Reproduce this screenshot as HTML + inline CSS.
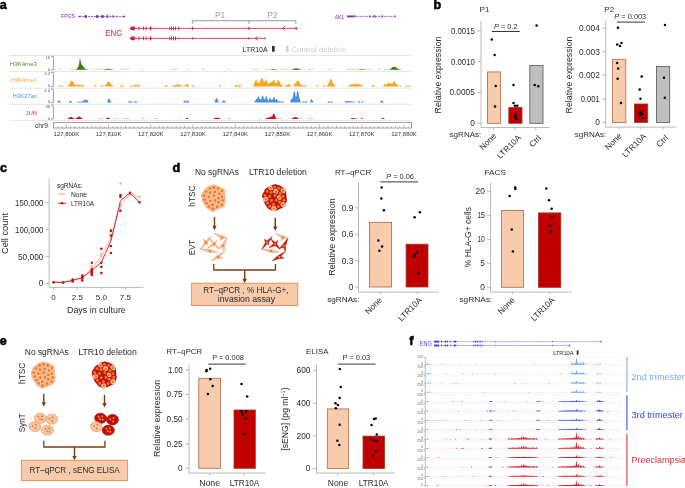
<!DOCTYPE html>
<html><head><meta charset="utf-8"><title>Figure</title>
<style>
html,body{margin:0;padding:0;background:#fff;width:685px;height:488px;overflow:hidden;}
svg{display:block;font-family:"Liberation Sans", sans-serif;will-change:transform;}
</style></head><body>
<svg width="685" height="488" viewBox="0 0 685 488" font-family='"Liberation Sans", sans-serif'>
<text x="-0.2" y="9.1" font-size="12.6" fill="#000" stroke="#000" stroke-width="0.55" font-weight="bold">a</text>
<text x="433.6" y="9.1" font-size="12.6" fill="#000" stroke="#000" stroke-width="0.55" font-weight="bold">b</text>
<text x="-0.1" y="172.2" font-size="12.6" fill="#000" stroke="#000" stroke-width="0.55" font-weight="bold">c</text>
<text x="172.5" y="172.2" font-size="12.6" fill="#000" stroke="#000" stroke-width="0.55" font-weight="bold">d</text>
<text x="-0.2" y="344.8" font-size="12.6" fill="#000" stroke="#000" stroke-width="0.55" font-weight="bold">e</text>
<text x="409.2" y="344.5" font-size="12.6" fill="#000" stroke="#000" stroke-width="0.55" font-weight="bold">f</text>
<text x="61" y="18.32" font-size="6.2" fill="#6f2cc4" textLength="14" lengthAdjust="spacingAndGlyphs">FPGS</text>
<line x1="78.5" y1="16.5" x2="125.3" y2="16.5" stroke="#6f2cc4" stroke-width="0.7" stroke-dasharray="2.2,0.9"/>
<rect x="84.8" y="15.2" width="1.8" height="2.6" fill="#6f2cc4" stroke="none" stroke-width="0.8"/>
<rect x="95.9" y="15.2" width="2.7" height="2.6" fill="#6f2cc4" stroke="none" stroke-width="0.8"/>
<rect x="101.1" y="15.2" width="2.6" height="2.6" fill="#6f2cc4" stroke="none" stroke-width="0.8"/>
<rect x="106.4" y="15.2" width="1.6" height="2.6" fill="#6f2cc4" stroke="none" stroke-width="0.8"/>
<rect x="112.5" y="15.2" width="1.2" height="2.6" fill="#6f2cc4" stroke="none" stroke-width="0.8"/>
<circle cx="85.7" cy="16.5" r="1.2" fill="#6f2cc4" stroke="none" stroke-width="0.5"/>
<polygon points="78.3,16.5 80.3,15.3 80.3,17.7" fill="#6f2cc4" stroke="none" stroke-width="0.5"/>
<polygon points="125.5,16.5 123,15.2 123,17.8" fill="#6f2cc4" stroke="none" stroke-width="0.5"/>
<line x1="109.6" y1="15.4" x2="109.6" y2="17.6" stroke="#6f2cc4" stroke-width="0.6"/>
<line x1="116.5" y1="15.4" x2="116.5" y2="17.6" stroke="#6f2cc4" stroke-width="0.6"/>
<text x="334.7" y="18.52" font-size="6.2" fill="#6f2cc4" textLength="9.4" lengthAdjust="spacingAndGlyphs">AK1</text>
<line x1="347" y1="16.4" x2="395.2" y2="16.4" stroke="#6f2cc4" stroke-width="0.7" stroke-dasharray="2.2,0.9"/>
<rect x="347" y="15.5" width="6.5" height="1.8" fill="#6f2cc4" stroke="none" stroke-width="0.8"/>
<rect x="369.5" y="15.3" width="1" height="2.2" fill="#6f2cc4" stroke="none" stroke-width="0.8"/>
<rect x="373.5" y="15.3" width="1" height="2.2" fill="#6f2cc4" stroke="none" stroke-width="0.8"/>
<rect x="374.7" y="15.3" width="1" height="2.2" fill="#6f2cc4" stroke="none" stroke-width="0.8"/>
<rect x="382" y="15.3" width="1" height="2.2" fill="#6f2cc4" stroke="none" stroke-width="0.8"/>
<rect x="394.5" y="15.3" width="1" height="2.2" fill="#6f2cc4" stroke="none" stroke-width="0.8"/>
<circle cx="354.5" cy="16.4" r="1.1" fill="none" stroke="#6f2cc4" stroke-width="0.5"/>
<text x="105.2" y="35.87" font-size="8.3" fill="#d9213a" textLength="17.1" lengthAdjust="spacingAndGlyphs">ENG</text>
<line x1="129.8" y1="28.4" x2="297" y2="28.4" stroke="#d9213a" stroke-width="0.8"/>
<polygon points="129.8,28.4 131.3,26.5 134.8,26.5 134.8,30.3 131.3,30.3" fill="#d9213a" stroke="none" stroke-width="0.5"/>
<rect x="138.55" y="26.5" width="0.9" height="3.8" fill="#d9213a" stroke="none" stroke-width="0.8"/>
<rect x="142.95" y="26.5" width="0.9" height="3.8" fill="#d9213a" stroke="none" stroke-width="0.8"/>
<rect x="145.65" y="26.5" width="0.9" height="3.8" fill="#d9213a" stroke="none" stroke-width="0.8"/>
<rect x="149.8" y="26.5" width="1.6" height="3.8" fill="#d9213a" stroke="none" stroke-width="0.8"/>
<rect x="169.35" y="26.5" width="0.9" height="3.8" fill="#d9213a" stroke="none" stroke-width="0.8"/>
<rect x="171.15" y="26.5" width="0.9" height="3.8" fill="#d9213a" stroke="none" stroke-width="0.8"/>
<rect x="173.05" y="26.5" width="0.9" height="3.8" fill="#d9213a" stroke="none" stroke-width="0.8"/>
<rect x="175.05" y="26.5" width="0.9" height="3.8" fill="#d9213a" stroke="none" stroke-width="0.8"/>
<rect x="178.3" y="26.5" width="1" height="3.8" fill="#d9213a" stroke="none" stroke-width="0.8"/>
<rect x="191.9" y="26.7" width="1" height="3.4" fill="#d9213a" stroke="none" stroke-width="0.8"/>
<rect x="248.4" y="26.7" width="1" height="3.4" fill="#d9213a" stroke="none" stroke-width="0.8"/>
<path d="M285.2,26.2 L282.2,28.4 L285.2,30.6" fill="none" stroke="#d9213a" stroke-width="0.8"/>
<polygon points="297.6,28.4 295.6,26.4 295.6,30.4" fill="#d9213a" stroke="none" stroke-width="0.5"/>
<line x1="129.8" y1="38.4" x2="265.2" y2="38.4" stroke="#d9213a" stroke-width="0.8"/>
<polygon points="129.8,38.4 131.3,36.5 134.8,36.5 134.8,40.3 131.3,40.3" fill="#d9213a" stroke="none" stroke-width="0.5"/>
<rect x="138.55" y="36.5" width="0.9" height="3.8" fill="#d9213a" stroke="none" stroke-width="0.8"/>
<rect x="142.95" y="36.5" width="0.9" height="3.8" fill="#d9213a" stroke="none" stroke-width="0.8"/>
<rect x="145.65" y="36.5" width="0.9" height="3.8" fill="#d9213a" stroke="none" stroke-width="0.8"/>
<rect x="149.8" y="36.5" width="1.6" height="3.8" fill="#d9213a" stroke="none" stroke-width="0.8"/>
<rect x="169.35" y="36.5" width="0.9" height="3.8" fill="#d9213a" stroke="none" stroke-width="0.8"/>
<rect x="171.15" y="36.5" width="0.9" height="3.8" fill="#d9213a" stroke="none" stroke-width="0.8"/>
<rect x="173.05" y="36.5" width="0.9" height="3.8" fill="#d9213a" stroke="none" stroke-width="0.8"/>
<rect x="175.05" y="36.5" width="0.9" height="3.8" fill="#d9213a" stroke="none" stroke-width="0.8"/>
<polygon points="178,38.4 178.8,37.2 179.6,38.4 178.8,39.6" fill="#d9213a" stroke="none" stroke-width="0.5"/>
<rect x="191.9" y="37.3" width="1" height="2.2" fill="#d9213a" stroke="none" stroke-width="0.8"/>
<rect x="248.4" y="37.3" width="1" height="2.2" fill="#d9213a" stroke="none" stroke-width="0.8"/>
<path d="M258.2,36.4 L255.0,38.4 L258.2,40.4" fill="none" stroke="#d9213a" stroke-width="0.8"/>
<line x1="265" y1="37.1" x2="265" y2="39.7" stroke="#d9213a" stroke-width="0.7"/>
<path d="M192.4,23.8 L192.4,20.7 L295.9,20.7 L295.9,23.8 M248.9,20.7 L248.9,23.8" fill="none" stroke="#8c8c8c" stroke-width="0.9"/>
<text x="220" y="17.51" font-size="8.4" fill="#9a9a9a" text-anchor="middle">P1</text>
<text x="272.3" y="17.51" font-size="8.4" fill="#9a9a9a" text-anchor="middle">P2</text>
<text x="242.6" y="51.66" font-size="8" fill="#222" textLength="25" lengthAdjust="spacingAndGlyphs">LTR10A</text>
<rect x="272" y="45.9" width="2.7" height="5.8" fill="#333" stroke="none" stroke-width="0.8"/>
<rect x="286.1" y="45.9" width="2.4" height="5.8" fill="#cfcfcf" stroke="none" stroke-width="0.8"/>
<text x="291.4" y="51.66" font-size="8" fill="#cdcdcd" textLength="55" lengthAdjust="spacingAndGlyphs">Control deletion</text>
<line x1="9.6" y1="55.5" x2="411.6" y2="55.5" stroke="#dedede" stroke-width="0.8"/>
<line x1="9.6" y1="71.6" x2="411.6" y2="71.6" stroke="#dedede" stroke-width="0.8"/>
<line x1="9.6" y1="88.2" x2="411.6" y2="88.2" stroke="#dedede" stroke-width="0.8"/>
<line x1="9.6" y1="104.3" x2="411.6" y2="104.3" stroke="#dedede" stroke-width="0.8"/>
<line x1="9.6" y1="120.4" x2="411.6" y2="120.4" stroke="#dedede" stroke-width="0.8"/>
<text x="37" y="65.98" font-size="6.1" fill="#4b8a22" text-anchor="end" textLength="27.2" lengthAdjust="spacingAndGlyphs">H3K4me3</text>
<text x="37" y="82.18" font-size="6.1" fill="#f4a535" text-anchor="end" textLength="26.3" lengthAdjust="spacingAndGlyphs">H3K4me1</text>
<text x="37" y="98.18" font-size="6.1" fill="#4a8fe0" text-anchor="end" textLength="24.4" lengthAdjust="spacingAndGlyphs">H3K27ac</text>
<text x="37" y="114.78" font-size="6.1" fill="#d83040" text-anchor="end" textLength="11.2" lengthAdjust="spacingAndGlyphs">JUN</text>
<path d="M51.0,56.4 L53.4,56.4 L53.4,69.8 L51.0,69.8" fill="none" stroke="#7a7a7a" stroke-width="0.7"/>
<text x="50.1" y="58.8" font-size="4.2" fill="#555" text-anchor="end">16</text>
<text x="50.1" y="70.7" font-size="4.2" fill="#555" text-anchor="end">0</text>
<rect x="53.6" y="68.8" width="2.2" height="1" fill="#cfe2bf" stroke="none" stroke-width="0.8"/>
<rect x="59.5" y="68.8" width="2.2" height="1" fill="#cfe2bf" stroke="none" stroke-width="0.8"/>
<rect x="69" y="68.8" width="6.5" height="1" fill="#cfe2bf" stroke="none" stroke-width="0.8"/>
<rect x="86.5" y="68.8" width="2.5" height="1" fill="#cfe2bf" stroke="none" stroke-width="0.8"/>
<rect x="90.9" y="68.8" width="1.4" height="1" fill="#cfe2bf" stroke="none" stroke-width="0.8"/>
<rect x="93.8" y="68.8" width="11.7" height="1" fill="#cfe2bf" stroke="none" stroke-width="0.8"/>
<rect x="111.3" y="68.8" width="2.9" height="1" fill="#cfe2bf" stroke="none" stroke-width="0.8"/>
<rect x="120" y="68.8" width="9.6" height="1" fill="#cfe2bf" stroke="none" stroke-width="0.8"/>
<rect x="140.5" y="68.8" width="2.2" height="1" fill="#cfe2bf" stroke="none" stroke-width="0.8"/>
<rect x="170.5" y="68.8" width="7.3" height="1" fill="#cfe2bf" stroke="none" stroke-width="0.8"/>
<rect x="185.9" y="68.8" width="2.9" height="1" fill="#cfe2bf" stroke="none" stroke-width="0.8"/>
<rect x="201" y="68.8" width="3.9" height="1" fill="#cfe2bf" stroke="none" stroke-width="0.8"/>
<rect x="227.5" y="68.8" width="2.9" height="1" fill="#cfe2bf" stroke="none" stroke-width="0.8"/>
<rect x="251.7" y="68.8" width="7.3" height="1" fill="#cfe2bf" stroke="none" stroke-width="0.8"/>
<rect x="265.5" y="68.8" width="12.5" height="1" fill="#cfe2bf" stroke="none" stroke-width="0.8"/>
<rect x="279.4" y="68.8" width="8.8" height="1" fill="#cfe2bf" stroke="none" stroke-width="0.8"/>
<rect x="289.6" y="68.8" width="16.1" height="1" fill="#cfe2bf" stroke="none" stroke-width="0.8"/>
<rect x="307.9" y="68.8" width="5.8" height="1" fill="#cfe2bf" stroke="none" stroke-width="0.8"/>
<rect x="327.6" y="68.8" width="4.4" height="1" fill="#cfe2bf" stroke="none" stroke-width="0.8"/>
<rect x="346" y="68.8" width="27" height="1" fill="#cfe2bf" stroke="none" stroke-width="0.8"/>
<rect x="377" y="68.8" width="4" height="1" fill="#cfe2bf" stroke="none" stroke-width="0.8"/>
<rect x="384" y="68.8" width="18.4" height="1" fill="#cfe2bf" stroke="none" stroke-width="0.8"/>
<polygon points="75.75,69.8 75.75,69.55 76,69.44 76.25,69.31 76.5,69.14 76.75,68.92 77,68.66 77.25,68.35 77.5,67.99 77.75,67.58 78,67.12 78.25,66.64 78.5,66.14 78.75,65.56 79,64.35 79.25,62.8 79.5,60.82 79.75,58.27 80,57.17 80.25,58.89 80.5,60.38 80.75,61.67 81,62.78 81.25,63.74 81.5,64.36 81.75,64.6 82,64.87 82.25,65.16 82.5,65.48 82.75,65.81 83,66.14 83.25,66.47 83.5,66.8 83.75,67.12 84,67.43 84.25,67.72 84.5,67.99 84.75,68.23 85,68.46 85.25,68.66 85.5,68.81 85.75,68.92 86,69.02 86.25,69.12 86.5,69.21 86.75,69.29 87,69.36 87.25,69.43 87.5,69.49 87.75,69.54 87.75,69.8" fill="#3e7d10" stroke="none" stroke-width="0.5"/>
<polygon points="104.5,69.8 104.5,69.5 104.75,69.44 105,69.38 105.25,69.32 105.5,69.25 105.75,69.18 106,69.11 106.25,69.05 106.5,68.99 106.75,68.94 107,68.9 107.25,68.86 107.5,68.84 107.75,68.82 108,68.81 108.25,68.8 108.5,68.8 108.75,68.8 109,68.81 109.25,68.83 109.5,68.86 109.75,68.89 110,68.93 110.25,68.98 110.5,69.04 110.75,69.1 111,69.17 111.25,69.23 111.5,69.3 111.75,69.37 112,69.43 112.25,69.49 112.5,69.54 112.5,69.8" fill="#3e7d10" stroke="none" stroke-width="0.5"/>
<polygon points="270.75,69.8 270.75,69.54 271,69.48 271.25,69.42 271.5,69.36 271.75,69.3 272,69.25 272.25,69.2 272.5,69.17 272.75,69.14 273,69.12 273.25,69.1 273.5,69.1 273.75,69.1 274,69.11 274.25,69.12 274.5,69.14 274.75,69.17 275,69.21 275.25,69.26 275.5,69.32 275.75,69.37 276,69.43 276.25,69.49 276.5,69.55 276.5,69.8" fill="#3e7d10" stroke="none" stroke-width="0.5"/>
<polygon points="292,69.8 292,69.53 292.25,69.46 292.5,69.37 292.75,69.28 293,69.18 293.25,69.08 293.5,68.97 293.75,68.86 294,68.76 294.25,68.66 294.5,68.57 294.75,68.49 295,68.42 295.25,68.37 295.5,68.33 295.75,68.31 296,68.3 296.25,68.3 296.5,68.3 296.75,68.31 297,68.33 297.25,68.37 297.5,68.41 297.75,68.46 298,68.52 298.25,68.6 298.5,68.68 298.75,68.77 299,68.86 299.25,68.96 299.5,69.05 299.75,69.14 300,69.23 300.25,69.32 300.5,69.4 300.75,69.47 301,69.53 301,69.8" fill="#3e7d10" stroke="none" stroke-width="0.5"/>
<polygon points="358.75,69.8 358.75,69.53 359,69.49 359.25,69.44 359.5,69.4 359.75,69.37 360,69.33 360.25,69.3 360.5,69.27 360.75,69.25 361,69.23 361.25,69.21 361.5,69.21 361.75,69.2 362,69.2 362.25,69.2 362.5,69.21 362.75,69.21 363,69.23 363.25,69.25 363.5,69.27 363.75,69.3 364,69.33 364.25,69.37 364.5,69.4 364.75,69.44 365,69.49 365.25,69.53 365.25,69.8" fill="#3e7d10" stroke="none" stroke-width="0.5"/>
<polygon points="389.5,69.8 389.5,69.53 389.75,69.43 390,69.31 390.25,69.17 390.5,69 390.75,68.8 391,68.59 391.25,68.37 391.5,68.13 391.75,67.9 392,67.67 392.25,67.46 392.5,67.28 392.75,67.12 393,66.99 393.25,66.9 393.5,66.84 393.75,66.81 394,66.8 394.25,66.8 394.5,66.82 394.75,66.86 395,66.92 395.25,67 395.5,67.1 395.75,67.22 396,67.37 396.25,67.53 396.5,67.7 396.75,67.88 397,68.07 397.25,68.26 397.5,68.45 397.75,68.63 398,68.8 398.25,68.96 398.5,69.11 398.75,69.23 399,69.34 399.25,69.44 399.5,69.52 399.5,69.8" fill="#3e7d10" stroke="none" stroke-width="0.5"/>
<path d="M51.0,72.5 L53.4,72.5 L53.4,86.4 L51.0,86.4" fill="none" stroke="#7a7a7a" stroke-width="0.7"/>
<text x="50.1" y="74.9" font-size="4.2" fill="#555" text-anchor="end">2.4</text>
<text x="50.1" y="87.3" font-size="4.2" fill="#555" text-anchor="end">0</text>
<polygon points="58.75,86.4 58.75,86.03 59,85.82 59.25,85.6 59.5,85.43 59.75,85.33 60,85.3 60.25,85.33 60.5,85.43 60.75,85.6 61,85.82 61.25,86.03 61.5,85.88 61.75,85.68 62,85.52 62.25,85.42 62.5,85.4 62.75,85.42 63,85.52 63.25,85.68 63.5,85.88 63.75,86.07 63.75,86.4" fill="#f5a623" stroke="none" stroke-width="0.5"/>
<polygon points="67.5,86.4 67.5,86.02 67.75,85.82 68,85.57 68.25,85.28 68.5,84.96 68.75,84.65 69,84.37 69.25,84.15 69.5,84 69.75,83.54 70,82.9 70.25,82.28 70.5,81.72 70.75,81.28 71,80.96 71.25,80.77 71.5,80.7 71.75,80.7 72,80.75 72.25,80.86 72.5,81.04 72.75,81.3 73,81.63 73.25,82.02 73.5,82.46 73.75,82.93 74,83.41 74.25,83.89 74.5,84.34 74.75,84.75 75,85.11 75.25,85.43 75.5,85.61 75.75,85.36 76,85.13 76.25,84.93 76.5,84.79 76.75,84.72 77,84.7 77.25,84.72 77.5,84.79 77.75,84.93 78,85.13 78.25,85.36 78.5,85.2 78.75,85.02 79,84.88 79.25,84.82 79.5,84.8 79.75,84.82 80,84.88 80.25,85.02 80.5,85.2 80.75,85.36 81,85.13 81.25,84.93 81.5,84.79 81.75,84.72 82,84.7 82.25,84.72 82.5,84.79 82.75,84.93 83,85.13 83.25,85.36 83.5,85.61 83.75,85.84 84,86.03 84,86.4" fill="#f5a623" stroke="none" stroke-width="0.5"/>
<polygon points="93.5,86.4 93.5,86.13 93.75,85.97 94,85.77 94.25,85.57 94.5,85.39 94.75,85.27 95,85.21 95.25,85.2 95.5,85.23 95.75,85.31 96,85.46 96.25,85.65 96.5,85.85 96.75,86.04 96.75,86.4" fill="#f5a623" stroke="none" stroke-width="0.5"/>
<polygon points="100.5,86.4 100.5,86.13 100.75,85.97 101,85.77 101.25,85.57 101.5,85.39 101.75,85.27 102,85.21 102.25,85.2 102.5,85.23 102.75,85.31 103,85.46 103.25,85.65 103.5,85.85 103.75,86.04 103.75,86.4" fill="#f5a623" stroke="none" stroke-width="0.5"/>
<polygon points="104.5,86.4 104.5,86.02 104.75,85.82 105,85.57 105.25,85.28 105.5,84.96 105.75,84.65 106,84.37 106.25,84.15 106.5,84 106.75,83.92 107,83.46 107.25,82.89 107.5,82.4 107.75,82.04 108,81.81 108.25,81.71 108.5,81.7 108.75,81.72 109,81.79 109.25,81.9 109.5,82.07 109.75,82.29 110,82.56 110.25,82.87 110.5,83.21 110.75,83.57 111,83.94 111.25,84.3 111.5,84.64 111.75,84.92 112,84.98 112.25,85.1 112.5,85.28 112.75,85.48 113,85.7 113.25,85.9 113.5,86.07 113.5,86.4" fill="#f5a623" stroke="none" stroke-width="0.5"/>
<polygon points="120,86.4 120,86.13 120.25,85.95 120.5,85.71 120.75,85.46 121,85.22 121.25,85.04 121.5,84.93 121.75,84.9 122,84.91 122.25,84.99 122.5,85.14 122.75,85.36 123,85.61 123.25,85.86 123.5,86.06 123.5,86.4" fill="#f5a623" stroke="none" stroke-width="0.5"/>
<polygon points="130,86.4 130,86.13 130.25,85.97 130.5,85.77 130.75,85.57 131,85.39 131.25,85.27 131.5,85.21 131.75,85.2 132,85.23 132.25,85.31 132.5,85.46 132.75,85.65 133,85.85 133.25,86.04 133.5,86.05 133.75,85.87 134,85.65 134.25,85.42 134.5,85.2 134.75,85.02 135,84.88 135.25,84.82 135.5,84.8 135.75,84.82 136,84.88 136.25,85.02 136.5,85.2 136.75,85.42 137,85.25 137.25,85 137.5,84.81 137.75,84.67 138,84.61 138.25,84.6 138.5,84.63 138.75,84.72 139,84.88 139.25,85.1 139.5,85.35 139.75,85.61 140,85.85 140.25,86.04 140.25,86.4" fill="#f5a623" stroke="none" stroke-width="0.5"/>
<polygon points="164.5,86.4 164.5,86.04 164.75,85.85 165,85.63 165.25,85.42 165.5,85.25 165.75,85.14 166,85.1 166.25,85.11 166.5,85.16 166.75,85.28 167,85.46 167.25,85.67 167.5,85.89 167.75,86.08 167.75,86.4" fill="#f5a623" stroke="none" stroke-width="0.5"/>
<polygon points="172,86.4 172,86.07 172.25,85.9 172.5,85.7 172.75,85.48 173,85.28 173.25,85.1 173.5,84.98 173.75,84.92 174,84.9 174.25,84.92 174.5,84.98 174.75,85.1 175,85.28 175.25,85.1 175.5,84.88 175.75,84.72 176,84.63 176.25,84.6 176.5,84.61 176.75,84.67 177,84.81 177.25,85 177.5,84.87 177.75,84.59 178,84.38 178.25,84.25 178.5,84.2 178.75,84.2 179,84.25 179.25,84.36 179.5,84.53 179.75,84.76 180,85.02 180.25,85.12 180.5,85.1 180.75,85.12 181,85.2 181.25,85.35 181.5,85.54 181.75,85.76 182,85.97 182.25,86.14 182.25,86.4" fill="#f5a623" stroke="none" stroke-width="0.5"/>
<polygon points="183.25,86.4 183.25,86.07 183.5,85.88 183.75,85.68 184,85.52 184.25,85.42 184.5,85.4 184.75,85.42 185,85.52 185.25,85.68 185.5,85.63 185.75,85.3 186,84.94 186.25,84.59 186.5,84.29 186.75,84.07 187,83.94 187.25,83.9 187.5,83.92 187.75,84 188,84.19 188.25,84.46 188.5,84.8 188.75,85.16 189,85.51 189.25,85.8 189.5,86.03 189.5,86.4" fill="#f5a623" stroke="none" stroke-width="0.5"/>
<polygon points="191.5,86.4 191.5,86.04 191.75,85.85 192,85.63 192.25,85.42 192.5,85.25 192.75,85.14 193,85.1 193.25,85.11 193.5,85.16 193.75,85.28 194,85.46 194.25,85.67 194.5,85.89 194.75,86.08 194.75,86.4" fill="#f5a623" stroke="none" stroke-width="0.5"/>
<polygon points="218.5,86.4 218.5,86.12 218.75,85.98 219,85.81 219.25,85.65 219.5,85.52 219.75,85.43 220,85.4 220.25,85.4 220.5,85.45 220.75,85.54 221,85.68 221.25,85.84 221.5,86.01 221.5,86.4" fill="#f5a623" stroke="none" stroke-width="0.5"/>
<polygon points="234,86.4 234,86.09 234.25,85.94 234.5,85.75 234.75,85.54 235,85.35 235.25,85.19 235.5,85.07 235.75,85.01 236,85 236.25,85.01 236.5,85.07 236.75,85.19 237,85.35 237.25,85.54 237.5,85.75 237.75,85.94 238,85.75 238.25,85.54 238.5,85.35 238.75,85.19 239,85.07 239.25,85.01 239.5,85 239.75,85.01 240,85.07 240.25,85.19 240.5,85.35 240.75,85.54 241,85.75 241.25,85.94 241.5,86.09 241.5,86.4" fill="#f5a623" stroke="none" stroke-width="0.5"/>
<polygon points="253,86.4 253,86.05 253.25,85.8 253.5,85.43 253.75,84.92 254,84.28 254.25,83.53 254.5,82.72 254.75,81.92 255,81.21 255.25,80.64 255.5,80.25 255.75,80.05 256,80 256.25,80.05 256.5,80.25 256.75,80.64 257,81.21 257.25,81.92 257.5,82.72 257.75,83.24 258,82.86 258.25,82.59 258.5,82.45 258.75,82.4 259,82.42 259.25,82.52 259.5,82.74 259.75,83.07 260,82.42 260.25,81.48 260.5,80.57 260.75,79.74 261,79.06 261.25,78.55 261.5,78.24 261.75,78.11 262,78.11 262.25,78.2 262.5,78.47 262.75,78.94 263,79.59 263.25,80.4 263.5,81.3 263.75,81.93 264,81.9 264.25,81.93 264.5,82.07 264.75,82.06 265,81.37 265.25,80.82 265.5,80.44 265.75,80.25 266,80.2 266.25,80.25 266.5,80.44 266.75,80.82 267,81.37 267.25,82.06 267.5,82.83 267.75,83.62 268,83.84 268.25,83.63 268.5,83.49 268.75,83.42 269,83.4 269.25,83.42 269.5,83.49 269.75,83.63 270,83.36 270.25,82.84 270.5,82.42 270.75,82.12 271,81.95 271.25,81.9 271.5,81.92 271.75,82.04 272,82.28 272.25,82.17 272.5,81.4 272.75,80.76 273,80.29 273.25,80.01 273.5,79.91 273.75,79.91 274,80.05 274.25,80.37 274.5,80.87 274.75,81.55 275,82.33 275.25,83.16 275.5,83.04 275.75,82.93 276,82.9 276.25,82.93 276.5,83.04 276.75,82.74 277,81.99 277.25,81.33 277.5,80.82 277.75,80.48 278,80.33 278.25,80.3 278.5,80.34 278.75,80.48 279,80.72 279.25,81.08 279.5,81.55 279.75,82.1 280,82.71 280.25,83.33 280.5,83.93 280.75,84.42 281,84.4 281.25,84.42 281.5,84.51 281.75,84.67 282,84.9 282.25,85.18 282.5,85.47 282.75,85.74 283,85.96 283.25,86.13 283.25,86.4" fill="#f5a623" stroke="none" stroke-width="0.5"/>
<polygon points="284.5,86.4 284.5,86.07 284.75,85.9 285,85.7 285.25,85.48 285.5,85.28 285.75,85.1 286,84.98 286.25,84.92 286.5,84.9 286.75,84.92 287,84.98 287.25,85.1 287.5,85.28 287.75,84.93 288,84.6 288.25,84.32 288.5,84.13 288.75,84.02 289,84 289.25,84.02 289.5,84.13 289.75,84.32 290,84.6 290.25,84.93 290.5,85.28 290.75,85.6 291,85.87 291.25,86.08 291.25,86.4" fill="#f5a623" stroke="none" stroke-width="0.5"/>
<polygon points="293.25,86.4 293.25,86.07 293.5,85.87 293.75,85.59 294,85.24 294.25,84.83 294.5,84.39 294.75,83.95 295,83.56 295.25,83.25 295.5,83.04 295.75,82.93 296,82.9 296.25,82.45 296.5,81.86 296.75,81.35 297,80.98 297.25,80.73 297.5,80.62 297.75,80.6 298,80.63 298.25,80.73 298.5,80.92 298.75,81.2 299,81.57 299.25,82.01 299.5,82.51 299.75,83.04 300,83.57 300.25,84.09 300.5,84.4 300.75,84.42 301,84.51 301.25,84.67 301.5,84.9 301.75,85.18 302,85.47 302.25,85.43 302.5,85.29 302.75,85.22 303,85.2 303.25,85.22 303.5,85.29 303.75,85.43 304,85.61 304.25,85.81 304.5,85.61 304.75,85.43 305,85.29 305.25,85.22 305.5,85.2 305.75,85.22 306,85.29 306.25,85.43 306.5,85.61 306.75,85.81 307,86 307,86.4" fill="#f5a623" stroke="none" stroke-width="0.5"/>
<polygon points="316,86.4 316,86.12 316.25,85.91 316.5,85.67 316.75,85.45 317,85.28 317.25,85.21 317.5,85.2 317.75,85.26 318,85.41 318.25,85.62 318.5,85.87 318.75,86.08 318.75,86.4" fill="#f5a623" stroke="none" stroke-width="0.5"/>
<polygon points="322.75,86.4 322.75,86.04 323,85.88 323.25,85.71 323.5,85.56 323.75,85.46 324,85.41 324.25,85.4 324.5,85.42 324.75,85.49 325,85.62 325.25,85.77 325.5,85.94 325.75,86.1 325.75,86.4" fill="#f5a623" stroke="none" stroke-width="0.5"/>
<polygon points="326.75,86.4 326.75,86.03 327,85.79 327.25,85.47 327.5,85.07 327.75,84.6 328,84.1 328.25,83.6 328.5,83.15 328.75,82.8 329,82.56 329.25,82.43 329.5,82.15 329.75,81.12 330,80.23 330.25,79.58 330.5,79.22 330.75,79.1 331,79.12 331.25,79.23 331.5,79.47 331.75,79.85 332,80.36 332.25,80.98 332.5,81.68 332.75,82.42 333,83.16 333.25,83.85 333.5,84.4 333.75,84.42 334,84.51 334.25,84.67 334.5,84.9 334.75,85.18 335,85.47 335.25,85.74 335.5,85.96 335.75,86.13 335.75,86.4" fill="#f5a623" stroke="none" stroke-width="0.5"/>
<polygon points="348.25,86.4 348.25,86.06 348.5,85.92 348.75,85.74 349,85.53 349.25,85.31 349.5,85.08 349.75,84.87 350,84.69 350.25,84.55 350.5,84.46 350.75,84.41 351,84.4 351.25,84.41 351.5,84.46 351.75,84.55 352,84.69 352.25,84.41 352.5,84.18 352.75,84 353,83.88 353.25,83.81 353.5,83.8 353.75,83.81 354,83.88 354.25,84 354.5,84.18 354.75,84.41 355,84.49 355.25,84.18 355.5,83.92 355.75,83.72 356,83.59 356.25,83.52 356.5,83.5 356.75,83.52 357,83.59 357.25,83.72 357.5,83.92 357.75,84.18 358,84.49 358.25,84.72 358.5,84.52 358.75,84.37 359,84.26 359.25,84.21 359.5,84.2 359.75,84.21 360,84.26 360.25,84.37 360.5,84.52 360.75,84.72 361,84.95 361.25,85.2 361.5,85.2 361.75,85.21 362,85.26 362.25,85.36 362.5,85.5 362.75,85.67 363,85.84 363.25,86 363.5,86.14 363.5,86.4" fill="#f5a623" stroke="none" stroke-width="0.5"/>
<polygon points="371.5,86.4 371.5,86.06 371.75,85.86 372,85.61 372.25,85.36 372.5,85.14 372.75,84.99 373,84.91 373.25,84.9 373.5,84.93 373.75,85.04 374,85.22 374.25,85.46 374.5,85.71 374.75,85.95 375,86.13 375,86.4" fill="#f5a623" stroke="none" stroke-width="0.5"/>
<polygon points="383,86.4 383,86.02 383.25,85.82 383.5,85.57 383.75,85.28 384,84.96 384.25,84.65 384.5,84.37 384.75,84.15 385,84 385.25,83.92 385.5,83.9 385.75,83.92 386,84 386.25,84.15 386.5,84.37 386.75,84.65 387,84.16 387.25,83.67 387.5,83.24 387.75,82.89 388,82.65 388.25,82.53 388.5,82.5 388.75,82.53 389,82.65 389.25,82.89 389.5,83.24 389.75,83.67 390,83.97 390.25,83.7 390.5,83.52 390.75,83.42 391,83.4 391.25,83.42 391.5,83.52 391.75,83.7 392,83.97 392.25,84.06 392.5,83.41 392.75,82.76 393,82.18 393.25,81.72 393.5,81.4 393.75,81.24 394,81.2 394.25,81.22 394.5,81.32 394.75,81.51 395,81.8 395.25,82.18 395.5,82.64 395.75,83.15 396,83.67 396.25,84.19 396.5,84.4 396.75,84.41 397,84.48 397.25,84.6 397.5,84.78 397.75,85 398,85.25 398.25,85.5 398.5,85.74 398.75,85.94 399,86.1 399,86.4" fill="#f5a623" stroke="none" stroke-width="0.5"/>
<polygon points="399.75,86.4 399.75,86.13 400,85.98 400.25,85.82 400.5,85.69 400.75,85.62 401,85.6 401.25,85.62 401.5,85.69 401.75,85.82 402,85.98 402.25,86.13 402.25,86.4" fill="#f5a623" stroke="none" stroke-width="0.5"/>
<polygon points="405,86.4 405,86.1 405.25,85.96 405.5,85.81 405.75,85.67 406,85.57 406.25,85.51 406.5,85.5 406.75,85.51 407,85.57 407.25,85.67 407.5,85.81 407.75,85.96 408,86.1 408.25,85.96 408.5,85.81 408.75,85.67 409,85.57 409.25,85.51 409.5,85.5 409.75,85.51 410,85.57 410.25,85.67 410.5,85.81 410.75,85.96 411,86.1 411,86.4" fill="#f5a623" stroke="none" stroke-width="0.5"/>
<path d="M51.0,89.1 L53.4,89.1 L53.4,102.5 L51.0,102.5" fill="none" stroke="#7a7a7a" stroke-width="0.7"/>
<text x="50.1" y="91.5" font-size="4.2" fill="#555" text-anchor="end">4.0</text>
<text x="50.1" y="103.4" font-size="4.2" fill="#555" text-anchor="end">0</text>
<polygon points="57,102.5 57,102.2 57.25,101.98 57.5,101.68 57.75,101.33 58,100.98 58.25,100.69 58.5,100.49 58.75,100.41 59,100.4 59.25,100.45 59.5,100.57 59.75,100.77 60,101.04 60.25,101.34 60.5,101.64 60.75,101.9 61,102.12 61,102.5" fill="#4a8fe0" stroke="none" stroke-width="0.5"/>
<polygon points="68.75,102.5 68.75,102.2 69,101.93 69.25,101.58 69.5,101.2 69.75,100.87 70,100.67 70.25,100.6 70.5,100.62 70.75,100.71 71,100.91 71.25,101.19 71.5,101.5 71.75,101.81 72,102.07 72,102.5" fill="#4a8fe0" stroke="none" stroke-width="0.5"/>
<polygon points="77.25,102.5 77.25,102.17 77.5,101.98 77.75,101.78 78,101.62 78.25,101.52 78.5,101.5 78.75,101.52 79,101.62 79.25,101.78 79.5,101.98 79.75,102.17 80,101.98 80.25,101.78 80.5,101.62 80.75,101.52 81,101.5 81.25,101.52 81.5,101.62 81.75,101.78 82,101.98 82.25,101.84 82.5,101.45 82.75,101.05 83,100.73 83.25,100.55 83.5,100.5 83.75,100.55 84,100.73 84.25,100.93 84.5,100.39 84.75,99.9 85,99.54 85.25,99.35 85.5,99.3 85.75,99.35 86,99.54 86.25,99.9 86.5,100.29 86.75,100.06 87,100 87.25,100.06 87.5,100.29 87.75,100.69 88,101.19 88.25,101.67 88.5,102.05 88.5,102.5" fill="#4a8fe0" stroke="none" stroke-width="0.5"/>
<polygon points="107,102.5 107,102.06 107.25,101.69 107.5,101.17 107.75,100.54 108,99.86 108.25,99.25 108.5,98.8 108.75,98.56 109,98.5 109.25,98.54 109.5,98.71 109.75,99.04 110,99.5 110.25,100.05 110.5,100.63 110.75,101.17 111,101.62 111.25,101.97 111.5,102.2 111.5,102.5" fill="#4a8fe0" stroke="none" stroke-width="0.5"/>
<polygon points="127.75,102.5 127.75,102.1 128,101.87 128.25,101.63 128.5,101.44 128.75,101.33 129,101.3 129.25,101.33 129.5,101.44 129.75,101.63 130,101.71 130.25,101.41 130.5,101.17 130.75,101.03 131,101 131.25,101.03 131.5,101.17 131.75,101.41 132,101.71 132.25,102 132.5,102.23 132.5,102.5" fill="#4a8fe0" stroke="none" stroke-width="0.5"/>
<polygon points="133.75,102.5 133.75,102.07 134,101.82 134.25,101.56 134.5,101.35 134.75,101.23 135,101.2 135.25,101.23 135.5,101.35 135.75,101.56 136,101.62 136.25,101.52 136.5,101.5 136.75,101.52 137,101.62 137.25,101.78 137.5,101.98 137.75,102.17 137.75,102.5" fill="#4a8fe0" stroke="none" stroke-width="0.5"/>
<polygon points="183.25,102.5 183.25,102.09 183.5,101.84 183.75,101.52 184,101.18 184.25,100.88 184.5,100.65 184.75,100.53 185,100.5 185.25,100.53 185.5,100.65 185.75,100.88 186,101.18 186.25,101.52 186.5,101.18 186.75,100.88 187,100.65 187.25,100.53 187.5,100.5 187.75,100.53 188,100.65 188.25,100.88 188.5,101.18 188.75,101.52 189,101.84 189.25,102.09 189.25,102.5" fill="#4a8fe0" stroke="none" stroke-width="0.5"/>
<polygon points="214.5,102.5 214.5,102.01 214.75,101.61 215,101.04 215.25,100.34 215.5,99.6 215.75,98.93 216,98.43 216.25,98.17 216.5,98.1 216.75,98.15 217,98.33 217.25,98.69 217.5,99.2 217.75,99.81 218,100.45 218.25,101.04 218.5,101.54 218.75,101.91 219,102.17 219,102.5" fill="#4a8fe0" stroke="none" stroke-width="0.5"/>
<polygon points="221.75,102.5 221.75,102.07 222,101.8 222.25,101.47 222.5,101.12 222.75,100.8 223,100.56 223.25,100.43 223.5,100.4 223.75,100.42 224,100.48 224.25,100.61 224.5,100.8 224.75,101.03 225,101.29 225.25,101.56 225.5,101.8 225.75,102.01 226,102.18 226,102.5" fill="#4a8fe0" stroke="none" stroke-width="0.5"/>
<polygon points="254.5,102.5 254.5,102.11 254.75,101.79 255,101.34 255.25,100.78 255.5,100.19 255.75,99.66 256,99.27 256.25,99.05 256.5,99 256.75,99.05 257,99.25 257.25,98.21 257.5,97.31 257.75,96.67 258,96.35 258.25,96.3 258.5,96.44 258.75,96.89 259,97.64 259.25,98.62 259.5,99.27 259.75,99.05 260,99 260.25,99.05 260.5,99.27 260.75,99.66 261,100.19 261.25,99.49 261.5,98.3 261.75,97.15 262,96.22 262.25,95.63 262.5,95.41 262.75,95.43 263,95.72 263.25,96.38 263.5,97.36 263.75,98.54 264,99 264.25,99.05 264.5,99.27 264.75,99.66 265,99.57 265.25,98.49 265.5,97.49 265.75,96.7 266,96.25 266.25,96.1 266.5,96.16 266.75,96.48 267,97.14 267.25,98.07 267.5,99.14 267.75,100.18 268,100.5 268.25,100.53 268.5,100.65 268.75,100.29 269,99.53 269.25,98.85 269.5,98.34 269.75,98.07 270,98 270.25,98.07 270.5,98.34 270.75,98.85 271,99.53 271.25,100.07 271.5,99.73 271.75,99.54 272,99.5 272.25,99.54 272.5,99.73 272.75,99.43 273,98.52 273.25,97.76 273.5,97.25 273.75,97.02 274,97.01 274.25,97.18 274.5,97.63 274.75,98.35 275,99.24 275.25,100.16 275.5,100.19 275.75,99.66 276,99.27 276.25,99.05 276.5,99 276.75,99.05 277,99.27 277.25,99.66 277.5,100.19 277.75,100.78 278,101.34 278.25,101.41 278.5,101.17 278.75,101.03 279,101 279.25,101.03 279.5,101.17 279.75,101.41 280,101.71 280.25,102 280.5,101.87 280.75,101.63 281,101.44 281.25,101.33 281.5,101.3 281.75,101.33 282,101.44 282.25,101.63 282.5,101.62 282.75,101.52 283,101.5 283.25,101.52 283.5,101.62 283.75,101.78 284,101.98 284.25,102.17 284.25,102.5" fill="#4a8fe0" stroke="none" stroke-width="0.5"/>
<polygon points="290,102.5 290,102.06 290.25,101.69 290.5,101.17 290.75,100.54 291,99.86 291.25,99.25 291.5,98.8 291.75,98.56 292,98.5 292.25,98.56 292.5,98.8 292.75,97.54 293,95.92 293.25,94.32 293.5,92.95 293.75,91.95 294,91.38 294.25,91.2 294.5,91.27 294.75,91.67 295,92.5 295.25,93.74 295.5,95.27 295.75,96.64 296,96.5 296.25,96.64 296.5,95.14 296.75,93.58 297,92.32 297.25,91.48 297.5,91.07 297.75,91 298,91.18 298.25,91.76 298.5,92.78 298.75,94.18 299,95.8 299.25,97.46 299.5,98.08 299.75,98.88 300,99.88 300.25,100.84 300.5,101.59 300.75,102.08 300.75,102.5" fill="#4a8fe0" stroke="none" stroke-width="0.5"/>
<polygon points="302.25,102.5 302.25,102.07 302.5,101.82 302.75,101.56 303,101.35 303.25,101.23 303.5,101.2 303.75,101.23 304,101.35 304.25,101.56 304.5,101.82 304.75,102.07 305,101.82 305.25,101.56 305.5,101.35 305.75,101.23 306,101.2 306.25,101.23 306.5,101.35 306.75,101.56 307,101.82 307.25,102.07 307.25,102.5" fill="#4a8fe0" stroke="none" stroke-width="0.5"/>
<polygon points="309.75,102.5 309.75,102.22 310,101.9 310.25,101.4 310.5,100.77 310.75,100.11 311,99.58 311.25,99.28 311.5,99.2 311.75,99.25 312,99.45 312.25,99.82 312.5,100.32 312.75,100.88 313,101.4 313.25,101.83 313.5,102.13 313.5,102.5" fill="#4a8fe0" stroke="none" stroke-width="0.5"/>
<polygon points="327.5,102.5 327.5,102.23 327.75,102 328,101.71 328.25,101.41 328.5,101.17 328.75,101.03 329,101 329.25,101.03 329.5,101.17 329.75,101.41 330,101.71 330.25,102 330.5,102.23 330.75,102.1 331,101.87 331.25,101.63 331.5,101.44 331.75,101.33 332,101.3 332.25,101.33 332.5,101.44 332.75,101.63 333,101.87 333.25,102.1 333.25,102.5" fill="#4a8fe0" stroke="none" stroke-width="0.5"/>
<polygon points="344.5,102.5 344.5,102.23 344.75,102 345,101.71 345.25,101.41 345.5,101.17 345.75,101.03 346,101 346.25,101.03 346.5,101.17 346.75,101.41 347,101.56 347.25,101.2 347.5,100.91 347.75,100.74 348,100.7 348.25,100.74 348.5,100.91 348.75,101.2 349,101.56 349.25,101.41 349.5,101.17 349.75,101.03 350,101 350.25,101.03 350.5,101.17 350.75,101.41 351,101.71 351.25,101.63 351.5,101.44 351.75,101.33 352,101.3 352.25,101.33 352.5,101.44 352.75,101.63 353,101.87 353.25,101.92 353.5,101.79 353.75,101.72 354,101.7 354.25,101.72 354.5,101.79 354.75,101.92 355,102.08 355.25,102.23 355.25,102.5" fill="#4a8fe0" stroke="none" stroke-width="0.5"/>
<polygon points="357.5,102.5 357.5,102.23 357.75,102 358,101.71 358.25,101.41 358.5,101.17 358.75,101.03 359,101 359.25,101.03 359.5,101.17 359.75,101.41 360,101.71 360.25,102 360.5,102.23 360.5,102.5" fill="#4a8fe0" stroke="none" stroke-width="0.5"/>
<polygon points="361.25,102.5 361.25,102.1 361.5,101.87 361.75,101.63 362,101.44 362.25,101.33 362.5,101.3 362.75,101.33 363,101.44 363.25,101.63 363.5,101.87 363.75,102.1 363.75,102.5" fill="#4a8fe0" stroke="none" stroke-width="0.5"/>
<polygon points="380,102.5 380,102.14 380.25,101.89 380.5,101.59 380.75,101.25 381,100.93 381.25,100.69 381.5,100.55 381.75,100.5 382,100.52 382.25,100.62 382.5,100.82 382.75,101.12 383,101.45 383.25,101.78 383.5,102.05 383.75,102.25 383.75,102.5" fill="#4a8fe0" stroke="none" stroke-width="0.5"/>
<path d="M51.0,105.2 L53.4,105.2 L53.4,119 L51.0,119" fill="none" stroke="#7a7a7a" stroke-width="0.7"/>
<text x="50.1" y="107.6" font-size="4.2" fill="#555" text-anchor="end">36</text>
<text x="50.1" y="119.9" font-size="4.2" fill="#555" text-anchor="end">0</text>
<rect x="99" y="118" width="4" height="1" fill="#f7c2ca" stroke="none" stroke-width="0.8"/>
<rect x="113.5" y="118" width="3.5" height="1" fill="#f7c2ca" stroke="none" stroke-width="0.8"/>
<rect x="122" y="118" width="7" height="1" fill="#f7c2ca" stroke="none" stroke-width="0.8"/>
<rect x="141" y="118" width="3.5" height="1" fill="#f7c2ca" stroke="none" stroke-width="0.8"/>
<rect x="153.8" y="118" width="4.2" height="1" fill="#f7c2ca" stroke="none" stroke-width="0.8"/>
<rect x="180" y="118" width="1.5" height="1" fill="#f7c2ca" stroke="none" stroke-width="0.8"/>
<rect x="226.8" y="118" width="4.2" height="1" fill="#f7c2ca" stroke="none" stroke-width="0.8"/>
<rect x="259" y="118" width="2" height="1" fill="#f7c2ca" stroke="none" stroke-width="0.8"/>
<rect x="277" y="118" width="5" height="1" fill="#f7c2ca" stroke="none" stroke-width="0.8"/>
<rect x="301" y="118" width="2" height="1" fill="#f7c2ca" stroke="none" stroke-width="0.8"/>
<rect x="307" y="118" width="6" height="1" fill="#f7c2ca" stroke="none" stroke-width="0.8"/>
<rect x="355" y="118" width="3" height="1" fill="#f7c2ca" stroke="none" stroke-width="0.8"/>
<polygon points="67.75,119 67.75,118.57 68,118.39 68.25,118.21 68.5,118.03 68.75,117.87 69,117.77 69.25,117.71 69.5,117.7 69.75,117.6 70,117.38 70.25,117.2 70.5,117.08 70.75,117.01 71,117 71.25,117.01 71.5,117.05 71.75,117.12 72,117.23 72.25,117.38 72.5,117.55 72.75,117.75 73,117.95 73.25,118.01 73.5,118.08 73.75,118.19 74,118.34 74.25,118.51 74.5,118.67 74.5,119" fill="#d0102a" stroke="none" stroke-width="0.5"/>
<polygon points="75.5,119 75.5,118.67 75.75,118.5 76,118.3 76.25,118.08 76.5,117.88 76.75,117.7 77,117.58 77.25,117.52 77.5,117.5 77.75,117.25 78,116.97 78.25,116.75 78.5,116.6 78.75,116.52 79,116.5 79.25,116.51 79.5,116.56 79.75,116.65 80,116.79 80.25,116.97 80.5,117.19 80.75,117.44 81,117.69 81.25,117.82 81.5,117.89 81.75,118.03 82,118.21 82.25,118.41 82.5,118.6 82.5,119" fill="#d0102a" stroke="none" stroke-width="0.5"/>
<polygon points="106,119 106,118.67 106.25,118.5 106.5,118.3 106.75,118.08 107,117.88 107.25,117.7 107.5,117.58 107.75,117.52 108,117.5 108.25,117.52 108.5,117.58 108.75,117.7 109,117.88 109.25,118.08 109.5,118.3 109.75,118.5 110,118.67 110,119" fill="#d0102a" stroke="none" stroke-width="0.5"/>
<polygon points="185.5,119 185.5,118.6 185.75,118.41 186,118.21 186.25,118.03 186.5,117.89 186.75,117.82 187,117.8 187.25,117.82 187.5,117.89 187.75,118.03 188,118.21 188.25,118.41 188.5,118.6 188.5,119" fill="#d0102a" stroke="none" stroke-width="0.5"/>
<polygon points="213.5,119 213.5,118.69 213.75,118.57 214,118.43 214.25,118.29 214.5,118.14 214.75,118.01 215,117.89 215.25,117.8 215.5,117.74 215.75,117.71 216,117.7 216.25,117.71 216.5,117.74 216.75,117.8 217,117.89 217.25,117.8 217.5,117.74 217.75,117.71 218,117.7 218.25,117.71 218.5,117.74 218.75,117.8 219,117.89 219.25,118.01 219.5,118.14 219.75,118.29 220,118.43 220.25,118.57 220.5,118.69 220.5,119" fill="#d0102a" stroke="none" stroke-width="0.5"/>
<polygon points="265.25,119 265.25,118.68 265.5,118.57 265.75,118.45 266,118.32 266.25,118.19 266.5,118.06 266.75,117.95 267,117.85 267.25,117.78 267.5,117.73 267.75,117.71 268,117.7 268.25,117.71 268.5,117.73 268.75,117.78 269,117.85 269.25,117.63 269.5,117.35 269.75,117.09 270,116.86 270.25,116.69 270.5,116.57 270.75,116.51 271,116.5 271.25,116.51 271.5,116.57 271.75,116.69 272,116.86 272.25,116.71 272.5,115.8 272.75,114.93 273,114.22 273.25,113.78 273.5,113.61 273.75,113.61 274,113.72 274.25,113.99 274.5,114.41 274.75,114.97 275,115.62 275.25,116.31 275.5,116.96 275.75,117.55 276,118.02 276.25,118.38 276.5,118.63 276.5,119" fill="#d0102a" stroke="none" stroke-width="0.5"/>
<polygon points="291.75,119 291.75,118.65 292,118.5 292.25,118.33 292.5,118.14 292.75,117.95 293,117.78 293.25,117.65 293.5,117.56 293.75,117.51 294,117.5 294.25,117.51 294.5,117.38 294.75,117.2 295,117.08 295.25,117.01 295.5,117 295.75,117.01 296,117.05 296.25,117.12 296.5,117.23 296.75,117.38 297,117.55 297.25,117.75 297.5,117.89 297.75,118.03 298,118.21 298.25,118.41 298.5,118.6 298.5,119" fill="#d0102a" stroke="none" stroke-width="0.5"/>
<polygon points="350.5,119 350.5,118.67 350.75,118.55 351,118.42 351.25,118.3 351.5,118.19 351.75,118.1 352,118.04 352.25,118.01 352.5,118 352.75,118.01 353,118.04 353.25,118.1 353.5,118.17 353.75,118.11 354,118.1 354.25,118.11 354.5,118.17 354.75,118.27 355,118.41 355.25,118.56 355.25,119" fill="#d0102a" stroke="none" stroke-width="0.5"/>
<polygon points="360.75,119 360.75,118.61 361,118.47 361.25,118.35 361.5,118.26 361.75,118.21 362,118.2 362.25,118.21 362.5,118.26 362.75,118.35 363,118.47 363.25,118.61 363.25,119" fill="#d0102a" stroke="none" stroke-width="0.5"/>
<polygon points="381.25,119 381.25,118.67 381.5,118.53 381.75,118.39 382,118.25 382.25,118.13 382.5,118.05 382.75,118.01 383,118 383.25,118.01 383.5,118.05 383.75,118.13 384,118.25 384.25,118.39 384.5,118.53 384.75,118.67 384.75,119" fill="#d0102a" stroke="none" stroke-width="0.5"/>
<text x="35" y="127.96" font-size="6.6" fill="#333" textLength="13" lengthAdjust="spacingAndGlyphs">chr9</text>
<rect x="53.5" y="122.6" width="358.1" height="5.4" fill="none" stroke="#8a8a8a" stroke-width="0.8"/>
<line x1="57.96" y1="128" x2="57.96" y2="125.8" stroke="#8a8a8a" stroke-width="0.6"/>
<line x1="62.18" y1="128" x2="62.18" y2="126.4" stroke="#8a8a8a" stroke-width="0.6"/>
<line x1="66.4" y1="128" x2="66.4" y2="124.4" stroke="#8a8a8a" stroke-width="0.6"/>
<line x1="70.62" y1="128" x2="70.62" y2="126.4" stroke="#8a8a8a" stroke-width="0.6"/>
<line x1="74.84" y1="128" x2="74.84" y2="125.8" stroke="#8a8a8a" stroke-width="0.6"/>
<line x1="79.06" y1="128" x2="79.06" y2="126.4" stroke="#8a8a8a" stroke-width="0.6"/>
<line x1="83.28" y1="128" x2="83.28" y2="125.8" stroke="#8a8a8a" stroke-width="0.6"/>
<line x1="87.5" y1="128" x2="87.5" y2="126.4" stroke="#8a8a8a" stroke-width="0.6"/>
<line x1="91.72" y1="128" x2="91.72" y2="125.8" stroke="#8a8a8a" stroke-width="0.6"/>
<line x1="95.94" y1="128" x2="95.94" y2="126.4" stroke="#8a8a8a" stroke-width="0.6"/>
<line x1="100.16" y1="128" x2="100.16" y2="125.8" stroke="#8a8a8a" stroke-width="0.6"/>
<line x1="104.38" y1="128" x2="104.38" y2="126.4" stroke="#8a8a8a" stroke-width="0.6"/>
<line x1="108.6" y1="128" x2="108.6" y2="124.4" stroke="#8a8a8a" stroke-width="0.6"/>
<line x1="112.82" y1="128" x2="112.82" y2="126.4" stroke="#8a8a8a" stroke-width="0.6"/>
<line x1="117.04" y1="128" x2="117.04" y2="125.8" stroke="#8a8a8a" stroke-width="0.6"/>
<line x1="121.26" y1="128" x2="121.26" y2="126.4" stroke="#8a8a8a" stroke-width="0.6"/>
<line x1="125.48" y1="128" x2="125.48" y2="125.8" stroke="#8a8a8a" stroke-width="0.6"/>
<line x1="129.7" y1="128" x2="129.7" y2="126.4" stroke="#8a8a8a" stroke-width="0.6"/>
<line x1="133.92" y1="128" x2="133.92" y2="125.8" stroke="#8a8a8a" stroke-width="0.6"/>
<line x1="138.14" y1="128" x2="138.14" y2="126.4" stroke="#8a8a8a" stroke-width="0.6"/>
<line x1="142.36" y1="128" x2="142.36" y2="125.8" stroke="#8a8a8a" stroke-width="0.6"/>
<line x1="146.58" y1="128" x2="146.58" y2="126.4" stroke="#8a8a8a" stroke-width="0.6"/>
<line x1="150.8" y1="128" x2="150.8" y2="124.4" stroke="#8a8a8a" stroke-width="0.6"/>
<line x1="155.02" y1="128" x2="155.02" y2="126.4" stroke="#8a8a8a" stroke-width="0.6"/>
<line x1="159.24" y1="128" x2="159.24" y2="125.8" stroke="#8a8a8a" stroke-width="0.6"/>
<line x1="163.46" y1="128" x2="163.46" y2="126.4" stroke="#8a8a8a" stroke-width="0.6"/>
<line x1="167.68" y1="128" x2="167.68" y2="125.8" stroke="#8a8a8a" stroke-width="0.6"/>
<line x1="171.9" y1="128" x2="171.9" y2="126.4" stroke="#8a8a8a" stroke-width="0.6"/>
<line x1="176.12" y1="128" x2="176.12" y2="125.8" stroke="#8a8a8a" stroke-width="0.6"/>
<line x1="180.34" y1="128" x2="180.34" y2="126.4" stroke="#8a8a8a" stroke-width="0.6"/>
<line x1="184.56" y1="128" x2="184.56" y2="125.8" stroke="#8a8a8a" stroke-width="0.6"/>
<line x1="188.78" y1="128" x2="188.78" y2="126.4" stroke="#8a8a8a" stroke-width="0.6"/>
<line x1="193" y1="128" x2="193" y2="124.4" stroke="#8a8a8a" stroke-width="0.6"/>
<line x1="197.22" y1="128" x2="197.22" y2="126.4" stroke="#8a8a8a" stroke-width="0.6"/>
<line x1="201.44" y1="128" x2="201.44" y2="125.8" stroke="#8a8a8a" stroke-width="0.6"/>
<line x1="205.66" y1="128" x2="205.66" y2="126.4" stroke="#8a8a8a" stroke-width="0.6"/>
<line x1="209.88" y1="128" x2="209.88" y2="125.8" stroke="#8a8a8a" stroke-width="0.6"/>
<line x1="214.1" y1="128" x2="214.1" y2="126.4" stroke="#8a8a8a" stroke-width="0.6"/>
<line x1="218.32" y1="128" x2="218.32" y2="125.8" stroke="#8a8a8a" stroke-width="0.6"/>
<line x1="222.54" y1="128" x2="222.54" y2="126.4" stroke="#8a8a8a" stroke-width="0.6"/>
<line x1="226.76" y1="128" x2="226.76" y2="125.8" stroke="#8a8a8a" stroke-width="0.6"/>
<line x1="230.98" y1="128" x2="230.98" y2="126.4" stroke="#8a8a8a" stroke-width="0.6"/>
<line x1="235.2" y1="128" x2="235.2" y2="124.4" stroke="#8a8a8a" stroke-width="0.6"/>
<line x1="239.42" y1="128" x2="239.42" y2="126.4" stroke="#8a8a8a" stroke-width="0.6"/>
<line x1="243.64" y1="128" x2="243.64" y2="125.8" stroke="#8a8a8a" stroke-width="0.6"/>
<line x1="247.86" y1="128" x2="247.86" y2="126.4" stroke="#8a8a8a" stroke-width="0.6"/>
<line x1="252.08" y1="128" x2="252.08" y2="125.8" stroke="#8a8a8a" stroke-width="0.6"/>
<line x1="256.3" y1="128" x2="256.3" y2="126.4" stroke="#8a8a8a" stroke-width="0.6"/>
<line x1="260.52" y1="128" x2="260.52" y2="125.8" stroke="#8a8a8a" stroke-width="0.6"/>
<line x1="264.74" y1="128" x2="264.74" y2="126.4" stroke="#8a8a8a" stroke-width="0.6"/>
<line x1="268.96" y1="128" x2="268.96" y2="125.8" stroke="#8a8a8a" stroke-width="0.6"/>
<line x1="273.18" y1="128" x2="273.18" y2="126.4" stroke="#8a8a8a" stroke-width="0.6"/>
<line x1="277.4" y1="128" x2="277.4" y2="124.4" stroke="#8a8a8a" stroke-width="0.6"/>
<line x1="281.62" y1="128" x2="281.62" y2="126.4" stroke="#8a8a8a" stroke-width="0.6"/>
<line x1="285.84" y1="128" x2="285.84" y2="125.8" stroke="#8a8a8a" stroke-width="0.6"/>
<line x1="290.06" y1="128" x2="290.06" y2="126.4" stroke="#8a8a8a" stroke-width="0.6"/>
<line x1="294.28" y1="128" x2="294.28" y2="125.8" stroke="#8a8a8a" stroke-width="0.6"/>
<line x1="298.5" y1="128" x2="298.5" y2="126.4" stroke="#8a8a8a" stroke-width="0.6"/>
<line x1="302.72" y1="128" x2="302.72" y2="125.8" stroke="#8a8a8a" stroke-width="0.6"/>
<line x1="306.94" y1="128" x2="306.94" y2="126.4" stroke="#8a8a8a" stroke-width="0.6"/>
<line x1="311.16" y1="128" x2="311.16" y2="125.8" stroke="#8a8a8a" stroke-width="0.6"/>
<line x1="315.38" y1="128" x2="315.38" y2="126.4" stroke="#8a8a8a" stroke-width="0.6"/>
<line x1="319.6" y1="128" x2="319.6" y2="124.4" stroke="#8a8a8a" stroke-width="0.6"/>
<line x1="323.82" y1="128" x2="323.82" y2="126.4" stroke="#8a8a8a" stroke-width="0.6"/>
<line x1="328.04" y1="128" x2="328.04" y2="125.8" stroke="#8a8a8a" stroke-width="0.6"/>
<line x1="332.26" y1="128" x2="332.26" y2="126.4" stroke="#8a8a8a" stroke-width="0.6"/>
<line x1="336.48" y1="128" x2="336.48" y2="125.8" stroke="#8a8a8a" stroke-width="0.6"/>
<line x1="340.7" y1="128" x2="340.7" y2="126.4" stroke="#8a8a8a" stroke-width="0.6"/>
<line x1="344.92" y1="128" x2="344.92" y2="125.8" stroke="#8a8a8a" stroke-width="0.6"/>
<line x1="349.14" y1="128" x2="349.14" y2="126.4" stroke="#8a8a8a" stroke-width="0.6"/>
<line x1="353.36" y1="128" x2="353.36" y2="125.8" stroke="#8a8a8a" stroke-width="0.6"/>
<line x1="357.58" y1="128" x2="357.58" y2="126.4" stroke="#8a8a8a" stroke-width="0.6"/>
<line x1="361.8" y1="128" x2="361.8" y2="124.4" stroke="#8a8a8a" stroke-width="0.6"/>
<line x1="366.02" y1="128" x2="366.02" y2="126.4" stroke="#8a8a8a" stroke-width="0.6"/>
<line x1="370.24" y1="128" x2="370.24" y2="125.8" stroke="#8a8a8a" stroke-width="0.6"/>
<line x1="374.46" y1="128" x2="374.46" y2="126.4" stroke="#8a8a8a" stroke-width="0.6"/>
<line x1="378.68" y1="128" x2="378.68" y2="125.8" stroke="#8a8a8a" stroke-width="0.6"/>
<line x1="382.9" y1="128" x2="382.9" y2="126.4" stroke="#8a8a8a" stroke-width="0.6"/>
<line x1="387.12" y1="128" x2="387.12" y2="125.8" stroke="#8a8a8a" stroke-width="0.6"/>
<line x1="391.34" y1="128" x2="391.34" y2="126.4" stroke="#8a8a8a" stroke-width="0.6"/>
<line x1="395.56" y1="128" x2="395.56" y2="125.8" stroke="#8a8a8a" stroke-width="0.6"/>
<line x1="399.78" y1="128" x2="399.78" y2="126.4" stroke="#8a8a8a" stroke-width="0.6"/>
<line x1="404" y1="128" x2="404" y2="124.4" stroke="#8a8a8a" stroke-width="0.6"/>
<line x1="408.22" y1="128" x2="408.22" y2="126.4" stroke="#8a8a8a" stroke-width="0.6"/>
<text x="66.4" y="135.55" font-size="6" fill="#333" text-anchor="middle" textLength="25.6" lengthAdjust="spacingAndGlyphs">127,800K</text>
<text x="108.6" y="135.55" font-size="6" fill="#333" text-anchor="middle" textLength="25.6" lengthAdjust="spacingAndGlyphs">127,810K</text>
<text x="150.8" y="135.55" font-size="6" fill="#333" text-anchor="middle" textLength="25.6" lengthAdjust="spacingAndGlyphs">127,820K</text>
<text x="193" y="135.55" font-size="6" fill="#333" text-anchor="middle" textLength="25.6" lengthAdjust="spacingAndGlyphs">127,830K</text>
<text x="235.2" y="135.55" font-size="6" fill="#333" text-anchor="middle" textLength="25.6" lengthAdjust="spacingAndGlyphs">127,840K</text>
<text x="277.4" y="135.55" font-size="6" fill="#333" text-anchor="middle" textLength="25.6" lengthAdjust="spacingAndGlyphs">127,850K</text>
<text x="319.6" y="135.55" font-size="6" fill="#333" text-anchor="middle" textLength="25.6" lengthAdjust="spacingAndGlyphs">127,860K</text>
<text x="361.8" y="135.55" font-size="6" fill="#333" text-anchor="middle" textLength="25.6" lengthAdjust="spacingAndGlyphs">127,870K</text>
<text x="404" y="135.55" font-size="6" fill="#333" text-anchor="middle" textLength="25.6" lengthAdjust="spacingAndGlyphs">127,880K</text>
<text x="479.6" y="11.86" font-size="8" fill="#2a2a2a">P1</text>
<text x="441.35" y="75" font-size="8.8" fill="#2a2a2a" text-anchor="middle" transform="rotate(-90 441.35 75)">Relative expression</text>
<line x1="481" y1="21" x2="481" y2="127.5" stroke="#a8a8a8" stroke-width="0.8"/>
<line x1="477.4" y1="123.2" x2="481" y2="123.2" stroke="#a8a8a8" stroke-width="0.8"/>
<text x="474.8" y="126.17" font-size="8.3" fill="#2a2a2a" text-anchor="end">0</text>
<line x1="477.4" y1="92.5" x2="481" y2="92.5" stroke="#a8a8a8" stroke-width="0.8"/>
<text x="474.8" y="95.47" font-size="8.3" fill="#2a2a2a" text-anchor="end">0.0005</text>
<line x1="477.4" y1="61.8" x2="481" y2="61.8" stroke="#a8a8a8" stroke-width="0.8"/>
<text x="474.8" y="64.77" font-size="8.3" fill="#2a2a2a" text-anchor="end" textLength="23.75" lengthAdjust="spacingAndGlyphs">0.0010</text>
<line x1="477.4" y1="31.1" x2="481" y2="31.1" stroke="#a8a8a8" stroke-width="0.8"/>
<text x="474.8" y="34.07" font-size="8.3" fill="#2a2a2a" text-anchor="end" textLength="23.75" lengthAdjust="spacingAndGlyphs">0.0015</text>
<line x1="481" y1="127.5" x2="549.9" y2="127.5" stroke="#a8a8a8" stroke-width="0.8"/>
<line x1="493.6" y1="127.5" x2="493.6" y2="129.8" stroke="#a8a8a8" stroke-width="0.8"/>
<line x1="515.2" y1="127.5" x2="515.2" y2="129.8" stroke="#a8a8a8" stroke-width="0.8"/>
<line x1="535.8" y1="127.5" x2="535.8" y2="129.8" stroke="#a8a8a8" stroke-width="0.8"/>
<rect x="487.5" y="71.9" width="12.9" height="51.4" fill="#f8cbad" stroke="#ad6a42" stroke-width="0.8"/>
<rect x="508.8" y="107.6" width="13.2" height="15.7" fill="#c00000" stroke="#9b3a20" stroke-width="0.8"/>
<rect x="529.8" y="65.5" width="13.2" height="57.8" fill="#bfbfbf" stroke="#555" stroke-width="0.8"/>
<circle cx="491.8" cy="39.4" r="1.25" fill="#000" stroke="none" stroke-width="0.5"/>
<circle cx="494.6" cy="55" r="1.25" fill="#000" stroke="none" stroke-width="0.5"/>
<circle cx="495.7" cy="86" r="1.25" fill="#000" stroke="none" stroke-width="0.5"/>
<circle cx="495" cy="106.6" r="1.25" fill="#000" stroke="none" stroke-width="0.5"/>
<circle cx="513.5" cy="85" r="1.25" fill="#000" stroke="none" stroke-width="0.5"/>
<circle cx="513.5" cy="103" r="1.25" fill="#000" stroke="none" stroke-width="0.5"/>
<circle cx="514.9" cy="105.8" r="1.25" fill="#000" stroke="none" stroke-width="0.5"/>
<circle cx="517.3" cy="105.8" r="1.25" fill="#000" stroke="none" stroke-width="0.5"/>
<circle cx="515.8" cy="115.2" r="1.25" fill="#000" stroke="none" stroke-width="0.5"/>
<circle cx="515.4" cy="117" r="1.25" fill="#000" stroke="none" stroke-width="0.5"/>
<circle cx="516.6" cy="119.2" r="1.25" fill="#000" stroke="none" stroke-width="0.5"/>
<circle cx="536.6" cy="25.6" r="1.25" fill="#000" stroke="none" stroke-width="0.5"/>
<circle cx="534.7" cy="85" r="1.25" fill="#000" stroke="none" stroke-width="0.5"/>
<circle cx="538.3" cy="86.2" r="1.25" fill="#000" stroke="none" stroke-width="0.5"/>
<text x="505.8" y="28.55" font-size="7.4" fill="#2a2a2a" text-anchor="middle"><tspan font-style="italic">P</tspan> = 0.2</text>
<line x1="491.8" y1="31.5" x2="519.8" y2="31.5" stroke="#3a3a3a" stroke-width="1"/>
<text x="449.6" y="137.06" font-size="8" fill="#2a2a2a" textLength="31.7" lengthAdjust="spacingAndGlyphs">sgRNAs:</text>
<text x="496.9" y="136.5" font-size="8.3" fill="#2a2a2a" text-anchor="end" transform="rotate(-45 496.9 136.5)">None</text>
<text x="521.4" y="138.2" font-size="8.3" fill="#2a2a2a" text-anchor="end" transform="rotate(-45 521.4 138.2)">LTR10A</text>
<text x="541.6" y="138.6" font-size="8.3" fill="#2a2a2a" text-anchor="end" transform="rotate(-45 541.6 138.6)">Ctrl</text>
<text x="604.3" y="11.66" font-size="8" fill="#2a2a2a">P2</text>
<text x="571.55" y="75" font-size="8.8" fill="#2a2a2a" text-anchor="middle" transform="rotate(-90 571.55 75)">Relative expression</text>
<line x1="605.7" y1="20.4" x2="605.7" y2="127.1" stroke="#a8a8a8" stroke-width="0.8"/>
<line x1="602.1" y1="122.4" x2="605.7" y2="122.4" stroke="#a8a8a8" stroke-width="0.8"/>
<text x="599.8" y="125.37" font-size="8.3" fill="#2a2a2a" text-anchor="end">0</text>
<line x1="602.1" y1="98.9" x2="605.7" y2="98.9" stroke="#a8a8a8" stroke-width="0.8"/>
<text x="599.8" y="101.87" font-size="8.3" fill="#2a2a2a" text-anchor="end" textLength="19.14" lengthAdjust="spacingAndGlyphs">0.001</text>
<line x1="602.1" y1="75.3" x2="605.7" y2="75.3" stroke="#a8a8a8" stroke-width="0.8"/>
<text x="599.8" y="78.27" font-size="8.3" fill="#2a2a2a" text-anchor="end">0.002</text>
<line x1="602.1" y1="51.7" x2="605.7" y2="51.7" stroke="#a8a8a8" stroke-width="0.8"/>
<text x="599.8" y="54.67" font-size="8.3" fill="#2a2a2a" text-anchor="end">0.003</text>
<line x1="602.1" y1="28.2" x2="605.7" y2="28.2" stroke="#a8a8a8" stroke-width="0.8"/>
<text x="599.8" y="31.17" font-size="8.3" fill="#2a2a2a" text-anchor="end">0.004</text>
<line x1="605.7" y1="127.1" x2="675.9" y2="127.1" stroke="#a8a8a8" stroke-width="0.8"/>
<line x1="619.2" y1="127.1" x2="619.2" y2="129.4" stroke="#a8a8a8" stroke-width="0.8"/>
<line x1="641" y1="127.1" x2="641" y2="129.4" stroke="#a8a8a8" stroke-width="0.8"/>
<line x1="663.1" y1="127.1" x2="663.1" y2="129.4" stroke="#a8a8a8" stroke-width="0.8"/>
<rect x="612.5" y="59.3" width="13.3" height="63.1" fill="#f8cbad" stroke="#ad6a42" stroke-width="0.8"/>
<rect x="634.4" y="104" width="13.3" height="18.4" fill="#c00000" stroke="#9b3a20" stroke-width="0.8"/>
<rect x="656.5" y="66.5" width="13.2" height="55.9" fill="#bfbfbf" stroke="#555" stroke-width="0.8"/>
<circle cx="618" cy="27.8" r="1.25" fill="#000" stroke="none" stroke-width="0.5"/>
<circle cx="617.2" cy="44.6" r="1.25" fill="#000" stroke="none" stroke-width="0.5"/>
<circle cx="620" cy="46" r="1.25" fill="#000" stroke="none" stroke-width="0.5"/>
<circle cx="621.5" cy="43" r="1.25" fill="#000" stroke="none" stroke-width="0.5"/>
<circle cx="617.2" cy="63.1" r="1.25" fill="#000" stroke="none" stroke-width="0.5"/>
<circle cx="618.2" cy="68.4" r="1.25" fill="#000" stroke="none" stroke-width="0.5"/>
<circle cx="617.6" cy="78.8" r="1.25" fill="#000" stroke="none" stroke-width="0.5"/>
<circle cx="621" cy="103" r="1.25" fill="#000" stroke="none" stroke-width="0.5"/>
<circle cx="641.7" cy="76.4" r="1.25" fill="#000" stroke="none" stroke-width="0.5"/>
<circle cx="639.7" cy="89.4" r="1.25" fill="#000" stroke="none" stroke-width="0.5"/>
<circle cx="640.5" cy="98.7" r="1.25" fill="#000" stroke="none" stroke-width="0.5"/>
<circle cx="641" cy="112" r="1.25" fill="#000" stroke="none" stroke-width="0.5"/>
<circle cx="639.5" cy="113" r="1.25" fill="#000" stroke="none" stroke-width="0.5"/>
<circle cx="642" cy="114" r="1.25" fill="#000" stroke="none" stroke-width="0.5"/>
<circle cx="640" cy="115" r="1.25" fill="#000" stroke="none" stroke-width="0.5"/>
<circle cx="643" cy="118" r="1.25" fill="#000" stroke="none" stroke-width="0.5"/>
<circle cx="665" cy="25" r="1.25" fill="#000" stroke="none" stroke-width="0.5"/>
<circle cx="664" cy="77.7" r="1.25" fill="#000" stroke="none" stroke-width="0.5"/>
<circle cx="664.8" cy="97.8" r="1.25" fill="#000" stroke="none" stroke-width="0.5"/>
<text x="630.3" y="19.05" font-size="7.4" fill="#2a2a2a" text-anchor="middle"><tspan font-style="italic">P</tspan> = 0.003</text>
<line x1="617" y1="22.1" x2="644.8" y2="22.1" stroke="#3a3a3a" stroke-width="1"/>
<text x="574.7" y="136.86" font-size="8" fill="#2a2a2a" textLength="31.6" lengthAdjust="spacingAndGlyphs">sgRNAs:</text>
<text x="622.3" y="136.4" font-size="8.3" fill="#2a2a2a" text-anchor="end" transform="rotate(-45 622.3 136.4)">None</text>
<text x="646.6" y="136.8" font-size="8.3" fill="#2a2a2a" text-anchor="end" transform="rotate(-45 646.6 136.8)">LTR10A</text>
<text x="668.7" y="138.5" font-size="8.3" fill="#2a2a2a" text-anchor="end" transform="rotate(-45 668.7 138.5)">Ctrl</text>
<line x1="49.1" y1="178.5" x2="49.1" y2="287.4" stroke="#a8a8a8" stroke-width="0.8"/>
<line x1="45.5" y1="283.4" x2="49.1" y2="283.4" stroke="#a8a8a8" stroke-width="0.8"/>
<text x="43.4" y="286.37" font-size="8.3" fill="#2a2a2a" text-anchor="end">0</text>
<line x1="45.5" y1="256.6" x2="49.1" y2="256.6" stroke="#a8a8a8" stroke-width="0.8"/>
<text x="43.4" y="259.57" font-size="8.3" fill="#2a2a2a" text-anchor="end">50,000</text>
<line x1="45.5" y1="229.6" x2="49.1" y2="229.6" stroke="#a8a8a8" stroke-width="0.8"/>
<text x="43.4" y="232.57" font-size="8.3" fill="#2a2a2a" text-anchor="end" textLength="28.37" lengthAdjust="spacingAndGlyphs">100,000</text>
<line x1="45.5" y1="202.6" x2="49.1" y2="202.6" stroke="#a8a8a8" stroke-width="0.8"/>
<text x="43.4" y="205.57" font-size="8.3" fill="#2a2a2a" text-anchor="end" textLength="28.37" lengthAdjust="spacingAndGlyphs">150,000</text>
<line x1="49.1" y1="287.4" x2="143.6" y2="287.4" stroke="#a8a8a8" stroke-width="0.8"/>
<line x1="53.6" y1="287.4" x2="53.6" y2="289.7" stroke="#a8a8a8" stroke-width="0.8"/>
<line x1="77.4" y1="287.4" x2="77.4" y2="289.7" stroke="#a8a8a8" stroke-width="0.8"/>
<line x1="101.3" y1="287.4" x2="101.3" y2="289.7" stroke="#a8a8a8" stroke-width="0.8"/>
<line x1="125.3" y1="287.4" x2="125.3" y2="289.7" stroke="#a8a8a8" stroke-width="0.8"/>
<text x="53.6" y="299.86" font-size="8" fill="#2a2a2a" text-anchor="middle">0</text>
<text x="77.4" y="299.86" font-size="8" fill="#2a2a2a" text-anchor="middle">2.5</text>
<text x="101.3" y="299.86" font-size="8" fill="#2a2a2a" text-anchor="middle">5.0</text>
<text x="125.3" y="299.86" font-size="8" fill="#2a2a2a" text-anchor="middle">7.5</text>
<text x="96.4" y="313.19" font-size="8.9" fill="#2a2a2a" text-anchor="middle" textLength="58.8" lengthAdjust="spacingAndGlyphs">Days in culture</text>
<text x="8.02" y="233.5" font-size="9" fill="#2a2a2a" text-anchor="middle" textLength="41" lengthAdjust="spacingAndGlyphs" transform="rotate(-90 8.02 233.5)">Cell count</text>
<polyline points="53.6,282.2 63.15,282.5 72.7,280.2 82.25,277.5 91.8,268.5 101.35,256 110.9,237.8 120.45,205 130,194.5 139.55,196.8" fill="none" stroke="#f5b48a" stroke-width="0.9"/>
<circle cx="53.6" cy="282.2" r="1.25" fill="#f5b48a" stroke="none" stroke-width="0.5"/>
<circle cx="63.15" cy="282.5" r="1.25" fill="#f5b48a" stroke="none" stroke-width="0.5"/>
<circle cx="72.7" cy="280" r="1.25" fill="#f5b48a" stroke="none" stroke-width="0.5"/>
<circle cx="82.25" cy="277" r="1.25" fill="#f5b48a" stroke="none" stroke-width="0.5"/>
<circle cx="91.8" cy="266.6" r="1.25" fill="#f5b48a" stroke="none" stroke-width="0.5"/>
<circle cx="91.8" cy="268.5" r="1.25" fill="#f5b48a" stroke="none" stroke-width="0.5"/>
<circle cx="101.35" cy="256.1" r="1.25" fill="#f5b48a" stroke="none" stroke-width="0.5"/>
<circle cx="101.35" cy="254" r="1.25" fill="#f5b48a" stroke="none" stroke-width="0.5"/>
<circle cx="110.9" cy="229.8" r="1.25" fill="#f5b48a" stroke="none" stroke-width="0.5"/>
<circle cx="110.9" cy="238.5" r="1.25" fill="#f5b48a" stroke="none" stroke-width="0.5"/>
<circle cx="120.45" cy="183.4" r="1.25" fill="#f5b48a" stroke="none" stroke-width="0.5"/>
<circle cx="120.45" cy="204.6" r="1.25" fill="#f5b48a" stroke="none" stroke-width="0.5"/>
<circle cx="120.45" cy="206.3" r="1.25" fill="#f5b48a" stroke="none" stroke-width="0.5"/>
<circle cx="130" cy="194.5" r="1.25" fill="#f5b48a" stroke="none" stroke-width="0.5"/>
<circle cx="139.55" cy="196.8" r="1.25" fill="#f5b48a" stroke="none" stroke-width="0.5"/>
<polyline points="53.6,282.2 63.15,282.3 72.7,280.5 82.25,277.5 91.8,270.5 101.35,262.4 110.9,241 120.45,200.8 130,192.9 139.55,202.3" fill="none" stroke="#c8101a" stroke-width="0.9"/>
<circle cx="53.6" cy="282.2" r="1.3" fill="#c8101a" stroke="none" stroke-width="0.5"/>
<circle cx="63.15" cy="282.6" r="1.3" fill="#c8101a" stroke="none" stroke-width="0.5"/>
<circle cx="72.7" cy="279.6" r="1.3" fill="#c8101a" stroke="none" stroke-width="0.5"/>
<circle cx="72.7" cy="280.6" r="1.3" fill="#c8101a" stroke="none" stroke-width="0.5"/>
<circle cx="72.7" cy="281.5" r="1.3" fill="#c8101a" stroke="none" stroke-width="0.5"/>
<circle cx="82.25" cy="275.6" r="1.3" fill="#c8101a" stroke="none" stroke-width="0.5"/>
<circle cx="82.25" cy="277" r="1.3" fill="#c8101a" stroke="none" stroke-width="0.5"/>
<circle cx="82.25" cy="278.5" r="1.3" fill="#c8101a" stroke="none" stroke-width="0.5"/>
<circle cx="82.25" cy="280.5" r="1.3" fill="#c8101a" stroke="none" stroke-width="0.5"/>
<circle cx="91.8" cy="262.7" r="1.3" fill="#c8101a" stroke="none" stroke-width="0.5"/>
<circle cx="91.8" cy="269.2" r="1.3" fill="#c8101a" stroke="none" stroke-width="0.5"/>
<circle cx="91.8" cy="271" r="1.3" fill="#c8101a" stroke="none" stroke-width="0.5"/>
<circle cx="91.8" cy="272.2" r="1.3" fill="#c8101a" stroke="none" stroke-width="0.5"/>
<circle cx="91.8" cy="273.3" r="1.3" fill="#c8101a" stroke="none" stroke-width="0.5"/>
<circle cx="91.8" cy="274.9" r="1.3" fill="#c8101a" stroke="none" stroke-width="0.5"/>
<circle cx="101.35" cy="248.8" r="1.3" fill="#c8101a" stroke="none" stroke-width="0.5"/>
<circle cx="101.35" cy="262.7" r="1.3" fill="#c8101a" stroke="none" stroke-width="0.5"/>
<circle cx="101.35" cy="266.9" r="1.3" fill="#c8101a" stroke="none" stroke-width="0.5"/>
<circle cx="101.35" cy="273" r="1.3" fill="#c8101a" stroke="none" stroke-width="0.5"/>
<circle cx="110.9" cy="230.9" r="1.3" fill="#c8101a" stroke="none" stroke-width="0.5"/>
<circle cx="110.9" cy="235.6" r="1.3" fill="#c8101a" stroke="none" stroke-width="0.5"/>
<circle cx="110.9" cy="246" r="1.3" fill="#c8101a" stroke="none" stroke-width="0.5"/>
<circle cx="110.9" cy="253" r="1.3" fill="#c8101a" stroke="none" stroke-width="0.5"/>
<circle cx="120.45" cy="195" r="1.3" fill="#c8101a" stroke="none" stroke-width="0.5"/>
<circle cx="120.45" cy="196.8" r="1.3" fill="#c8101a" stroke="none" stroke-width="0.5"/>
<circle cx="120.45" cy="210.7" r="1.3" fill="#c8101a" stroke="none" stroke-width="0.5"/>
<circle cx="130" cy="192.9" r="1.3" fill="#c8101a" stroke="none" stroke-width="0.5"/>
<circle cx="139.55" cy="202.3" r="1.3" fill="#c8101a" stroke="none" stroke-width="0.5"/>
<text x="57" y="187.83" font-size="6.8" fill="#2a2a2a" textLength="25.6" lengthAdjust="spacingAndGlyphs">sgRNAs:</text>
<line x1="57.9" y1="194.1" x2="66.1" y2="194.1" stroke="#f5b48a" stroke-width="0.9"/>
<circle cx="62" cy="194.1" r="1.2" fill="#f5b48a" stroke="none" stroke-width="0.5"/>
<text x="71" y="196.53" font-size="6.8" fill="#2a2a2a" textLength="16" lengthAdjust="spacingAndGlyphs">None</text>
<line x1="57.9" y1="203.2" x2="66.1" y2="203.2" stroke="#c8101a" stroke-width="0.9"/>
<circle cx="62" cy="203.2" r="1.3" fill="#c8101a" stroke="none" stroke-width="0.5"/>
<text x="71" y="205.63" font-size="6.8" fill="#2a2a2a" textLength="23" lengthAdjust="spacingAndGlyphs">LTR10A</text>
<text x="194.9" y="174.81" font-size="8.4" fill="#2a2a2a" textLength="44" lengthAdjust="spacingAndGlyphs">No sgRNAs</text>
<text x="248.9" y="174.81" font-size="8.4" fill="#2a2a2a" textLength="58" lengthAdjust="spacingAndGlyphs">LTR10 deletion</text>
<text x="195.31" y="196" font-size="8.4" fill="#2a2a2a" text-anchor="middle" textLength="21.3" lengthAdjust="spacingAndGlyphs" transform="rotate(-90 195.31 196)">hTSC</text>
<text x="195.31" y="247.5" font-size="8.4" fill="#2a2a2a" text-anchor="middle" textLength="15.5" lengthAdjust="spacingAndGlyphs" transform="rotate(-90 195.31 247.5)">EVT</text>
<polygon points="201.08,195.02 203.95,189.86 209.04,185.86 213.82,184.57 217.46,185.78 220.15,186.88 222.34,188.15 224.68,189.87 225.61,199.48 225.2,202.35 224.24,206.6 219.29,208.88 212.52,211.78 207.31,208.92 203.68,203.64 202.29,201.18" fill="#f3b48c" stroke="none" stroke-width="0.5"/>
<polygon points="212.73,189.39 210.63,191.54 207.73,190.8 206.91,187.91 209.01,185.77 211.92,186.51" fill="#f3b48c" stroke="none" stroke-width="0.5"/>
<polygon points="216.22,189.08 213.55,190.46 211.03,188.84 211.16,185.85 213.83,184.47 216.36,186.09" fill="#f3b48c" stroke="none" stroke-width="0.5"/>
<polygon points="220.63,189.79 218.26,191.63 215.49,190.49 215.08,187.52 217.45,185.68 220.23,186.82" fill="#f3b48c" stroke="none" stroke-width="0.5"/>
<polygon points="224.44,192.81 221.7,194.02 219.28,192.24 219.6,189.26 222.35,188.05 224.77,189.83" fill="#f3b48c" stroke="none" stroke-width="0.5"/>
<polygon points="208.63,193.46 205.86,194.6 203.48,192.78 203.87,189.8 206.64,188.66 209.02,190.48" fill="#f3b48c" stroke="none" stroke-width="0.5"/>
<polygon points="213.11,193.03 211.44,195.52 208.44,195.31 207.13,192.62 208.8,190.13 211.79,190.33" fill="#f3b48c" stroke="none" stroke-width="0.5"/>
<polygon points="217.88,191.97 216.34,194.55 213.35,194.51 211.88,191.89 213.42,189.31 216.42,189.35" fill="#f3b48c" stroke="none" stroke-width="0.5"/>
<polygon points="221.26,196.02 218.31,196.53 216.39,194.22 217.43,191.41 220.38,190.9 222.3,193.21" fill="#f3b48c" stroke="none" stroke-width="0.5"/>
<polygon points="206.76,196.6 204.62,198.7 201.73,197.9 200.98,194.99 203.12,192.89 206.01,193.7" fill="#f3b48c" stroke="none" stroke-width="0.5"/>
<polygon points="211.54,197.42 209.45,199.58 206.54,198.85 205.72,195.96 207.81,193.81 210.72,194.53" fill="#f3b48c" stroke="none" stroke-width="0.5"/>
<polygon points="215.5,198.39 212.5,198.4 210.99,195.81 212.48,193.21 215.48,193.19 216.99,195.78" fill="#f3b48c" stroke="none" stroke-width="0.5"/>
<polygon points="221.1,199.6 218.55,201.18 215.9,199.76 215.81,196.76 218.36,195.18 221,196.6" fill="#f3b48c" stroke="none" stroke-width="0.5"/>
<polygon points="223.94,198.99 220.99,199.51 219.07,197.2 220.1,194.39 223.06,193.87 224.98,196.18" fill="#f3b48c" stroke="none" stroke-width="0.5"/>
<polygon points="207.4,201.1 204.84,202.67 202.2,201.23 202.13,198.23 204.69,196.67 207.32,198.1" fill="#f3b48c" stroke="none" stroke-width="0.5"/>
<polygon points="212.77,202.72 209.98,203.83 207.63,201.96 208.06,199 210.85,197.89 213.2,199.75" fill="#f3b48c" stroke="none" stroke-width="0.5"/>
<polygon points="218.14,201.03 216.25,203.36 213.29,202.89 212.22,200.09 214.11,197.76 217.07,198.23" fill="#f3b48c" stroke="none" stroke-width="0.5"/>
<polygon points="225.28,202.41 222.49,203.53 220.13,201.68 220.56,198.71 223.34,197.59 225.7,199.44" fill="#f3b48c" stroke="none" stroke-width="0.5"/>
<polygon points="208.39,205.6 205.42,206.02 203.58,203.65 204.7,200.87 207.68,200.46 209.52,202.82" fill="#f3b48c" stroke="none" stroke-width="0.5"/>
<polygon points="215.06,206.29 212.43,207.73 209.87,206.16 209.94,203.16 212.57,201.73 215.13,203.29" fill="#f3b48c" stroke="none" stroke-width="0.5"/>
<polygon points="220.59,204.45 217.7,205.25 215.56,203.15 216.31,200.24 219.2,199.44 221.34,201.54" fill="#f3b48c" stroke="none" stroke-width="0.5"/>
<polygon points="224.31,206.67 221.49,207.68 219.2,205.74 219.74,202.79 222.56,201.77 224.85,203.71" fill="#f3b48c" stroke="none" stroke-width="0.5"/>
<polygon points="211.92,206.71 210.25,209.2 207.26,209 205.94,206.31 207.61,203.82 210.6,204.02" fill="#f3b48c" stroke="none" stroke-width="0.5"/>
<polygon points="219.36,208.95 216.46,209.7 214.36,207.56 215.16,204.67 218.06,203.92 220.17,206.06" fill="#f3b48c" stroke="none" stroke-width="0.5"/>
<polygon points="215.24,210.63 212.51,211.88 210.07,210.14 210.35,207.15 213.08,205.91 215.53,207.65" fill="#f3b48c" stroke="none" stroke-width="0.5"/>
<polygon points="211.91,189.19 210.4,190.72 208.32,190.19 207.74,188.12 209.24,186.59 211.32,187.12" fill="#f9cdb0" stroke="none" stroke-width="0.5"/>
<circle cx="209.82" cy="188.65" r="1.45" fill="#f07a22" stroke="none" stroke-width="0.5"/>
<polygon points="215.5,188.62 213.59,189.61 211.78,188.45 211.88,186.3 213.79,185.32 215.6,186.48" fill="#f9cdb0" stroke="none" stroke-width="0.5"/>
<circle cx="213.69" cy="187.46" r="1.45" fill="#f07a22" stroke="none" stroke-width="0.5"/>
<polygon points="219.85,189.47 218.15,190.78 216.16,189.97 215.87,187.84 217.57,186.52 219.56,187.34" fill="#f9cdb0" stroke="none" stroke-width="0.5"/>
<circle cx="217.86" cy="188.65" r="1.45" fill="#f07a22" stroke="none" stroke-width="0.5"/>
<polygon points="223.76,192.31 221.79,193.17 220.06,191.9 220.29,189.76 222.26,188.9 223.99,190.17" fill="#f9cdb0" stroke="none" stroke-width="0.5"/>
<circle cx="222.02" cy="191.04" r="1.45" fill="#f07a22" stroke="none" stroke-width="0.5"/>
<polygon points="207.95,192.94 205.97,193.76 204.26,192.45 204.55,190.32 206.53,189.5 208.24,190.81" fill="#f9cdb0" stroke="none" stroke-width="0.5"/>
<circle cx="206.25" cy="191.63" r="1.45" fill="#f07a22" stroke="none" stroke-width="0.5"/>
<polygon points="212.26,192.97 211.06,194.75 208.92,194.61 207.97,192.67 209.17,190.89 211.32,191.04" fill="#f9cdb0" stroke="none" stroke-width="0.5"/>
<circle cx="210.12" cy="192.82" r="1.45" fill="#f07a22" stroke="none" stroke-width="0.5"/>
<polygon points="217.03,191.96 215.93,193.81 213.78,193.78 212.73,191.9 213.83,190.05 215.98,190.08" fill="#f9cdb0" stroke="none" stroke-width="0.5"/>
<circle cx="214.88" cy="191.93" r="1.45" fill="#f07a22" stroke="none" stroke-width="0.5"/>
<polygon points="220.72,195.37 218.6,195.73 217.23,194.08 217.97,192.06 220.09,191.7 221.46,193.35" fill="#f9cdb0" stroke="none" stroke-width="0.5"/>
<circle cx="219.35" cy="193.71" r="1.45" fill="#f07a22" stroke="none" stroke-width="0.5"/>
<polygon points="205.94,196.37 204.41,197.88 202.33,197.3 201.8,195.22 203.33,193.72 205.4,194.29" fill="#f9cdb0" stroke="none" stroke-width="0.5"/>
<circle cx="203.87" cy="195.8" r="1.45" fill="#f07a22" stroke="none" stroke-width="0.5"/>
<polygon points="210.72,197.21 209.22,198.76 207.14,198.24 206.55,196.17 208.04,194.62 210.13,195.15" fill="#f9cdb0" stroke="none" stroke-width="0.5"/>
<circle cx="208.63" cy="196.69" r="1.45" fill="#f07a22" stroke="none" stroke-width="0.5"/>
<polygon points="215.07,197.65 212.92,197.66 211.84,195.81 212.9,193.94 215.05,193.93 216.14,195.79" fill="#f9cdb0" stroke="none" stroke-width="0.5"/>
<circle cx="213.99" cy="195.8" r="1.45" fill="#f07a22" stroke="none" stroke-width="0.5"/>
<polygon points="220.35,199.2 218.52,200.33 216.62,199.31 216.56,197.16 218.39,196.03 220.28,197.05" fill="#f9cdb0" stroke="none" stroke-width="0.5"/>
<circle cx="218.45" cy="198.18" r="1.45" fill="#f07a22" stroke="none" stroke-width="0.5"/>
<polygon points="223.4,198.34 221.28,198.71 219.91,197.06 220.65,195.04 222.77,194.67 224.14,196.32" fill="#f9cdb0" stroke="none" stroke-width="0.5"/>
<circle cx="222.02" cy="196.69" r="1.45" fill="#f07a22" stroke="none" stroke-width="0.5"/>
<polygon points="206.65,200.7 204.82,201.82 202.93,200.79 202.87,198.64 204.71,197.52 206.6,198.55" fill="#f9cdb0" stroke="none" stroke-width="0.5"/>
<circle cx="204.76" cy="199.67" r="1.45" fill="#f07a22" stroke="none" stroke-width="0.5"/>
<polygon points="212.1,202.19 210.1,202.98 208.42,201.65 208.73,199.52 210.73,198.73 212.41,200.06" fill="#f9cdb0" stroke="none" stroke-width="0.5"/>
<circle cx="210.42" cy="200.86" r="1.45" fill="#f07a22" stroke="none" stroke-width="0.5"/>
<polygon points="217.3,200.9 215.95,202.57 213.82,202.23 213.06,200.22 214.41,198.55 216.53,198.89" fill="#f9cdb0" stroke="none" stroke-width="0.5"/>
<circle cx="215.18" cy="200.56" r="1.45" fill="#f07a22" stroke="none" stroke-width="0.5"/>
<polygon points="224.61,201.89 222.61,202.69 220.92,201.36 221.22,199.23 223.22,198.43 224.91,199.76" fill="#f9cdb0" stroke="none" stroke-width="0.5"/>
<circle cx="222.92" cy="200.56" r="1.45" fill="#f07a22" stroke="none" stroke-width="0.5"/>
<polygon points="207.87,204.93 205.74,205.23 204.42,203.53 205.23,201.54 207.36,201.25 208.68,202.94" fill="#f9cdb0" stroke="none" stroke-width="0.5"/>
<circle cx="206.55" cy="203.24" r="1.45" fill="#f07a22" stroke="none" stroke-width="0.5"/>
<polygon points="214.34,205.85 212.45,206.88 210.61,205.76 210.66,203.61 212.55,202.58 214.39,203.7" fill="#f9cdb0" stroke="none" stroke-width="0.5"/>
<circle cx="212.5" cy="204.73" r="1.45" fill="#f07a22" stroke="none" stroke-width="0.5"/>
<polygon points="219.99,203.85 217.91,204.43 216.38,202.92 216.92,200.84 218.99,200.26 220.52,201.77" fill="#f9cdb0" stroke="none" stroke-width="0.5"/>
<circle cx="218.45" cy="202.35" r="1.45" fill="#f07a22" stroke="none" stroke-width="0.5"/>
<polygon points="223.66,206.12 221.64,206.84 220,205.45 220.38,203.34 222.41,202.61 224.05,204" fill="#f9cdb0" stroke="none" stroke-width="0.5"/>
<circle cx="222.02" cy="204.73" r="1.45" fill="#f07a22" stroke="none" stroke-width="0.5"/>
<polygon points="211.07,206.66 209.88,208.44 207.73,208.3 206.78,206.37 207.98,204.58 210.13,204.73" fill="#f9cdb0" stroke="none" stroke-width="0.5"/>
<circle cx="208.93" cy="206.51" r="1.45" fill="#f07a22" stroke="none" stroke-width="0.5"/>
<polygon points="218.77,208.34 216.69,208.88 215.18,207.35 215.75,205.28 217.84,204.74 219.34,206.27" fill="#f9cdb0" stroke="none" stroke-width="0.5"/>
<circle cx="217.26" cy="206.81" r="1.45" fill="#f07a22" stroke="none" stroke-width="0.5"/>
<polygon points="214.55,210.14 212.59,211.03 210.84,209.79 211.05,207.65 213,206.75 214.75,208" fill="#f9cdb0" stroke="none" stroke-width="0.5"/>
<circle cx="212.8" cy="208.89" r="1.45" fill="#f07a22" stroke="none" stroke-width="0.5"/>
<polygon points="261.97,195.67 263.27,193.08 265.18,189.3 268.52,186.59 271.19,185.48 275.42,184.36 279.74,185.59 284.32,188.14 285.92,190.56 286.82,200.3 285.04,206.51 274.87,211.29 272,210.87 268.08,208.45 265.57,205.06 263.72,201.42" fill="#b8140a" stroke="none" stroke-width="0.5"/>
<polygon points="273.21,190.18 270.44,191.33 268.05,189.51 268.44,186.53 271.21,185.38 273.59,187.2" fill="#f3b48c" stroke="none" stroke-width="0.5"/>
<polygon points="276.83,189.27 273.94,190.07 271.8,187.97 272.55,185.06 275.44,184.26 277.58,186.36" fill="#b8140a" stroke="none" stroke-width="0.5"/>
<polygon points="280.88,190.57 277.94,191.21 275.93,188.99 276.84,186.14 279.77,185.5 281.79,187.72" fill="#b8140a" stroke="none" stroke-width="0.5"/>
<polygon points="284.68,193.24 281.68,193.42 280.03,190.92 281.37,188.23 284.36,188.05 286.02,190.56" fill="#f3b48c" stroke="none" stroke-width="0.5"/>
<polygon points="269.39,193.43 266.5,194.24 264.36,192.14 265.11,189.23 268,188.43 270.14,190.52" fill="#b8140a" stroke="none" stroke-width="0.5"/>
<polygon points="272.83,194.99 269.84,195.23 268.13,192.77 269.41,190.05 272.4,189.81 274.11,192.28" fill="#b8140a" stroke="none" stroke-width="0.5"/>
<polygon points="278.88,191.72 277.3,194.27 274.3,194.18 272.88,191.54 274.46,188.99 277.46,189.08" fill="#f3b48c" stroke="none" stroke-width="0.5"/>
<polygon points="283,194.82 280.45,196.41 277.8,195.01 277.69,192.01 280.24,190.42 282.89,191.82" fill="#b8140a" stroke="none" stroke-width="0.5"/>
<polygon points="266.52,198 263.53,198.18 261.87,195.68 263.22,192.99 266.21,192.82 267.86,195.32" fill="#b8140a" stroke="none" stroke-width="0.5"/>
<polygon points="271.96,198.28 269.16,199.35 266.83,197.47 267.3,194.51 270.1,193.43 272.43,195.31" fill="#b8140a" stroke="none" stroke-width="0.5"/>
<polygon points="276.75,197.93 273.77,198.24 272,195.81 273.23,193.07 276.21,192.76 277.97,195.19" fill="#b8140a" stroke="none" stroke-width="0.5"/>
<polygon points="282.43,198.23 280.63,200.64 277.66,200.28 276.47,197.52 278.27,195.12 281.25,195.48" fill="#f3b48c" stroke="none" stroke-width="0.5"/>
<polygon points="285.67,197.81 283.12,199.39 280.48,197.97 280.38,194.98 282.93,193.39 285.57,194.81" fill="#b8140a" stroke="none" stroke-width="0.5"/>
<polygon points="268.66,200.13 266.55,202.26 263.65,201.5 262.86,198.6 264.98,196.47 267.88,197.24" fill="#f3b48c" stroke="none" stroke-width="0.5"/>
<polygon points="273.94,202.17 271.28,203.55 268.75,201.94 268.89,198.94 271.55,197.56 274.08,199.18" fill="#b8140a" stroke="none" stroke-width="0.5"/>
<polygon points="278.65,201.96 275.95,203.25 273.47,201.55 273.7,198.56 276.41,197.27 278.88,198.96" fill="#b8140a" stroke="none" stroke-width="0.5"/>
<polygon points="286.92,200.3 285.38,202.88 282.38,202.84 280.92,200.22 282.45,197.64 285.45,197.68" fill="#b8140a" stroke="none" stroke-width="0.5"/>
<polygon points="270.47,203.61 268.42,205.81 265.5,205.13 264.62,202.26 266.67,200.07 269.59,200.74" fill="#b8140a" stroke="none" stroke-width="0.5"/>
<polygon points="276.37,205.29 274.19,207.35 271.31,206.48 270.63,203.56 272.81,201.51 275.69,202.37" fill="#b8140a" stroke="none" stroke-width="0.5"/>
<polygon points="281.17,204.5 278.19,204.76 276.46,202.31 277.73,199.59 280.72,199.33 282.44,201.78" fill="#b8140a" stroke="none" stroke-width="0.5"/>
<polygon points="285.11,206.58 282.2,207.31 280.11,205.15 280.94,202.27 283.85,201.54 285.93,203.7" fill="#f3b48c" stroke="none" stroke-width="0.5"/>
<polygon points="272.89,206.71 270.98,209.02 268.02,208.52 266.97,205.71 268.88,203.4 271.84,203.9" fill="#b8140a" stroke="none" stroke-width="0.5"/>
<polygon points="280.28,208.73 277.34,209.37 275.33,207.14 276.25,204.29 279.18,203.65 281.19,205.88" fill="#b8140a" stroke="none" stroke-width="0.5"/>
<polygon points="276.77,209.03 274.91,211.38 271.94,210.95 270.83,208.16 272.69,205.8 275.66,206.24" fill="#f3b48c" stroke="none" stroke-width="0.5"/>
<polygon points="272.53,189.66 270.55,190.49 268.84,189.18 269.11,187.05 271.1,186.22 272.81,187.53" fill="#fbd8c0" stroke="none" stroke-width="0.5"/>
<circle cx="270.82" cy="188.35" r="1.45" fill="#f07a22" stroke="none" stroke-width="0.5"/>
<polygon points="276.26,188.71 274.14,189.29 272.57,187.75 273.12,185.62 275.24,185.03 276.81,186.58" fill="#d4200e" stroke="none" stroke-width="0.5"/>
<circle cx="274.69" cy="187.16" r="1.35" fill="#f07a30" stroke="none" stroke-width="0.5"/>
<polygon points="280.34,189.98 278.19,190.45 276.71,188.82 277.38,186.73 279.53,186.26 281.01,187.89" fill="#d4200e" stroke="none" stroke-width="0.5"/>
<circle cx="278.86" cy="188.35" r="1.35" fill="#f07a30" stroke="none" stroke-width="0.5"/>
<polygon points="284.21,192.53 282.06,192.66 280.88,190.87 281.84,188.94 283.98,188.81 285.17,190.61" fill="#fbd8c0" stroke="none" stroke-width="0.5"/>
<circle cx="283.02" cy="190.74" r="1.45" fill="#f07a22" stroke="none" stroke-width="0.5"/>
<polygon points="268.82,192.87 266.7,193.46 265.13,191.92 265.68,189.79 267.8,189.2 269.37,190.74" fill="#d4200e" stroke="none" stroke-width="0.5"/>
<circle cx="267.25" cy="191.33" r="1.35" fill="#f07a30" stroke="none" stroke-width="0.5"/>
<polygon points="272.37,194.33 270.18,194.51 268.93,192.7 269.87,190.71 272.06,190.53 273.31,192.34" fill="#d4200e" stroke="none" stroke-width="0.5"/>
<circle cx="271.12" cy="192.52" r="1.35" fill="#f07a30" stroke="none" stroke-width="0.5"/>
<polygon points="278.03,191.69 276.9,193.52 274.75,193.46 273.73,191.56 274.86,189.73 277.01,189.8" fill="#fbd8c0" stroke="none" stroke-width="0.5"/>
<circle cx="275.88" cy="191.63" r="1.45" fill="#f07a22" stroke="none" stroke-width="0.5"/>
<polygon points="282.29,194.44 280.42,195.61 278.48,194.58 278.4,192.38 280.27,191.22 282.21,192.25" fill="#d4200e" stroke="none" stroke-width="0.5"/>
<circle cx="280.35" cy="193.41" r="1.35" fill="#f07a30" stroke="none" stroke-width="0.5"/>
<polygon points="266.08,197.33 263.88,197.46 262.67,195.63 263.66,193.66 265.85,193.53 267.07,195.37" fill="#d4200e" stroke="none" stroke-width="0.5"/>
<circle cx="264.87" cy="195.5" r="1.35" fill="#f07a30" stroke="none" stroke-width="0.5"/>
<polygon points="271.34,197.77 269.29,198.56 267.58,197.18 267.92,195.01 269.97,194.22 271.68,195.6" fill="#d4200e" stroke="none" stroke-width="0.5"/>
<circle cx="269.63" cy="196.39" r="1.35" fill="#f07a30" stroke="none" stroke-width="0.5"/>
<polygon points="276.28,197.28 274.09,197.51 272.8,195.73 273.7,193.72 275.88,193.49 277.18,195.27" fill="#d4200e" stroke="none" stroke-width="0.5"/>
<circle cx="274.99" cy="195.5" r="1.35" fill="#f07a30" stroke="none" stroke-width="0.5"/>
<polygon points="281.59,198.13 280.3,199.85 278.16,199.6 277.32,197.62 278.61,195.9 280.74,196.16" fill="#fbd8c0" stroke="none" stroke-width="0.5"/>
<circle cx="279.45" cy="197.88" r="1.45" fill="#f07a22" stroke="none" stroke-width="0.5"/>
<polygon points="284.96,197.43 283.1,198.59 281.16,197.55 281.08,195.35 282.95,194.19 284.89,195.23" fill="#d4200e" stroke="none" stroke-width="0.5"/>
<circle cx="283.02" cy="196.39" r="1.35" fill="#f07a30" stroke="none" stroke-width="0.5"/>
<polygon points="267.84,199.92 266.33,201.44 264.25,200.89 263.68,198.82 265.2,197.29 267.28,197.84" fill="#fbd8c0" stroke="none" stroke-width="0.5"/>
<circle cx="265.76" cy="199.37" r="1.45" fill="#f07a22" stroke="none" stroke-width="0.5"/>
<polygon points="273.27,201.74 271.32,202.75 269.46,201.57 269.56,199.37 271.52,198.36 273.37,199.55" fill="#d4200e" stroke="none" stroke-width="0.5"/>
<circle cx="271.42" cy="200.56" r="1.35" fill="#f07a30" stroke="none" stroke-width="0.5"/>
<polygon points="277.99,201.5 276.01,202.45 274.19,201.21 274.36,199.02 276.35,198.07 278.16,199.31" fill="#d4200e" stroke="none" stroke-width="0.5"/>
<circle cx="276.18" cy="200.26" r="1.35" fill="#f07a30" stroke="none" stroke-width="0.5"/>
<polygon points="286.12,200.29 284.99,202.18 282.79,202.15 281.72,200.23 282.84,198.34 285.04,198.37" fill="#d4200e" stroke="none" stroke-width="0.5"/>
<circle cx="283.92" cy="200.26" r="1.35" fill="#f07a30" stroke="none" stroke-width="0.5"/>
<polygon points="269.69,203.43 268.19,205.04 266.05,204.55 265.4,202.44 266.9,200.83 269.05,201.33" fill="#d4200e" stroke="none" stroke-width="0.5"/>
<circle cx="267.55" cy="202.94" r="1.35" fill="#f07a30" stroke="none" stroke-width="0.5"/>
<polygon points="275.61,205.06 274,206.57 271.9,205.93 271.39,203.79 273,202.28 275.1,202.92" fill="#d4200e" stroke="none" stroke-width="0.5"/>
<circle cx="273.5" cy="204.43" r="1.35" fill="#f07a30" stroke="none" stroke-width="0.5"/>
<polygon points="280.71,203.85 278.52,204.04 277.26,202.24 278.19,200.24 280.38,200.05 281.64,201.85" fill="#d4200e" stroke="none" stroke-width="0.5"/>
<circle cx="279.45" cy="202.05" r="1.35" fill="#f07a30" stroke="none" stroke-width="0.5"/>
<polygon points="284.52,205.97 282.43,206.49 280.94,204.95 281.53,202.88 283.61,202.36 285.11,203.9" fill="#fbd8c0" stroke="none" stroke-width="0.5"/>
<circle cx="283.02" cy="204.43" r="1.45" fill="#f07a22" stroke="none" stroke-width="0.5"/>
<polygon points="272.1,206.58 270.7,208.27 268.53,207.91 267.76,205.85 269.16,204.15 271.33,204.52" fill="#d4200e" stroke="none" stroke-width="0.5"/>
<circle cx="269.93" cy="206.21" r="1.35" fill="#f07a30" stroke="none" stroke-width="0.5"/>
<polygon points="279.74,208.14 277.59,208.6 276.11,206.97 276.78,204.88 278.94,204.42 280.41,206.05" fill="#d4200e" stroke="none" stroke-width="0.5"/>
<circle cx="278.26" cy="206.51" r="1.35" fill="#f07a30" stroke="none" stroke-width="0.5"/>
<polygon points="275.92,208.9 274.59,210.59 272.46,210.28 271.67,208.28 273,206.59 275.13,206.91" fill="#fbd8c0" stroke="none" stroke-width="0.5"/>
<circle cx="273.8" cy="208.59" r="1.45" fill="#f07a22" stroke="none" stroke-width="0.5"/>
<line x1="214.5" y1="217" x2="214.5" y2="226.3" stroke="#7a3c14" stroke-width="1.4"/>
<polygon points="212.3,225.8 216.7,225.8 214.5,230.2" fill="#7a3c14" stroke="none" stroke-width="0.5"/>
<line x1="275.3" y1="217.8" x2="275.3" y2="227.1" stroke="#7a3c14" stroke-width="1.4"/>
<polygon points="273.1,226.6 277.5,226.6 275.3,231" fill="#7a3c14" stroke="none" stroke-width="0.5"/>
<polygon points="207.79,245.08 205.9,244.1 200.62,249.66 204.3,242.54 203.18,239.17 205.93,240.9 211.12,236.57 207.5,242.57" fill="#f8c6a4" stroke="#e28c5a" stroke-width="0.45" stroke-linejoin="round"/>
<circle cx="205.9" cy="242.5" r="1.15" fill="#f07a22" stroke="none" stroke-width="0.5"/>
<polygon points="218.98,248.98 213.89,245.69 207.76,247.72 212.52,243.82 208.77,237.86 214.03,242.5 216.67,240.53 215.69,243.97" fill="#f8c6a4" stroke="#e28c5a" stroke-width="0.45" stroke-linejoin="round"/>
<circle cx="214.1" cy="244.1" r="1.15" fill="#f07a22" stroke="none" stroke-width="0.5"/>
<polygon points="220.3,240.5 220.37,237.95 214.39,233.3 222.25,235.94 226.19,237.2 222.77,238.84" fill="#f8c6a4" stroke="#e28c5a" stroke-width="0.45" stroke-linejoin="round"/>
<circle cx="221.9" cy="237.5" r="1.15" fill="#f07a22" stroke="none" stroke-width="0.5"/>
<polygon points="224.19,251.56 222.29,247.18 217.67,249.02 221.72,244.62 226.91,237.87 224.49,245.9" fill="#f8c6a4" stroke="#e28c5a" stroke-width="0.45" stroke-linejoin="round"/>
<circle cx="222.9" cy="245.7" r="1.15" fill="#f07a22" stroke="none" stroke-width="0.5"/>
<polygon points="217.69,252.29 209.5,252.57 200.62,249 210.1,249.43" fill="#f8c6a4" stroke="#e28c5a" stroke-width="0.45" stroke-linejoin="round"/>
<circle cx="209.8" cy="251" r="1.15" fill="#f07a22" stroke="none" stroke-width="0.5"/>
<polygon points="222.93,258.21 218.2,258.49 211.12,260.79 217.08,255.59 224.24,251.57 219.56,256.55" fill="#f8c6a4" stroke="#e28c5a" stroke-width="0.45" stroke-linejoin="round"/>
<circle cx="218" cy="256.9" r="1.15" fill="#f07a22" stroke="none" stroke-width="0.5"/>
<polygon points="268.89,245.08 267,244.1 261.72,249.66 265.4,242.54 264.28,239.17 267.03,240.9 272.22,236.57 268.6,242.57" fill="#c81a0a" stroke="#a81208" stroke-width="0.45" stroke-linejoin="round"/>
<circle cx="267" cy="242.5" r="1.15" fill="#f08a30" stroke="none" stroke-width="0.5"/>
<polygon points="280.08,248.98 274.99,245.69 268.86,247.72 273.62,243.82 269.87,237.86 275.13,242.5 277.77,240.53 276.79,243.97" fill="#c81a0a" stroke="#a81208" stroke-width="0.45" stroke-linejoin="round"/>
<circle cx="275.2" cy="244.1" r="1.15" fill="#f08a30" stroke="none" stroke-width="0.5"/>
<polygon points="281.4,240.5 281.47,237.95 275.49,233.3 283.35,235.94 287.29,237.2 283.87,238.84" fill="#f8c6a4" stroke="#e28c5a" stroke-width="0.45" stroke-linejoin="round"/>
<circle cx="283" cy="237.5" r="1.15" fill="#f07a22" stroke="none" stroke-width="0.5"/>
<polygon points="285.29,251.56 283.39,247.18 278.77,249.02 282.82,244.62 288.01,237.87 285.59,245.9" fill="#c81a0a" stroke="#a81208" stroke-width="0.45" stroke-linejoin="round"/>
<circle cx="284" cy="245.7" r="1.15" fill="#f08a30" stroke="none" stroke-width="0.5"/>
<polygon points="278.79,252.29 270.6,252.57 261.72,249 271.2,249.43" fill="#f8c6a4" stroke="#e28c5a" stroke-width="0.45" stroke-linejoin="round"/>
<circle cx="270.9" cy="251" r="1.15" fill="#f07a22" stroke="none" stroke-width="0.5"/>
<polygon points="284.03,258.21 279.3,258.49 272.22,260.79 278.18,255.59 285.34,251.57 280.66,256.55" fill="#c81a0a" stroke="#a81208" stroke-width="0.45" stroke-linejoin="round"/>
<circle cx="279.1" cy="256.9" r="1.15" fill="#f08a30" stroke="none" stroke-width="0.5"/>
<path d="M213.8,264.0 L213.8,270.0 L275.5,270.0 L275.5,264.0" fill="none" stroke="#7a3c14" stroke-width="1.3"/>
<line x1="244.7" y1="270" x2="244.7" y2="279.3" stroke="#7a3c14" stroke-width="1.4"/>
<polygon points="242.5,278.8 246.9,278.8 244.7,283.2" fill="#7a3c14" stroke="none" stroke-width="0.5"/>
<rect x="191.4" y="283.2" width="106.4" height="22.4" fill="#f8cbad" stroke="#ee8a48" stroke-width="0.9"/>
<text x="245.9" y="292.61" font-size="8.4" fill="#2a2a2a" text-anchor="middle" textLength="85.4" lengthAdjust="spacingAndGlyphs">RT–qPCR , % HLA-G+,</text>
<text x="246.4" y="302.21" font-size="8.4" fill="#2a2a2a" text-anchor="middle" textLength="57.2" lengthAdjust="spacingAndGlyphs">invasion assay</text>
<text x="334.9" y="175.16" font-size="8" fill="#2a2a2a" textLength="36.4" lengthAdjust="spacingAndGlyphs">RT–qPCR</text>
<text x="335.05" y="237.1" font-size="8.8" fill="#2a2a2a" text-anchor="middle" textLength="77.4" lengthAdjust="spacingAndGlyphs" transform="rotate(-90 335.05 237.1)">Relative expression</text>
<line x1="358.5" y1="182.4" x2="358.5" y2="292.1" stroke="#a8a8a8" stroke-width="0.8"/>
<line x1="354.9" y1="287" x2="358.5" y2="287" stroke="#a8a8a8" stroke-width="0.8"/>
<text x="353.3" y="289.97" font-size="8.3" fill="#2a2a2a" text-anchor="end">0</text>
<line x1="354.9" y1="260.6" x2="358.5" y2="260.6" stroke="#a8a8a8" stroke-width="0.8"/>
<text x="353.3" y="263.57" font-size="8.3" fill="#2a2a2a" text-anchor="end">0.3</text>
<line x1="354.9" y1="234.3" x2="358.5" y2="234.3" stroke="#a8a8a8" stroke-width="0.8"/>
<text x="353.3" y="237.27" font-size="8.3" fill="#2a2a2a" text-anchor="end">0.6</text>
<line x1="354.9" y1="207.8" x2="358.5" y2="207.8" stroke="#a8a8a8" stroke-width="0.8"/>
<text x="353.3" y="210.77" font-size="8.3" fill="#2a2a2a" text-anchor="end">0.9</text>
<line x1="358.5" y1="292.1" x2="438.9" y2="292.1" stroke="#a8a8a8" stroke-width="0.8"/>
<line x1="380.5" y1="292.1" x2="380.5" y2="294.4" stroke="#a8a8a8" stroke-width="0.8"/>
<line x1="417.3" y1="292.1" x2="417.3" y2="294.4" stroke="#a8a8a8" stroke-width="0.8"/>
<rect x="369.4" y="222.3" width="22.2" height="64.7" fill="#f8cbad" stroke="#ad6a42" stroke-width="0.8"/>
<rect x="406.1" y="244.2" width="21.9" height="42.8" fill="#c00000" stroke="#9b3a20" stroke-width="0.8"/>
<circle cx="381.6" cy="187.5" r="1.25" fill="#000" stroke="none" stroke-width="0.5"/>
<circle cx="381.3" cy="198.5" r="1.25" fill="#000" stroke="none" stroke-width="0.5"/>
<circle cx="383.9" cy="210.3" r="1.25" fill="#000" stroke="none" stroke-width="0.5"/>
<circle cx="378.4" cy="240.5" r="1.25" fill="#000" stroke="none" stroke-width="0.5"/>
<circle cx="382.1" cy="246.6" r="1.25" fill="#000" stroke="none" stroke-width="0.5"/>
<circle cx="379.4" cy="250.7" r="1.25" fill="#000" stroke="none" stroke-width="0.5"/>
<circle cx="414.6" cy="217.3" r="1.25" fill="#000" stroke="none" stroke-width="0.5"/>
<circle cx="419.8" cy="212.2" r="1.25" fill="#000" stroke="none" stroke-width="0.5"/>
<circle cx="416.9" cy="252.2" r="1.25" fill="#000" stroke="none" stroke-width="0.5"/>
<circle cx="414.7" cy="255.2" r="1.25" fill="#000" stroke="none" stroke-width="0.5"/>
<circle cx="414" cy="256.5" r="1.25" fill="#000" stroke="none" stroke-width="0.5"/>
<circle cx="418.4" cy="273.3" r="1.25" fill="#000" stroke="none" stroke-width="0.5"/>
<text x="400.1" y="178.75" font-size="7.4" fill="#2a2a2a" text-anchor="middle"><tspan font-style="italic">P</tspan> = 0.06</text>
<line x1="380.4" y1="181.9" x2="418.1" y2="181.9" stroke="#3a3a3a" stroke-width="1"/>
<text x="327.2" y="301.76" font-size="8" fill="#2a2a2a" textLength="32.3" lengthAdjust="spacingAndGlyphs">sgRNAs:</text>
<text x="382.5" y="300.7" font-size="8.3" fill="#2a2a2a" text-anchor="end" transform="rotate(-45 382.5 300.7)">None</text>
<text x="422.5" y="300.7" font-size="8.3" fill="#2a2a2a" text-anchor="end" transform="rotate(-45 422.5 300.7)">LTR10A</text>
<text x="484.5" y="174.76" font-size="8" fill="#2a2a2a" textLength="21.4" lengthAdjust="spacingAndGlyphs">FACS</text>
<text x="471.28" y="237.1" font-size="8.6" fill="#2a2a2a" text-anchor="middle" textLength="60.2" lengthAdjust="spacingAndGlyphs" transform="rotate(-90 471.28 237.1)">% HLA-G+ cells</text>
<line x1="490.6" y1="182.8" x2="490.6" y2="292.1" stroke="#a8a8a8" stroke-width="0.8"/>
<line x1="487" y1="287.3" x2="490.6" y2="287.3" stroke="#a8a8a8" stroke-width="0.8"/>
<text x="484.8" y="290.27" font-size="8.3" fill="#2a2a2a" text-anchor="end">0</text>
<line x1="487" y1="263.4" x2="490.6" y2="263.4" stroke="#a8a8a8" stroke-width="0.8"/>
<text x="484.8" y="266.37" font-size="8.3" fill="#2a2a2a" text-anchor="end">5</text>
<line x1="487" y1="239.5" x2="490.6" y2="239.5" stroke="#a8a8a8" stroke-width="0.8"/>
<text x="484.8" y="242.47" font-size="8.3" fill="#2a2a2a" text-anchor="end" textLength="7.6" lengthAdjust="spacingAndGlyphs">10</text>
<line x1="487" y1="215.4" x2="490.6" y2="215.4" stroke="#a8a8a8" stroke-width="0.8"/>
<text x="484.8" y="218.37" font-size="8.3" fill="#2a2a2a" text-anchor="end" textLength="7.6" lengthAdjust="spacingAndGlyphs">15</text>
<line x1="487" y1="191.3" x2="490.6" y2="191.3" stroke="#a8a8a8" stroke-width="0.8"/>
<text x="484.8" y="194.27" font-size="8.3" fill="#2a2a2a" text-anchor="end">20</text>
<line x1="490.6" y1="292.1" x2="571.7" y2="292.1" stroke="#a8a8a8" stroke-width="0.8"/>
<line x1="512.3" y1="292.1" x2="512.3" y2="294.4" stroke="#a8a8a8" stroke-width="0.8"/>
<line x1="549.5" y1="292.1" x2="549.5" y2="294.4" stroke="#a8a8a8" stroke-width="0.8"/>
<rect x="501.6" y="210.4" width="21.9" height="76.9" fill="#f8cbad" stroke="#ad6a42" stroke-width="0.8"/>
<rect x="538.5" y="212.9" width="22.3" height="74.4" fill="#c00000" stroke="#9b3a20" stroke-width="0.8"/>
<circle cx="515.2" cy="187.5" r="1.25" fill="#000" stroke="none" stroke-width="0.5"/>
<circle cx="515.4" cy="189" r="1.25" fill="#000" stroke="none" stroke-width="0.5"/>
<circle cx="509.6" cy="195.9" r="1.25" fill="#000" stroke="none" stroke-width="0.5"/>
<circle cx="511.7" cy="229.5" r="1.25" fill="#000" stroke="none" stroke-width="0.5"/>
<circle cx="512.9" cy="251.4" r="1.25" fill="#000" stroke="none" stroke-width="0.5"/>
<circle cx="546.3" cy="188.4" r="1.25" fill="#000" stroke="none" stroke-width="0.5"/>
<circle cx="549" cy="200.3" r="1.25" fill="#000" stroke="none" stroke-width="0.5"/>
<circle cx="551.6" cy="208.7" r="1.25" fill="#000" stroke="none" stroke-width="0.5"/>
<circle cx="552" cy="217.3" r="1.25" fill="#000" stroke="none" stroke-width="0.5"/>
<circle cx="549.8" cy="225.7" r="1.25" fill="#000" stroke="none" stroke-width="0.5"/>
<circle cx="551.2" cy="231.8" r="1.25" fill="#000" stroke="none" stroke-width="0.5"/>
<text x="459.4" y="301.76" font-size="8" fill="#2a2a2a" textLength="33" lengthAdjust="spacingAndGlyphs">sgRNAs:</text>
<text x="515.3" y="300.7" font-size="8.3" fill="#2a2a2a" text-anchor="end" transform="rotate(-45 515.3 300.7)">None</text>
<text x="555.3" y="300.7" font-size="8.3" fill="#2a2a2a" text-anchor="end" transform="rotate(-45 555.3 300.7)">LTR10A</text>
<text x="24.8" y="354.71" font-size="8.4" fill="#2a2a2a" textLength="44" lengthAdjust="spacingAndGlyphs">No sgRNAs</text>
<text x="78.3" y="354.71" font-size="8.4" fill="#2a2a2a" textLength="58.5" lengthAdjust="spacingAndGlyphs">LTR10 deletion</text>
<text x="24.81" y="373.3" font-size="8.4" fill="#2a2a2a" text-anchor="middle" textLength="21.3" lengthAdjust="spacingAndGlyphs" transform="rotate(-90 24.81 373.3)">hTSC</text>
<text x="24.81" y="422.8" font-size="8.4" fill="#2a2a2a" text-anchor="middle" textLength="19" lengthAdjust="spacingAndGlyphs" transform="rotate(-90 24.81 422.8)">SynT</text>
<polygon points="30.98,373.79 31.38,370.92 33.55,367.06 37.04,364.23 39.48,362.66 43.67,361.47 48.9,362.94 54.28,366.4 55.62,377.41 54.68,382.1 52.84,384.34 43.89,388.39 40.99,388.21 37.24,385.9 34.99,382.7 33.45,380.25 31.72,377.14" fill="#f3b48c" stroke="none" stroke-width="0.5"/>
<polygon points="42.29,366.92 39.77,368.55 37.1,367.18 36.95,364.19 39.47,362.56 42.14,363.93" fill="#f3b48c" stroke="none" stroke-width="0.5"/>
<polygon points="45.99,366.02 43.3,367.36 40.8,365.7 40.99,362.7 43.68,361.37 46.18,363.03" fill="#f3b48c" stroke="none" stroke-width="0.5"/>
<polygon points="49.36,368.03 46.37,368.26 44.67,365.79 45.96,363.08 48.95,362.85 50.65,365.32" fill="#f3b48c" stroke="none" stroke-width="0.5"/>
<polygon points="54.47,369.34 51.93,370.93 49.28,369.53 49.17,366.53 51.72,364.94 54.37,366.34" fill="#f3b48c" stroke="none" stroke-width="0.5"/>
<polygon points="38.64,370.05 36.03,371.53 33.44,370.01 33.46,367.01 36.07,365.53 38.66,367.05" fill="#f3b48c" stroke="none" stroke-width="0.5"/>
<polygon points="42.37,371.45 39.64,372.71 37.19,370.98 37.47,367.99 40.19,366.73 42.64,368.47" fill="#f3b48c" stroke="none" stroke-width="0.5"/>
<polygon points="47.63,369.41 45.65,371.67 42.71,371.09 41.74,368.25 43.71,365.99 46.65,366.57" fill="#f3b48c" stroke="none" stroke-width="0.5"/>
<polygon points="51.72,372.15 49.11,373.61 46.53,372.08 46.57,369.08 49.18,367.61 51.76,369.15" fill="#f3b48c" stroke="none" stroke-width="0.5"/>
<polygon points="36.04,374.54 33.26,375.67 30.89,373.83 31.3,370.86 34.08,369.73 36.45,371.56" fill="#f3b48c" stroke="none" stroke-width="0.5"/>
<polygon points="40.45,375.81 37.52,376.45 35.5,374.24 36.41,371.38 39.34,370.73 41.36,372.95" fill="#f3b48c" stroke="none" stroke-width="0.5"/>
<polygon points="46.77,372.99 45.03,375.43 42.04,375.14 40.8,372.4 42.55,369.96 45.54,370.26" fill="#f3b48c" stroke="none" stroke-width="0.5"/>
<polygon points="51.1,376.02 48.87,378.02 46.02,377.08 45.4,374.14 47.64,372.14 50.49,373.08" fill="#f3b48c" stroke="none" stroke-width="0.5"/>
<polygon points="54.81,373.87 53.07,376.32 50.08,376.03 48.84,373.31 50.58,370.86 53.56,371.15" fill="#f3b48c" stroke="none" stroke-width="0.5"/>
<polygon points="36.55,378.82 33.61,379.41 31.62,377.16 32.58,374.32 35.52,373.72 37.5,375.97" fill="#f3b48c" stroke="none" stroke-width="0.5"/>
<polygon points="42.46,379.75 39.61,380.7 37.37,378.7 37.97,375.77 40.82,374.82 43.06,376.81" fill="#f3b48c" stroke="none" stroke-width="0.5"/>
<polygon points="47.98,377.59 46.36,380.12 43.37,379.99 41.98,377.33 43.59,374.8 46.59,374.93" fill="#f3b48c" stroke="none" stroke-width="0.5"/>
<polygon points="54.26,380.03 51.27,380.09 49.72,377.52 51.17,374.89 54.17,374.83 55.72,377.4" fill="#f3b48c" stroke="none" stroke-width="0.5"/>
<polygon points="37.94,382.68 34.94,382.79 33.35,380.25 34.75,377.6 37.75,377.49 39.35,380.03" fill="#f3b48c" stroke="none" stroke-width="0.5"/>
<polygon points="44.62,383.52 41.82,384.59 39.49,382.69 39.98,379.73 42.78,378.67 45.11,380.56" fill="#f3b48c" stroke="none" stroke-width="0.5"/>
<polygon points="50.65,381.05 47.89,382.22 45.49,380.42 45.85,377.44 48.61,376.27 51.01,378.07" fill="#f3b48c" stroke="none" stroke-width="0.5"/>
<polygon points="54.78,382.12 52.88,384.44 49.92,383.94 48.86,381.13 50.77,378.82 53.73,379.31" fill="#f3b48c" stroke="none" stroke-width="0.5"/>
<polygon points="41.73,383.46 40.19,386.03 37.19,385.99 35.73,383.36 37.27,380.79 40.27,380.84" fill="#f3b48c" stroke="none" stroke-width="0.5"/>
<polygon points="49.61,385.29 46.97,386.71 44.42,385.13 44.51,382.13 47.15,380.71 49.7,382.29" fill="#f3b48c" stroke="none" stroke-width="0.5"/>
<polygon points="45.59,385.98 43.93,388.48 40.94,388.29 39.6,385.61 41.26,383.11 44.26,383.29" fill="#f3b48c" stroke="none" stroke-width="0.5"/>
<polygon points="41.53,366.54 39.73,367.7 37.82,366.72 37.71,364.57 39.51,363.41 41.43,364.39" fill="#f9cdb0" stroke="none" stroke-width="0.5"/>
<circle cx="39.62" cy="365.55" r="1.45" fill="#f07a22" stroke="none" stroke-width="0.5"/>
<polygon points="45.28,365.55 43.36,366.51 41.56,365.32 41.7,363.17 43.62,362.22 45.42,363.41" fill="#f9cdb0" stroke="none" stroke-width="0.5"/>
<circle cx="43.49" cy="364.36" r="1.45" fill="#f07a22" stroke="none" stroke-width="0.5"/>
<polygon points="48.88,367.33 46.73,367.5 45.51,365.73 46.44,363.78 48.58,363.61 49.8,365.38" fill="#f9cdb0" stroke="none" stroke-width="0.5"/>
<circle cx="47.66" cy="365.55" r="1.45" fill="#f07a22" stroke="none" stroke-width="0.5"/>
<polygon points="53.72,368.94 51.9,370.08 50,369.08 49.92,366.93 51.75,365.79 53.65,366.79" fill="#f9cdb0" stroke="none" stroke-width="0.5"/>
<circle cx="51.82" cy="367.94" r="1.45" fill="#f07a22" stroke="none" stroke-width="0.5"/>
<polygon points="37.9,369.62 36.03,370.68 34.18,369.59 34.2,367.44 36.07,366.38 37.92,367.47" fill="#f9cdb0" stroke="none" stroke-width="0.5"/>
<circle cx="36.05" cy="368.53" r="1.45" fill="#f07a22" stroke="none" stroke-width="0.5"/>
<polygon points="41.67,370.96 39.72,371.86 37.97,370.62 38.16,368.48 40.12,367.58 41.87,368.82" fill="#f9cdb0" stroke="none" stroke-width="0.5"/>
<circle cx="39.92" cy="369.72" r="1.45" fill="#f07a22" stroke="none" stroke-width="0.5"/>
<polygon points="46.79,369.24 45.38,370.86 43.27,370.45 42.57,368.42 43.98,366.79 46.09,367.21" fill="#f9cdb0" stroke="none" stroke-width="0.5"/>
<circle cx="44.68" cy="368.83" r="1.45" fill="#f07a22" stroke="none" stroke-width="0.5"/>
<polygon points="50.99,371.71 49.12,372.76 47.27,371.67 47.3,369.52 49.17,368.46 51.02,369.56" fill="#f9cdb0" stroke="none" stroke-width="0.5"/>
<circle cx="49.15" cy="370.61" r="1.45" fill="#f07a22" stroke="none" stroke-width="0.5"/>
<polygon points="35.37,374.02 33.38,374.83 31.68,373.51 31.97,371.38 33.96,370.57 35.66,371.89" fill="#f9cdb0" stroke="none" stroke-width="0.5"/>
<circle cx="33.67" cy="372.7" r="1.45" fill="#f07a22" stroke="none" stroke-width="0.5"/>
<polygon points="39.88,375.18 37.78,375.64 36.33,374.05 36.98,372 39.08,371.54 40.53,373.13" fill="#f9cdb0" stroke="none" stroke-width="0.5"/>
<circle cx="38.43" cy="373.59" r="1.45" fill="#f07a22" stroke="none" stroke-width="0.5"/>
<polygon points="45.93,372.91 44.67,374.66 42.54,374.44 41.65,372.49 42.9,370.74 45.04,370.95" fill="#f9cdb0" stroke="none" stroke-width="0.5"/>
<circle cx="43.79" cy="372.7" r="1.45" fill="#f07a22" stroke="none" stroke-width="0.5"/>
<polygon points="50.29,375.75 48.69,377.18 46.65,376.51 46.21,374.41 47.81,372.97 49.86,373.65" fill="#f9cdb0" stroke="none" stroke-width="0.5"/>
<circle cx="48.25" cy="375.08" r="1.45" fill="#f07a22" stroke="none" stroke-width="0.5"/>
<polygon points="53.96,373.79 52.72,375.55 50.58,375.34 49.68,373.39 50.93,371.63 53.07,371.84" fill="#f9cdb0" stroke="none" stroke-width="0.5"/>
<circle cx="51.82" cy="373.59" r="1.45" fill="#f07a22" stroke="none" stroke-width="0.5"/>
<polygon points="35.98,378.18 33.88,378.6 32.45,376.99 33.14,374.95 35.25,374.53 36.67,376.14" fill="#f9cdb0" stroke="none" stroke-width="0.5"/>
<circle cx="34.56" cy="376.57" r="1.45" fill="#f07a22" stroke="none" stroke-width="0.5"/>
<polygon points="41.82,379.18 39.78,379.86 38.18,378.44 38.61,376.33 40.65,375.65 42.26,377.08" fill="#f9cdb0" stroke="none" stroke-width="0.5"/>
<circle cx="40.22" cy="377.76" r="1.45" fill="#f07a22" stroke="none" stroke-width="0.5"/>
<polygon points="47.13,377.55 45.97,379.37 43.82,379.27 42.83,377.37 43.99,375.55 46.13,375.65" fill="#f9cdb0" stroke="none" stroke-width="0.5"/>
<circle cx="44.98" cy="377.46" r="1.45" fill="#f07a22" stroke="none" stroke-width="0.5"/>
<polygon points="53.83,379.3 51.68,379.34 50.57,377.5 51.61,375.62 53.76,375.58 54.87,377.42" fill="#f9cdb0" stroke="none" stroke-width="0.5"/>
<circle cx="52.72" cy="377.46" r="1.45" fill="#f07a22" stroke="none" stroke-width="0.5"/>
<polygon points="37.49,381.96 35.34,382.04 34.2,380.22 35.2,378.32 37.35,378.24 38.5,380.06" fill="#f9cdb0" stroke="none" stroke-width="0.5"/>
<circle cx="36.35" cy="380.14" r="1.45" fill="#f07a22" stroke="none" stroke-width="0.5"/>
<polygon points="43.97,382.99 41.95,383.75 40.29,382.39 40.63,380.27 42.65,379.5 44.31,380.86" fill="#f9cdb0" stroke="none" stroke-width="0.5"/>
<circle cx="42.3" cy="381.63" r="1.45" fill="#f07a22" stroke="none" stroke-width="0.5"/>
<polygon points="49.97,380.54 47.99,381.38 46.27,380.09 46.53,377.95 48.51,377.11 50.23,378.4" fill="#f9cdb0" stroke="none" stroke-width="0.5"/>
<circle cx="48.25" cy="379.25" r="1.45" fill="#f07a22" stroke="none" stroke-width="0.5"/>
<polygon points="53.94,381.98 52.58,383.64 50.46,383.29 49.7,381.27 51.07,379.61 53.19,379.97" fill="#f9cdb0" stroke="none" stroke-width="0.5"/>
<circle cx="51.82" cy="381.63" r="1.45" fill="#f07a22" stroke="none" stroke-width="0.5"/>
<polygon points="40.88,383.45 39.77,385.29 37.62,385.26 36.58,383.38 37.68,381.53 39.83,381.57" fill="#f9cdb0" stroke="none" stroke-width="0.5"/>
<circle cx="38.73" cy="383.41" r="1.45" fill="#f07a22" stroke="none" stroke-width="0.5"/>
<polygon points="48.89,384.84 47,385.86 45.17,384.73 45.23,382.58 47.13,381.56 48.95,382.69" fill="#f9cdb0" stroke="none" stroke-width="0.5"/>
<circle cx="47.06" cy="383.71" r="1.45" fill="#f07a22" stroke="none" stroke-width="0.5"/>
<polygon points="44.74,385.93 43.55,387.72 41.41,387.58 40.45,385.66 41.64,383.87 43.79,384" fill="#f9cdb0" stroke="none" stroke-width="0.5"/>
<circle cx="42.6" cy="385.79" r="1.45" fill="#f07a22" stroke="none" stroke-width="0.5"/>
<polygon points="91.88,373.49 92.58,370.68 94.2,367.97 96.11,365.79 99.9,362.75 105.05,361.52 109.21,362.71 113.86,365.23 115.69,367.48 116.62,377.5 115.67,381.05 114.74,383.8 105.66,387.83 102.86,388.6 98.81,386.16 96.89,384 95.24,382.13 93.16,378.19" fill="#b8140a" stroke="none" stroke-width="0.5"/>
<polygon points="103.51,366.36 101.37,368.46 98.48,367.66 97.73,364.75 99.87,362.65 102.76,363.45" fill="#f3b48c" stroke="none" stroke-width="0.5"/>
<polygon points="106.75,366.34 103.91,367.31 101.65,365.34 102.23,362.39 105.07,361.42 107.33,363.39" fill="#b8140a" stroke="none" stroke-width="0.5"/>
<polygon points="110.92,367.52 108.08,368.5 105.82,366.53 106.39,363.58 109.23,362.61 111.49,364.58" fill="#b8140a" stroke="none" stroke-width="0.5"/>
<polygon points="114.71,370.27 111.75,370.74 109.86,368.41 110.93,365.61 113.9,365.13 115.79,367.46" fill="#f3b48c" stroke="none" stroke-width="0.5"/>
<polygon points="99.99,369.11 98.02,371.37 95.08,370.79 94.11,367.95 96.08,365.69 99.02,366.27" fill="#b8140a" stroke="none" stroke-width="0.5"/>
<polygon points="103.83,370.44 101.75,372.6 98.84,371.89 98.01,369 100.08,366.84 103,367.56" fill="#b8140a" stroke="none" stroke-width="0.5"/>
<polygon points="108.65,369.29 106.76,371.63 103.8,371.17 102.72,368.37 104.6,366.03 107.56,366.49" fill="#f3b48c" stroke="none" stroke-width="0.5"/>
<polygon points="113.06,371.32 111,373.49 108.08,372.79 107.23,369.91 109.29,367.74 112.21,368.44" fill="#b8140a" stroke="none" stroke-width="0.5"/>
<polygon points="96.83,374.78 93.94,375.61 91.78,373.52 92.51,370.61 95.4,369.79 97.55,371.87" fill="#b8140a" stroke="none" stroke-width="0.5"/>
<polygon points="102.4,374 100.56,376.37 97.59,375.96 96.46,373.18 98.3,370.81 101.27,371.22" fill="#b8140a" stroke="none" stroke-width="0.5"/>
<polygon points="107.34,374.28 104.69,375.7 102.14,374.11 102.24,371.11 104.89,369.7 107.43,371.28" fill="#b8140a" stroke="none" stroke-width="0.5"/>
<polygon points="112.18,375.74 110.14,377.94 107.21,377.28 106.33,374.41 108.37,372.21 111.29,372.88" fill="#f3b48c" stroke="none" stroke-width="0.5"/>
<polygon points="115.68,374.5 113.46,376.52 110.61,375.61 109.97,372.68 112.18,370.66 115.04,371.57" fill="#b8140a" stroke="none" stroke-width="0.5"/>
<polygon points="98.26,377.88 95.78,379.56 93.08,378.25 92.86,375.26 95.35,373.57 98.05,374.88" fill="#f3b48c" stroke="none" stroke-width="0.5"/>
<polygon points="103.13,380.06 100.18,380.57 98.26,378.26 99.3,375.45 102.26,374.94 104.17,377.25" fill="#b8140a" stroke="none" stroke-width="0.5"/>
<polygon points="108.39,379.24 105.64,380.44 103.23,378.66 103.57,375.67 106.32,374.48 108.73,376.26" fill="#b8140a" stroke="none" stroke-width="0.5"/>
<polygon points="116.72,377.5 115.18,380.08 112.18,380.03 110.72,377.41 112.26,374.84 115.26,374.88" fill="#b8140a" stroke="none" stroke-width="0.5"/>
<polygon points="100.22,380.99 98.05,383.06 95.17,382.2 94.47,379.28 96.65,377.22 99.53,378.07" fill="#b8140a" stroke="none" stroke-width="0.5"/>
<polygon points="106.26,382.09 104.38,384.42 101.42,383.96 100.34,381.17 102.22,378.83 105.18,379.29" fill="#b8140a" stroke="none" stroke-width="0.5"/>
<polygon points="111.09,381.62 108.12,382.02 106.28,379.65 107.42,376.87 110.39,376.47 112.23,378.84" fill="#b8140a" stroke="none" stroke-width="0.5"/>
<polygon points="114.81,383.88 111.87,384.47 109.88,382.22 110.84,379.38 113.78,378.78 115.76,381.03" fill="#f3b48c" stroke="none" stroke-width="0.5"/>
<polygon points="101.72,385.65 98.78,386.26 96.79,384.02 97.74,381.17 100.67,380.56 102.67,382.81" fill="#b8140a" stroke="none" stroke-width="0.5"/>
<polygon points="110.01,385.99 107.06,386.54 105.11,384.25 106.12,381.43 109.07,380.88 111.01,383.17" fill="#b8140a" stroke="none" stroke-width="0.5"/>
<polygon points="105.73,387.9 102.84,388.69 100.7,386.59 101.46,383.68 104.36,382.89 106.49,385" fill="#f3b48c" stroke="none" stroke-width="0.5"/>
<polygon points="102.69,366.13 101.16,367.64 99.09,367.06 98.55,364.98 100.08,363.47 102.16,364.05" fill="#fbd8c0" stroke="none" stroke-width="0.5"/>
<circle cx="100.62" cy="365.55" r="1.45" fill="#f07a22" stroke="none" stroke-width="0.5"/>
<polygon points="106.15,365.81 104.07,366.52 102.41,365.08 102.83,362.92 104.91,362.21 106.57,363.65" fill="#d4200e" stroke="none" stroke-width="0.5"/>
<circle cx="104.49" cy="364.36" r="1.35" fill="#f07a30" stroke="none" stroke-width="0.5"/>
<polygon points="110.32,367 108.24,367.71 106.58,366.27 107,364.11 109.08,363.4 110.74,364.84" fill="#d4200e" stroke="none" stroke-width="0.5"/>
<circle cx="108.66" cy="365.55" r="1.35" fill="#f07a30" stroke="none" stroke-width="0.5"/>
<polygon points="114.18,369.61 112.05,369.94 110.7,368.27 111.47,366.27 113.59,365.93 114.95,367.6" fill="#fbd8c0" stroke="none" stroke-width="0.5"/>
<circle cx="112.82" cy="367.94" r="1.45" fill="#f07a22" stroke="none" stroke-width="0.5"/>
<polygon points="99.21,368.96 97.76,370.61 95.6,370.19 94.89,368.11 96.34,366.45 98.5,366.87" fill="#d4200e" stroke="none" stroke-width="0.5"/>
<circle cx="97.05" cy="368.53" r="1.35" fill="#f07a30" stroke="none" stroke-width="0.5"/>
<polygon points="103.06,370.25 101.53,371.83 99.4,371.31 98.78,369.2 100.31,367.61 102.44,368.13" fill="#d4200e" stroke="none" stroke-width="0.5"/>
<circle cx="100.92" cy="369.72" r="1.35" fill="#f07a30" stroke="none" stroke-width="0.5"/>
<polygon points="107.81,369.16 106.46,370.83 104.33,370.5 103.56,368.5 104.9,366.82 107.03,367.15" fill="#fbd8c0" stroke="none" stroke-width="0.5"/>
<circle cx="105.68" cy="368.83" r="1.45" fill="#f07a22" stroke="none" stroke-width="0.5"/>
<polygon points="112.28,371.13 110.77,372.72 108.63,372.21 108.01,370.1 109.52,368.5 111.66,369.02" fill="#d4200e" stroke="none" stroke-width="0.5"/>
<circle cx="110.15" cy="370.61" r="1.35" fill="#f07a30" stroke="none" stroke-width="0.5"/>
<polygon points="96.25,374.23 94.14,374.83 92.55,373.3 93.09,371.17 95.2,370.56 96.78,372.09" fill="#d4200e" stroke="none" stroke-width="0.5"/>
<circle cx="94.67" cy="372.7" r="1.35" fill="#f07a30" stroke="none" stroke-width="0.5"/>
<polygon points="101.61,373.89 100.26,375.63 98.08,375.33 97.25,373.29 98.6,371.55 100.78,371.85" fill="#d4200e" stroke="none" stroke-width="0.5"/>
<circle cx="99.43" cy="373.59" r="1.35" fill="#f07a30" stroke="none" stroke-width="0.5"/>
<polygon points="106.66,373.86 104.72,374.9 102.85,373.73 102.92,371.54 104.86,370.5 106.73,371.66" fill="#d4200e" stroke="none" stroke-width="0.5"/>
<circle cx="104.79" cy="372.7" r="1.35" fill="#f07a30" stroke="none" stroke-width="0.5"/>
<polygon points="111.35,375.56 109.89,377.13 107.79,376.66 107.16,374.6 108.62,373.02 110.71,373.5" fill="#fbd8c0" stroke="none" stroke-width="0.5"/>
<circle cx="109.25" cy="375.08" r="1.45" fill="#f07a22" stroke="none" stroke-width="0.5"/>
<polygon points="114.92,374.26 113.29,375.74 111.2,375.07 110.73,372.92 112.35,371.44 114.45,372.11" fill="#d4200e" stroke="none" stroke-width="0.5"/>
<circle cx="112.82" cy="373.59" r="1.35" fill="#f07a30" stroke="none" stroke-width="0.5"/>
<polygon points="97.5,377.51 95.72,378.71 93.78,377.77 93.63,375.63 95.41,374.42 97.34,375.36" fill="#fbd8c0" stroke="none" stroke-width="0.5"/>
<circle cx="95.56" cy="376.57" r="1.45" fill="#f07a22" stroke="none" stroke-width="0.5"/>
<polygon points="102.62,379.45 100.45,379.82 99.05,378.13 99.81,376.07 101.98,375.69 103.38,377.38" fill="#d4200e" stroke="none" stroke-width="0.5"/>
<circle cx="101.22" cy="377.76" r="1.35" fill="#f07a30" stroke="none" stroke-width="0.5"/>
<polygon points="107.75,378.77 105.73,379.65 103.96,378.34 104.21,376.15 106.23,375.27 108,376.58" fill="#d4200e" stroke="none" stroke-width="0.5"/>
<circle cx="105.98" cy="377.46" r="1.35" fill="#f07a30" stroke="none" stroke-width="0.5"/>
<polygon points="115.92,377.49 114.79,379.38 112.59,379.35 111.52,377.43 112.65,375.54 114.85,375.57" fill="#d4200e" stroke="none" stroke-width="0.5"/>
<circle cx="113.72" cy="377.46" r="1.35" fill="#f07a30" stroke="none" stroke-width="0.5"/>
<polygon points="99.46,380.76 97.86,382.28 95.75,381.65 95.24,379.51 96.84,378 98.94,378.63" fill="#d4200e" stroke="none" stroke-width="0.5"/>
<circle cx="97.35" cy="380.14" r="1.35" fill="#f07a30" stroke="none" stroke-width="0.5"/>
<polygon points="105.47,381.96 104.1,383.68 101.92,383.34 101.13,381.29 102.5,379.58 104.68,379.91" fill="#d4200e" stroke="none" stroke-width="0.5"/>
<circle cx="103.3" cy="381.63" r="1.35" fill="#f07a30" stroke="none" stroke-width="0.5"/>
<polygon points="110.6,380.99 108.42,381.28 107.07,379.54 107.91,377.51 110.09,377.21 111.43,378.95" fill="#d4200e" stroke="none" stroke-width="0.5"/>
<circle cx="109.25" cy="379.25" r="1.35" fill="#f07a30" stroke="none" stroke-width="0.5"/>
<polygon points="114.25,383.24 112.14,383.66 110.72,382.05 111.4,380.01 113.51,379.59 114.93,381.2" fill="#fbd8c0" stroke="none" stroke-width="0.5"/>
<circle cx="112.82" cy="381.63" r="1.45" fill="#f07a22" stroke="none" stroke-width="0.5"/>
<polygon points="101.19,385.06 99.04,385.5 97.57,383.86 98.27,381.77 100.42,381.32 101.88,382.97" fill="#d4200e" stroke="none" stroke-width="0.5"/>
<circle cx="99.73" cy="383.41" r="1.35" fill="#f07a30" stroke="none" stroke-width="0.5"/>
<polygon points="109.49,385.38 107.32,385.78 105.9,384.11 106.64,382.03 108.8,381.64 110.23,383.31" fill="#d4200e" stroke="none" stroke-width="0.5"/>
<circle cx="108.06" cy="383.71" r="1.35" fill="#f07a30" stroke="none" stroke-width="0.5"/>
<polygon points="105.13,387.3 103.05,387.87 101.52,386.36 102.07,384.28 104.14,383.71 105.67,385.22" fill="#fbd8c0" stroke="none" stroke-width="0.5"/>
<circle cx="103.6" cy="385.79" r="1.45" fill="#f07a22" stroke="none" stroke-width="0.5"/>
<line x1="43.8" y1="393.8" x2="43.8" y2="402.8" stroke="#7a3c14" stroke-width="1.4"/>
<polygon points="41.6,402.3 46,402.3 43.8,406.7" fill="#7a3c14" stroke="none" stroke-width="0.5"/>
<line x1="104.5" y1="394.8" x2="104.5" y2="403.6" stroke="#7a3c14" stroke-width="1.4"/>
<polygon points="102.3,403.1 106.7,403.1 104.5,407.5" fill="#7a3c14" stroke="none" stroke-width="0.5"/>
<ellipse cx="40.4" cy="418.2" rx="6" ry="5" fill="#f8c6a2" stroke="#e59668" stroke-width="0.7" transform="rotate(10 40.4 418.2)"/>
<circle cx="38.4" cy="416.7" r="0.95" fill="#ef7a26" stroke="none" stroke-width="0.5"/>
<circle cx="41.9" cy="416.2" r="0.95" fill="#ef7a26" stroke="none" stroke-width="0.5"/>
<circle cx="39.9" cy="419.2" r="0.95" fill="#ef7a26" stroke="none" stroke-width="0.5"/>
<circle cx="42.4" cy="419.7" r="0.95" fill="#ef7a26" stroke="none" stroke-width="0.5"/>
<ellipse cx="51.7" cy="419.2" rx="6" ry="5" fill="#f8c6a2" stroke="#e59668" stroke-width="0.7" transform="rotate(-5 51.7 419.2)"/>
<circle cx="49.5" cy="418.7" r="0.95" fill="#ef7a26" stroke="none" stroke-width="0.5"/>
<circle cx="52.7" cy="417.4" r="0.95" fill="#ef7a26" stroke="none" stroke-width="0.5"/>
<circle cx="52.2" cy="421" r="0.95" fill="#ef7a26" stroke="none" stroke-width="0.5"/>
<ellipse cx="34.9" cy="426.6" rx="5.8" ry="4.9" fill="#f8c6a2" stroke="#e59668" stroke-width="0.7" transform="rotate(15 34.9 426.6)"/>
<circle cx="32.7" cy="426.1" r="0.95" fill="#ef7a26" stroke="none" stroke-width="0.5"/>
<circle cx="35.9" cy="424.8" r="0.95" fill="#ef7a26" stroke="none" stroke-width="0.5"/>
<circle cx="35.4" cy="428.4" r="0.95" fill="#ef7a26" stroke="none" stroke-width="0.5"/>
<ellipse cx="47.6" cy="430.3" rx="6.1" ry="5" fill="#f8c6a2" stroke="#e59668" stroke-width="0.7" transform="rotate(0 47.6 430.3)"/>
<circle cx="45.6" cy="428.8" r="0.95" fill="#ef7a26" stroke="none" stroke-width="0.5"/>
<circle cx="49.1" cy="428.3" r="0.95" fill="#ef7a26" stroke="none" stroke-width="0.5"/>
<circle cx="47.1" cy="431.3" r="0.95" fill="#ef7a26" stroke="none" stroke-width="0.5"/>
<circle cx="49.6" cy="431.8" r="0.95" fill="#ef7a26" stroke="none" stroke-width="0.5"/>
<ellipse cx="100.7" cy="418.2" rx="6" ry="5" fill="#c80c0c" stroke="#980606" stroke-width="0.6" transform="rotate(10 100.7 418.2)"/>
<circle cx="98.7" cy="416.7" r="0.95" fill="#f5a030" stroke="none" stroke-width="0.5"/>
<circle cx="102.2" cy="416.2" r="0.95" fill="#f5a030" stroke="none" stroke-width="0.5"/>
<circle cx="100.2" cy="419.2" r="0.95" fill="#f5a030" stroke="none" stroke-width="0.5"/>
<circle cx="102.7" cy="419.7" r="0.95" fill="#f5a030" stroke="none" stroke-width="0.5"/>
<ellipse cx="112.5" cy="419.7" rx="6" ry="5.2" fill="#c80c0c" stroke="#980606" stroke-width="0.6" transform="rotate(-5 112.5 419.7)"/>
<circle cx="110.3" cy="419.2" r="0.95" fill="#f5a030" stroke="none" stroke-width="0.5"/>
<circle cx="113.5" cy="417.9" r="0.95" fill="#f5a030" stroke="none" stroke-width="0.5"/>
<circle cx="113" cy="421.5" r="0.95" fill="#f5a030" stroke="none" stroke-width="0.5"/>
<ellipse cx="96.3" cy="426.6" rx="5.8" ry="4.9" fill="#f8c6a2" stroke="#e59668" stroke-width="0.7" transform="rotate(15 96.3 426.6)"/>
<circle cx="94.1" cy="426.1" r="0.95" fill="#ef7a26" stroke="none" stroke-width="0.5"/>
<circle cx="97.3" cy="424.8" r="0.95" fill="#ef7a26" stroke="none" stroke-width="0.5"/>
<circle cx="96.8" cy="428.4" r="0.95" fill="#ef7a26" stroke="none" stroke-width="0.5"/>
<ellipse cx="108.3" cy="430.3" rx="6.1" ry="5" fill="#c80c0c" stroke="#980606" stroke-width="0.6" transform="rotate(0 108.3 430.3)"/>
<circle cx="106.3" cy="428.8" r="0.95" fill="#f5a030" stroke="none" stroke-width="0.5"/>
<circle cx="109.8" cy="428.3" r="0.95" fill="#f5a030" stroke="none" stroke-width="0.5"/>
<circle cx="107.8" cy="431.3" r="0.95" fill="#f5a030" stroke="none" stroke-width="0.5"/>
<circle cx="110.3" cy="431.8" r="0.95" fill="#f5a030" stroke="none" stroke-width="0.5"/>
<path d="M43.8,440.8 L43.8,447.0 L104.9,447.0 L104.9,440.8" fill="none" stroke="#7a3c14" stroke-width="1.3"/>
<line x1="74.5" y1="447" x2="74.5" y2="456.4" stroke="#7a3c14" stroke-width="1.4"/>
<polygon points="72.3,455.9 76.7,455.9 74.5,460.3" fill="#7a3c14" stroke="none" stroke-width="0.5"/>
<rect x="21.4" y="460.3" width="106.2" height="20.3" fill="#f8cbad" stroke="#ee8a48" stroke-width="0.9"/>
<text x="74.6" y="473.28" font-size="8.6" fill="#2a2a2a" text-anchor="middle" textLength="90.2" lengthAdjust="spacingAndGlyphs">RT–qPCR , sENG ELISA</text>
<text x="166.6" y="353.76" font-size="8" fill="#2a2a2a" textLength="35.6" lengthAdjust="spacingAndGlyphs">RT–qPCR</text>
<text x="160.05" y="418.4" font-size="8.8" fill="#2a2a2a" text-anchor="middle" textLength="77.3" lengthAdjust="spacingAndGlyphs" transform="rotate(-90 160.05 418.4)">Relative expression</text>
<line x1="189" y1="364.3" x2="189" y2="473.1" stroke="#a8a8a8" stroke-width="0.8"/>
<line x1="185.4" y1="468.3" x2="189" y2="468.3" stroke="#a8a8a8" stroke-width="0.8"/>
<text x="182.7" y="471.27" font-size="8.3" fill="#2a2a2a" text-anchor="end">0</text>
<line x1="185.4" y1="443.9" x2="189" y2="443.9" stroke="#a8a8a8" stroke-width="0.8"/>
<text x="182.7" y="446.87" font-size="8.3" fill="#2a2a2a" text-anchor="end">0.25</text>
<line x1="185.4" y1="419.1" x2="189" y2="419.1" stroke="#a8a8a8" stroke-width="0.8"/>
<text x="182.7" y="422.07" font-size="8.3" fill="#2a2a2a" text-anchor="end">0.50</text>
<line x1="185.4" y1="394.5" x2="189" y2="394.5" stroke="#a8a8a8" stroke-width="0.8"/>
<text x="182.7" y="397.47" font-size="8.3" fill="#2a2a2a" text-anchor="end">0.75</text>
<line x1="185.4" y1="370" x2="189" y2="370" stroke="#a8a8a8" stroke-width="0.8"/>
<text x="182.7" y="372.97" font-size="8.3" fill="#2a2a2a" text-anchor="end" textLength="14.53" lengthAdjust="spacingAndGlyphs">1.00</text>
<line x1="189" y1="473.1" x2="265.6" y2="473.1" stroke="#a8a8a8" stroke-width="0.8"/>
<line x1="209.6" y1="473.1" x2="209.6" y2="475.4" stroke="#a8a8a8" stroke-width="0.8"/>
<line x1="244" y1="473.1" x2="244" y2="475.4" stroke="#a8a8a8" stroke-width="0.8"/>
<rect x="198.8" y="378.3" width="21.8" height="90" fill="#f8cbad" stroke="#ad6a42" stroke-width="0.8"/>
<rect x="234" y="410" width="21.3" height="58.3" fill="#c00000" stroke="#9b3a20" stroke-width="0.8"/>
<circle cx="206.4" cy="371.3" r="1.25" fill="#000" stroke="none" stroke-width="0.5"/>
<circle cx="206.6" cy="370" r="1.25" fill="#000" stroke="none" stroke-width="0.5"/>
<circle cx="210.2" cy="368.8" r="1.25" fill="#000" stroke="none" stroke-width="0.5"/>
<circle cx="210.4" cy="379.3" r="1.25" fill="#000" stroke="none" stroke-width="0.5"/>
<circle cx="212.7" cy="386.1" r="1.25" fill="#000" stroke="none" stroke-width="0.5"/>
<circle cx="207.9" cy="394.1" r="1.25" fill="#000" stroke="none" stroke-width="0.5"/>
<circle cx="241.5" cy="384" r="1.25" fill="#000" stroke="none" stroke-width="0.5"/>
<circle cx="247.2" cy="396.4" r="1.25" fill="#000" stroke="none" stroke-width="0.5"/>
<circle cx="241.5" cy="411.4" r="1.25" fill="#000" stroke="none" stroke-width="0.5"/>
<circle cx="245.9" cy="411.4" r="1.25" fill="#000" stroke="none" stroke-width="0.5"/>
<circle cx="242.7" cy="414.6" r="1.25" fill="#000" stroke="none" stroke-width="0.5"/>
<circle cx="245.5" cy="418.4" r="1.25" fill="#000" stroke="none" stroke-width="0.5"/>
<circle cx="243.8" cy="434.2" r="1.25" fill="#000" stroke="none" stroke-width="0.5"/>
<text x="228" y="360.25" font-size="7.4" fill="#2a2a2a" text-anchor="middle">P = 0.008</text>
<line x1="208.3" y1="364.1" x2="245.7" y2="364.1" stroke="#3a3a3a" stroke-width="1"/>
<text x="209.6" y="486.18" font-size="8.6" fill="#2a2a2a" text-anchor="middle" textLength="20.9" lengthAdjust="spacingAndGlyphs">None</text>
<text x="244.5" y="486.18" font-size="8.6" fill="#2a2a2a" text-anchor="middle" textLength="29.4" lengthAdjust="spacingAndGlyphs">LTR10A</text>
<text x="306.1" y="353.76" font-size="8" fill="#2a2a2a" textLength="22.3" lengthAdjust="spacingAndGlyphs">ELISA</text>
<text x="288.48" y="419" font-size="8.6" fill="#2a2a2a" text-anchor="middle" transform="rotate(-90 288.48 419)">[sENG] (pg ml<tspan font-size="5.5" dy="-3.2">−1</tspan><tspan dy="3.2">)</tspan></text>
<line x1="316.5" y1="364.3" x2="316.5" y2="473.1" stroke="#a8a8a8" stroke-width="0.8"/>
<line x1="312.9" y1="468.5" x2="316.5" y2="468.5" stroke="#a8a8a8" stroke-width="0.8"/>
<text x="310.4" y="471.47" font-size="8.3" fill="#2a2a2a" text-anchor="end">0</text>
<line x1="312.9" y1="435.8" x2="316.5" y2="435.8" stroke="#a8a8a8" stroke-width="0.8"/>
<text x="310.4" y="438.77" font-size="8.3" fill="#2a2a2a" text-anchor="end">200</text>
<line x1="312.9" y1="403.2" x2="316.5" y2="403.2" stroke="#a8a8a8" stroke-width="0.8"/>
<text x="310.4" y="406.17" font-size="8.3" fill="#2a2a2a" text-anchor="end">400</text>
<line x1="312.9" y1="370.4" x2="316.5" y2="370.4" stroke="#a8a8a8" stroke-width="0.8"/>
<text x="310.4" y="373.37" font-size="8.3" fill="#2a2a2a" text-anchor="end">600</text>
<line x1="316.5" y1="473.1" x2="394.7" y2="473.1" stroke="#a8a8a8" stroke-width="0.8"/>
<line x1="337.7" y1="473.1" x2="337.7" y2="475.4" stroke="#a8a8a8" stroke-width="0.8"/>
<line x1="373.4" y1="473.1" x2="373.4" y2="475.4" stroke="#a8a8a8" stroke-width="0.8"/>
<rect x="327.3" y="408.9" width="21.4" height="59.6" fill="#f8cbad" stroke="#ad6a42" stroke-width="0.8"/>
<rect x="363" y="436.1" width="21.6" height="32.4" fill="#c00000" stroke="#9b3a20" stroke-width="0.8"/>
<circle cx="339.8" cy="369" r="1.25" fill="#000" stroke="none" stroke-width="0.5"/>
<circle cx="340.8" cy="386.9" r="1.25" fill="#000" stroke="none" stroke-width="0.5"/>
<circle cx="339.6" cy="397.9" r="1.25" fill="#000" stroke="none" stroke-width="0.5"/>
<circle cx="335.5" cy="403.2" r="1.25" fill="#000" stroke="none" stroke-width="0.5"/>
<circle cx="337.9" cy="405.1" r="1.25" fill="#000" stroke="none" stroke-width="0.5"/>
<circle cx="335.8" cy="408.3" r="1.25" fill="#000" stroke="none" stroke-width="0.5"/>
<circle cx="339.6" cy="424.7" r="1.25" fill="#000" stroke="none" stroke-width="0.5"/>
<circle cx="337.4" cy="440.8" r="1.25" fill="#000" stroke="none" stroke-width="0.5"/>
<circle cx="339.3" cy="445" r="1.25" fill="#000" stroke="none" stroke-width="0.5"/>
<circle cx="374" cy="419" r="1.25" fill="#000" stroke="none" stroke-width="0.5"/>
<circle cx="375.7" cy="418.4" r="1.25" fill="#000" stroke="none" stroke-width="0.5"/>
<circle cx="371.5" cy="425" r="1.25" fill="#000" stroke="none" stroke-width="0.5"/>
<circle cx="376.8" cy="434.5" r="1.25" fill="#000" stroke="none" stroke-width="0.5"/>
<circle cx="371.1" cy="438.9" r="1.25" fill="#000" stroke="none" stroke-width="0.5"/>
<circle cx="374" cy="440.8" r="1.25" fill="#000" stroke="none" stroke-width="0.5"/>
<circle cx="376.8" cy="440.8" r="1.25" fill="#000" stroke="none" stroke-width="0.5"/>
<circle cx="375.9" cy="451.2" r="1.25" fill="#000" stroke="none" stroke-width="0.5"/>
<circle cx="373" cy="455.6" r="1.25" fill="#000" stroke="none" stroke-width="0.5"/>
<text x="356.4" y="360.25" font-size="7.4" fill="#2a2a2a" text-anchor="middle">P = 0.03</text>
<line x1="337.9" y1="364.1" x2="375.7" y2="364.1" stroke="#3a3a3a" stroke-width="1"/>
<text x="338" y="486.18" font-size="8.6" fill="#2a2a2a" text-anchor="middle" textLength="20.3" lengthAdjust="spacingAndGlyphs">None</text>
<text x="373.7" y="486.18" font-size="8.6" fill="#2a2a2a" text-anchor="middle" textLength="29.8" lengthAdjust="spacingAndGlyphs">LTR10A</text>
<text x="419.8" y="346.11" font-size="7" fill="#4a4af0" textLength="12" lengthAdjust="spacingAndGlyphs">ENG</text>
<line x1="434" y1="341.6" x2="601" y2="341.6" stroke="#7070f0" stroke-width="0.7" stroke-dasharray="1.2,0.5"/>
<rect x="434" y="340.7" width="5" height="1.8" fill="#3a3ae8" stroke="none" stroke-width="0.8"/>
<rect x="441" y="340.7" width="1.2" height="1.8" fill="#3a3ae8" stroke="none" stroke-width="0.8"/>
<rect x="444.6" y="340.7" width="1.4" height="1.8" fill="#3a3ae8" stroke="none" stroke-width="0.8"/>
<rect x="446.8" y="340.7" width="1.2" height="1.8" fill="#3a3ae8" stroke="none" stroke-width="0.8"/>
<rect x="450.2" y="340.7" width="0.8" height="1.8" fill="#3a3ae8" stroke="none" stroke-width="0.8"/>
<rect x="453.7" y="340.7" width="2.6" height="1.8" fill="#3a3ae8" stroke="none" stroke-width="0.8"/>
<rect x="473.4" y="340.7" width="0.9" height="1.8" fill="#3a3ae8" stroke="none" stroke-width="0.8"/>
<rect x="475" y="340.7" width="1" height="1.8" fill="#3a3ae8" stroke="none" stroke-width="0.8"/>
<rect x="476.8" y="340.7" width="0.9" height="1.8" fill="#3a3ae8" stroke="none" stroke-width="0.8"/>
<rect x="478.5" y="340.7" width="0.9" height="1.8" fill="#3a3ae8" stroke="none" stroke-width="0.8"/>
<rect x="480.2" y="340.7" width="0.8" height="1.8" fill="#3a3ae8" stroke="none" stroke-width="0.8"/>
<rect x="482" y="340.7" width="0.6" height="1.8" fill="#3a3ae8" stroke="none" stroke-width="0.8"/>
<rect x="495.5" y="340.8" width="0.6" height="1.6" fill="#3a3ae8" stroke="none" stroke-width="0.8"/>
<rect x="552.1" y="340.8" width="0.6" height="1.6" fill="#3a3ae8" stroke="none" stroke-width="0.8"/>
<rect x="600.3" y="340.7" width="1.1" height="1.8" fill="#3a3ae8" stroke="none" stroke-width="0.8"/>
<line x1="434" y1="345.5" x2="569.5" y2="345.5" stroke="#7070f0" stroke-width="0.7" stroke-dasharray="1.2,0.5"/>
<rect x="434" y="344.6" width="5" height="1.8" fill="#3a3ae8" stroke="none" stroke-width="0.8"/>
<rect x="441" y="344.6" width="1.2" height="1.8" fill="#3a3ae8" stroke="none" stroke-width="0.8"/>
<rect x="444.6" y="344.6" width="1.4" height="1.8" fill="#3a3ae8" stroke="none" stroke-width="0.8"/>
<rect x="446.8" y="344.6" width="1.2" height="1.8" fill="#3a3ae8" stroke="none" stroke-width="0.8"/>
<rect x="450.2" y="344.6" width="0.8" height="1.8" fill="#3a3ae8" stroke="none" stroke-width="0.8"/>
<rect x="453.7" y="344.6" width="2.6" height="1.8" fill="#3a3ae8" stroke="none" stroke-width="0.8"/>
<rect x="473.4" y="344.6" width="0.9" height="1.8" fill="#3a3ae8" stroke="none" stroke-width="0.8"/>
<rect x="475" y="344.6" width="1" height="1.8" fill="#3a3ae8" stroke="none" stroke-width="0.8"/>
<rect x="476.8" y="344.6" width="0.9" height="1.8" fill="#3a3ae8" stroke="none" stroke-width="0.8"/>
<rect x="478.5" y="344.6" width="0.9" height="1.8" fill="#3a3ae8" stroke="none" stroke-width="0.8"/>
<rect x="480.2" y="344.6" width="0.8" height="1.8" fill="#3a3ae8" stroke="none" stroke-width="0.8"/>
<rect x="482" y="344.6" width="0.6" height="1.8" fill="#3a3ae8" stroke="none" stroke-width="0.8"/>
<rect x="495.5" y="344.7" width="0.6" height="1.6" fill="#3a3ae8" stroke="none" stroke-width="0.8"/>
<rect x="552.1" y="344.7" width="0.6" height="1.6" fill="#3a3ae8" stroke="none" stroke-width="0.8"/>
<rect x="568.8" y="344.6" width="1.1" height="1.8" fill="#3a3ae8" stroke="none" stroke-width="0.8"/>
<text x="553.2" y="354.53" font-size="5.4" fill="#222" textLength="20.2" lengthAdjust="spacingAndGlyphs">LTR10A</text>
<rect x="576.7" y="350.4" width="1.8" height="4.4" fill="#333" stroke="none" stroke-width="0.8"/>
<line x1="425.3" y1="357" x2="425.3" y2="486.4" stroke="#8a8a8a" stroke-width="0.6"/>
<line x1="425.3" y1="357.2" x2="622" y2="357.2" stroke="#efefef" stroke-width="0.5"/>
<line x1="423.8" y1="357.2" x2="425.3" y2="357.2" stroke="#8a8a8a" stroke-width="0.5"/>
<line x1="423.8" y1="364.8" x2="425.3" y2="364.8" stroke="#8a8a8a" stroke-width="0.5"/>
<text x="423.3" y="358.4" font-size="3.6" fill="#666" text-anchor="end">250</text>
<text x="423.3" y="364.5" font-size="3.6" fill="#666" text-anchor="end">0</text>
<line x1="426" y1="364.5" x2="622" y2="364.5" stroke="#d6e4f8" stroke-width="0.6" stroke-dasharray="1.2,0.6"/>
<line x1="425.3" y1="366.53" x2="622" y2="366.53" stroke="#efefef" stroke-width="0.5"/>
<line x1="423.8" y1="366.53" x2="425.3" y2="366.53" stroke="#8a8a8a" stroke-width="0.5"/>
<line x1="423.8" y1="374.13" x2="425.3" y2="374.13" stroke="#8a8a8a" stroke-width="0.5"/>
<text x="423.3" y="367.73" font-size="3.6" fill="#666" text-anchor="end">250</text>
<text x="423.3" y="373.83" font-size="3.6" fill="#666" text-anchor="end">0</text>
<line x1="426" y1="373.83" x2="622" y2="373.83" stroke="#d6e4f8" stroke-width="0.6" stroke-dasharray="1.2,0.6"/>
<line x1="425.3" y1="375.86" x2="622" y2="375.86" stroke="#efefef" stroke-width="0.5"/>
<line x1="423.8" y1="375.86" x2="425.3" y2="375.86" stroke="#8a8a8a" stroke-width="0.5"/>
<line x1="423.8" y1="383.46" x2="425.3" y2="383.46" stroke="#8a8a8a" stroke-width="0.5"/>
<text x="423.3" y="377.06" font-size="3.6" fill="#666" text-anchor="end">250</text>
<text x="423.3" y="383.16" font-size="3.6" fill="#666" text-anchor="end">0</text>
<line x1="426" y1="383.16" x2="622" y2="383.16" stroke="#d6e4f8" stroke-width="0.6" stroke-dasharray="1.2,0.6"/>
<line x1="425.3" y1="385.19" x2="622" y2="385.19" stroke="#efefef" stroke-width="0.5"/>
<line x1="423.8" y1="385.19" x2="425.3" y2="385.19" stroke="#8a8a8a" stroke-width="0.5"/>
<line x1="423.8" y1="392.79" x2="425.3" y2="392.79" stroke="#8a8a8a" stroke-width="0.5"/>
<text x="423.3" y="386.39" font-size="3.6" fill="#666" text-anchor="end">250</text>
<text x="423.3" y="392.49" font-size="3.6" fill="#666" text-anchor="end">0</text>
<line x1="426" y1="392.49" x2="622" y2="392.49" stroke="#d6e4f8" stroke-width="0.6" stroke-dasharray="1.2,0.6"/>
<line x1="425.3" y1="394.52" x2="622" y2="394.52" stroke="#efefef" stroke-width="0.5"/>
<line x1="423.8" y1="394.52" x2="425.3" y2="394.52" stroke="#8a8a8a" stroke-width="0.5"/>
<line x1="423.8" y1="402.12" x2="425.3" y2="402.12" stroke="#8a8a8a" stroke-width="0.5"/>
<text x="423.3" y="395.72" font-size="3.6" fill="#666" text-anchor="end">250</text>
<text x="423.3" y="401.82" font-size="3.6" fill="#666" text-anchor="end">0</text>
<line x1="426" y1="401.82" x2="622" y2="401.82" stroke="#d2d7f9" stroke-width="0.6" stroke-dasharray="1.2,0.6"/>
<line x1="425.3" y1="403.85" x2="622" y2="403.85" stroke="#efefef" stroke-width="0.5"/>
<line x1="423.8" y1="403.85" x2="425.3" y2="403.85" stroke="#8a8a8a" stroke-width="0.5"/>
<line x1="423.8" y1="411.45" x2="425.3" y2="411.45" stroke="#8a8a8a" stroke-width="0.5"/>
<text x="423.3" y="405.05" font-size="3.6" fill="#666" text-anchor="end">250</text>
<text x="423.3" y="411.15" font-size="3.6" fill="#666" text-anchor="end">0</text>
<line x1="426" y1="411.15" x2="622" y2="411.15" stroke="#d2d7f9" stroke-width="0.6" stroke-dasharray="1.2,0.6"/>
<line x1="425.3" y1="413.18" x2="622" y2="413.18" stroke="#efefef" stroke-width="0.5"/>
<line x1="423.8" y1="413.18" x2="425.3" y2="413.18" stroke="#8a8a8a" stroke-width="0.5"/>
<line x1="423.8" y1="420.78" x2="425.3" y2="420.78" stroke="#8a8a8a" stroke-width="0.5"/>
<text x="423.3" y="414.38" font-size="3.6" fill="#666" text-anchor="end">250</text>
<text x="423.3" y="420.48" font-size="3.6" fill="#666" text-anchor="end">0</text>
<line x1="426" y1="420.48" x2="622" y2="420.48" stroke="#d2d7f9" stroke-width="0.6" stroke-dasharray="1.2,0.6"/>
<line x1="425.3" y1="422.51" x2="622" y2="422.51" stroke="#efefef" stroke-width="0.5"/>
<line x1="423.8" y1="422.51" x2="425.3" y2="422.51" stroke="#8a8a8a" stroke-width="0.5"/>
<line x1="423.8" y1="430.11" x2="425.3" y2="430.11" stroke="#8a8a8a" stroke-width="0.5"/>
<text x="423.3" y="423.71" font-size="3.6" fill="#666" text-anchor="end">250</text>
<text x="423.3" y="429.81" font-size="3.6" fill="#666" text-anchor="end">0</text>
<line x1="426" y1="429.81" x2="622" y2="429.81" stroke="#d2d7f9" stroke-width="0.6" stroke-dasharray="1.2,0.6"/>
<line x1="425.3" y1="431.84" x2="622" y2="431.84" stroke="#efefef" stroke-width="0.5"/>
<line x1="423.8" y1="431.84" x2="425.3" y2="431.84" stroke="#8a8a8a" stroke-width="0.5"/>
<line x1="423.8" y1="439.44" x2="425.3" y2="439.44" stroke="#8a8a8a" stroke-width="0.5"/>
<text x="423.3" y="433.04" font-size="3.6" fill="#666" text-anchor="end">250</text>
<text x="423.3" y="439.14" font-size="3.6" fill="#666" text-anchor="end">0</text>
<line x1="426" y1="439.14" x2="622" y2="439.14" stroke="#f6d0d3" stroke-width="0.6" stroke-dasharray="1.2,0.6"/>
<line x1="425.3" y1="441.17" x2="622" y2="441.17" stroke="#efefef" stroke-width="0.5"/>
<line x1="423.8" y1="441.17" x2="425.3" y2="441.17" stroke="#8a8a8a" stroke-width="0.5"/>
<line x1="423.8" y1="448.77" x2="425.3" y2="448.77" stroke="#8a8a8a" stroke-width="0.5"/>
<text x="423.3" y="442.37" font-size="3.6" fill="#666" text-anchor="end">250</text>
<text x="423.3" y="448.47" font-size="3.6" fill="#666" text-anchor="end">0</text>
<line x1="426" y1="448.47" x2="622" y2="448.47" stroke="#f6d0d3" stroke-width="0.6" stroke-dasharray="1.2,0.6"/>
<line x1="425.3" y1="450.5" x2="622" y2="450.5" stroke="#efefef" stroke-width="0.5"/>
<line x1="423.8" y1="450.5" x2="425.3" y2="450.5" stroke="#8a8a8a" stroke-width="0.5"/>
<line x1="423.8" y1="458.1" x2="425.3" y2="458.1" stroke="#8a8a8a" stroke-width="0.5"/>
<text x="423.3" y="451.7" font-size="3.6" fill="#666" text-anchor="end">250</text>
<text x="423.3" y="457.8" font-size="3.6" fill="#666" text-anchor="end">0</text>
<line x1="426" y1="457.8" x2="622" y2="457.8" stroke="#f6d0d3" stroke-width="0.6" stroke-dasharray="1.2,0.6"/>
<line x1="425.3" y1="459.83" x2="622" y2="459.83" stroke="#efefef" stroke-width="0.5"/>
<line x1="423.8" y1="459.83" x2="425.3" y2="459.83" stroke="#8a8a8a" stroke-width="0.5"/>
<line x1="423.8" y1="467.43" x2="425.3" y2="467.43" stroke="#8a8a8a" stroke-width="0.5"/>
<text x="423.3" y="461.03" font-size="3.6" fill="#666" text-anchor="end">250</text>
<text x="423.3" y="467.13" font-size="3.6" fill="#666" text-anchor="end">0</text>
<line x1="426" y1="467.13" x2="622" y2="467.13" stroke="#f6d0d3" stroke-width="0.6" stroke-dasharray="1.2,0.6"/>
<line x1="425.3" y1="469.16" x2="622" y2="469.16" stroke="#efefef" stroke-width="0.5"/>
<line x1="423.8" y1="469.16" x2="425.3" y2="469.16" stroke="#8a8a8a" stroke-width="0.5"/>
<line x1="423.8" y1="476.76" x2="425.3" y2="476.76" stroke="#8a8a8a" stroke-width="0.5"/>
<text x="423.3" y="470.36" font-size="3.6" fill="#666" text-anchor="end">250</text>
<text x="423.3" y="476.46" font-size="3.6" fill="#666" text-anchor="end">0</text>
<line x1="426" y1="476.46" x2="622" y2="476.46" stroke="#f6d0d3" stroke-width="0.6" stroke-dasharray="1.2,0.6"/>
<line x1="425.3" y1="478.49" x2="622" y2="478.49" stroke="#efefef" stroke-width="0.5"/>
<line x1="423.8" y1="478.49" x2="425.3" y2="478.49" stroke="#8a8a8a" stroke-width="0.5"/>
<line x1="423.8" y1="486.09" x2="425.3" y2="486.09" stroke="#8a8a8a" stroke-width="0.5"/>
<text x="423.3" y="479.69" font-size="3.6" fill="#666" text-anchor="end">250</text>
<text x="423.3" y="485.79" font-size="3.6" fill="#666" text-anchor="end">0</text>
<line x1="426" y1="485.79" x2="622" y2="485.79" stroke="#f6d0d3" stroke-width="0.6" stroke-dasharray="1.2,0.6"/>
<polygon points="427.1,364.8 427.1,364.21 427.35,363.8 427.6,363.36 427.85,363.06 428.1,363.02 428.35,363.28 428.6,363.71 428.85,364.14 428.85,364.8" fill="#6fa2e6" stroke="none" stroke-width="0.5"/>
<polygon points="429.85,364.8 429.85,364.24 430.1,364 430.35,363.83 430.6,363.81 430.85,363.96 431.1,364.19 431.1,364.8" fill="#6fa2e6" stroke="none" stroke-width="0.5"/>
<polygon points="440.85,364.8 440.85,364.16 441.1,363.96 441.35,363.96 441.6,364.16 441.6,364.8" fill="#6fa2e6" stroke="none" stroke-width="0.5"/>
<polygon points="445.1,364.8 445.1,364.3 445.35,364.18 445.6,364.21 445.6,364.8" fill="#6fa2e6" stroke="none" stroke-width="0.5"/>
<polygon points="453.6,364.8 453.6,364.31 453.85,364.18 454.1,364.21 454.1,364.8" fill="#6fa2e6" stroke="none" stroke-width="0.5"/>
<polygon points="459.35,364.8 459.35,364.26 459.6,364.23 459.85,364.35 459.85,364.8" fill="#6fa2e6" stroke="none" stroke-width="0.5"/>
<polygon points="461.35,364.8 461.35,364.33 461.6,364.32 461.6,364.8" fill="#6fa2e6" stroke="none" stroke-width="0.5"/>
<polygon points="474.85,364.8 474.85,364.22 475.1,364.04 475.35,364.04 475.6,364.22 475.6,364.8" fill="#6fa2e6" stroke="none" stroke-width="0.5"/>
<polygon points="529.85,364.8 529.85,364.3 530.1,364.19 530.35,364.23 530.35,364.8" fill="#6fa2e6" stroke="none" stroke-width="0.5"/>
<polygon points="534.85,364.8 534.85,364.22 535.1,364.06 535.35,364.08 535.6,364.27 535.6,364.8" fill="#6fa2e6" stroke="none" stroke-width="0.5"/>
<polygon points="538.6,364.8 538.6,364.33 538.85,364.17 539.1,364.15 539.35,364.29 539.35,364.8" fill="#6fa2e6" stroke="none" stroke-width="0.5"/>
<polygon points="557.85,364.8 557.85,364.32 558.1,364.23 558.35,364.29 558.35,364.8" fill="#6fa2e6" stroke="none" stroke-width="0.5"/>
<polygon points="571.1,364.8 571.1,363.89 571.35,363.24 571.6,362.56 571.85,362.09 572.1,362.04 572.35,362.44 572.6,363.1 572.85,363.77 573.1,364.01 573.35,363.98 573.6,363.94 573.85,363.92 574.1,363.39 574.35,362.89 574.6,362.84 574.85,363.27 575.1,363.83 575.35,363.82 575.6,363.05 575.85,360.85 576.1,358.55 576.35,357.83 576.6,358.8 576.85,360.63 577.1,362.45 577.35,363.74 577.6,363.8 577.85,363.63 578.1,363.12 578.35,362.76 578.6,362.73 578.85,363.03 579.1,363.52 579.35,363.8 579.6,363.8 579.85,363.8 580.1,363.81 580.35,363.41 580.6,362.8 580.85,362.38 581.1,362.33 581.35,362.69 581.6,363.28 581.85,363.88 582.1,363.91 582.35,363.94 582.6,363.85 582.85,363.18 583.1,362.48 583.35,361.99 583.6,361.94 583.85,362.35 584.1,363.04 584.35,363.73 584.6,364.26 584.6,364.8" fill="#6fa2e6" stroke="none" stroke-width="0.5"/>
<polygon points="585.1,364.8 585.1,364.09 585.35,363.85 585.6,363.82 585.85,364.03 586.1,364.34 586.1,364.8" fill="#6fa2e6" stroke="none" stroke-width="0.5"/>
<polygon points="596.85,364.8 596.85,364.13 597.1,363.84 597.35,363.64 597.6,363.62 597.85,363.79 598.1,364.07 598.1,364.8" fill="#6fa2e6" stroke="none" stroke-width="0.5"/>
<polygon points="599.35,364.8 599.35,364.13 599.6,363.84 599.85,363.64 600.1,363.62 600.35,363.79 600.6,364.07 600.6,364.8" fill="#6fa2e6" stroke="none" stroke-width="0.5"/>
<polygon points="427.1,374.13 427.1,373.66 427.35,373.33 427.6,372.98 427.85,372.73 428.1,372.71 428.35,372.91 428.6,373.26 428.85,373.6 428.85,374.13" fill="#6fa2e6" stroke="none" stroke-width="0.5"/>
<polygon points="429.85,374.13 429.85,373.57 430.1,373.33 430.35,373.16 430.6,373.14 430.85,373.29 431.1,373.52 431.1,374.13" fill="#6fa2e6" stroke="none" stroke-width="0.5"/>
<polygon points="444.1,374.13 444.1,373.64 444.35,373.68 444.35,374.13" fill="#6fa2e6" stroke="none" stroke-width="0.5"/>
<polygon points="446.1,374.13 446.1,373.63 446.35,373.41 446.6,373.35 446.85,373.48 446.85,374.13" fill="#6fa2e6" stroke="none" stroke-width="0.5"/>
<polygon points="462.1,374.13 462.1,373.62 462.35,373.36 462.6,373.24 462.85,373.35 463.1,373.6 463.1,374.13" fill="#6fa2e6" stroke="none" stroke-width="0.5"/>
<polygon points="472.1,374.13 472.1,373.61 472.35,373.42 472.6,373.4 472.85,373.55 472.85,374.13" fill="#6fa2e6" stroke="none" stroke-width="0.5"/>
<polygon points="477.1,374.13 477.1,373.53 477.35,373.41 477.6,373.48 477.6,374.13" fill="#6fa2e6" stroke="none" stroke-width="0.5"/>
<polygon points="482.35,374.13 482.35,373.6 482.6,373.5 482.85,373.55 482.85,374.13" fill="#6fa2e6" stroke="none" stroke-width="0.5"/>
<polygon points="495.35,374.13 495.35,373.59 495.6,373.42 495.85,373.42 496.1,373.59 496.1,374.13" fill="#6fa2e6" stroke="none" stroke-width="0.5"/>
<polygon points="510.35,374.13 510.35,373.67 510.6,373.64 510.6,374.13" fill="#6fa2e6" stroke="none" stroke-width="0.5"/>
<polygon points="560.1,374.13 560.1,373.5 560.35,373.3 560.6,373.29 560.85,373.49 560.85,374.13" fill="#6fa2e6" stroke="none" stroke-width="0.5"/>
<polygon points="571.1,374.13 571.1,373.5 571.35,373.06 571.6,372.59 571.85,372.27 572.1,372.24 572.35,372.51 572.6,372.96 572.85,373.38 573.1,373.34 573.35,373.31 573.6,373.27 573.85,373.25 574.1,373.14 574.35,372.8 574.6,372.76 574.85,373.06 575.1,373.16 575.35,373.15 575.6,373.08 575.85,371.76 576.1,370.38 576.35,369.95 576.6,370.53 576.85,371.63 577.1,372.72 577.35,373.13 577.6,373.13 577.85,373.13 578.1,372.96 578.35,372.71 578.6,372.69 578.85,372.9 579.1,373.13 579.35,373.13 579.6,373.13 579.85,373.13 580.1,373.14 580.35,373.14 580.6,372.77 580.85,372.48 581.1,372.45 581.35,372.7 581.6,373.1 581.85,373.22 582.1,373.24 582.35,373.27 582.6,373.3 582.85,373.05 583.1,372.58 583.35,372.25 583.6,372.22 583.85,372.49 584.1,372.95 584.35,373.42 584.6,373.68 584.6,374.13" fill="#6fa2e6" stroke="none" stroke-width="0.5"/>
<polygon points="585.1,374.13 585.1,373.42 585.35,373.18 585.6,373.15 585.85,373.36 586.1,373.67 586.1,374.13" fill="#6fa2e6" stroke="none" stroke-width="0.5"/>
<polygon points="596.85,374.13 596.85,373.46 597.1,373.17 597.35,372.97 597.6,372.95 597.85,373.12 598.1,373.4 598.1,374.13" fill="#6fa2e6" stroke="none" stroke-width="0.5"/>
<polygon points="599.35,374.13 599.35,373.46 599.6,373.17 599.85,372.97 600.1,372.95 600.35,373.12 600.6,373.4 600.6,374.13" fill="#6fa2e6" stroke="none" stroke-width="0.5"/>
<polygon points="427.1,383.46 427.1,382.99 427.35,382.66 427.6,382.31 427.85,382.06 428.1,382.04 428.35,382.24 428.6,382.59 428.85,382.93 428.85,383.46" fill="#6fa2e6" stroke="none" stroke-width="0.5"/>
<polygon points="429.85,383.46 429.85,382.9 430.1,382.66 430.35,382.49 430.6,382.47 430.85,382.62 431.1,382.85 431.1,383.46" fill="#6fa2e6" stroke="none" stroke-width="0.5"/>
<polygon points="440.35,383.46 440.35,382.89 440.6,382.8 440.85,382.87 440.85,383.46" fill="#6fa2e6" stroke="none" stroke-width="0.5"/>
<polygon points="451.35,383.46 451.35,382.79 451.6,382.66 451.85,382.72 452.1,382.94 452.1,383.46" fill="#6fa2e6" stroke="none" stroke-width="0.5"/>
<polygon points="453.85,383.46 453.85,382.97 454.1,382.79 454.35,382.76 454.6,382.91 454.6,383.46" fill="#6fa2e6" stroke="none" stroke-width="0.5"/>
<polygon points="456.6,383.46 456.6,382.98 456.85,382.77 457.1,382.71 457.35,382.83 457.35,383.46" fill="#6fa2e6" stroke="none" stroke-width="0.5"/>
<polygon points="483.85,383.46 483.85,382.98 484.1,382.95 484.1,383.46" fill="#6fa2e6" stroke="none" stroke-width="0.5"/>
<polygon points="513.85,383.46 513.85,382.9 514.1,382.88 514.35,382.99 514.35,383.46" fill="#6fa2e6" stroke="none" stroke-width="0.5"/>
<polygon points="514.85,383.46 514.85,383 515.1,382.82 515.35,382.79 515.6,382.8 515.85,382.91 515.85,383.46" fill="#6fa2e6" stroke="none" stroke-width="0.5"/>
<polygon points="524.35,383.46 524.35,382.9 524.6,382.76 524.85,382.8 525.1,382.99 525.1,383.46" fill="#6fa2e6" stroke="none" stroke-width="0.5"/>
<polygon points="548.85,383.46 548.85,382.99 549.1,382.78 549.35,382.69 549.6,382.8 549.6,383.46" fill="#6fa2e6" stroke="none" stroke-width="0.5"/>
<polygon points="571.1,383.46 571.1,382.94 571.35,382.57 571.6,382.19 571.85,381.92 572.1,381.89 572.35,382.12 572.6,382.49 572.85,382.71 573.1,382.67 573.35,382.64 573.6,382.6 573.85,382.58 574.1,382.55 574.35,382.34 574.6,382.31 574.85,382.5 575.1,382.49 575.35,382.48 575.6,382.47 575.85,381.68 576.1,380.65 576.35,380.32 576.6,380.76 576.85,381.58 577.1,382.4 577.35,382.46 577.6,382.46 577.85,382.46 578.1,382.46 578.35,382.28 578.6,382.26 578.85,382.43 579.1,382.46 579.35,382.46 579.6,382.46 579.85,382.46 580.1,382.47 580.35,382.47 580.6,382.34 580.85,382.1 581.1,382.08 581.35,382.28 581.6,382.53 581.85,382.55 582.1,382.57 582.35,382.6 582.6,382.63 582.85,382.58 583.1,382.19 583.35,381.93 583.6,381.9 583.85,382.13 584.1,382.5 584.35,382.88 584.6,383.01 584.6,383.46" fill="#6fa2e6" stroke="none" stroke-width="0.5"/>
<polygon points="585.1,383.46 585.1,382.75 585.35,382.51 585.6,382.48 585.85,382.69 586.1,383 586.1,383.46" fill="#6fa2e6" stroke="none" stroke-width="0.5"/>
<polygon points="596.85,383.46 596.85,382.79 597.1,382.5 597.35,382.3 597.6,382.28 597.85,382.45 598.1,382.73 598.1,383.46" fill="#6fa2e6" stroke="none" stroke-width="0.5"/>
<polygon points="599.35,383.46 599.35,382.79 599.6,382.5 599.85,382.3 600.1,382.28 600.35,382.45 600.6,382.73 600.6,383.46" fill="#6fa2e6" stroke="none" stroke-width="0.5"/>
<polygon points="427.1,392.79 427.1,392.32 427.35,391.99 427.6,391.64 427.85,391.39 428.1,391.37 428.35,391.57 428.6,391.92 428.85,392.26 428.85,392.79" fill="#6fa2e6" stroke="none" stroke-width="0.5"/>
<polygon points="429.85,392.79 429.85,392.23 430.1,391.99 430.35,391.82 430.6,391.8 430.85,391.95 431.1,392.18 431.1,392.79" fill="#6fa2e6" stroke="none" stroke-width="0.5"/>
<polygon points="445.6,392.79 445.6,392.29 445.85,392.31 445.85,392.79" fill="#6fa2e6" stroke="none" stroke-width="0.5"/>
<polygon points="451.35,392.79 451.35,392.21 451.6,392.13 451.85,392.22 451.85,392.79" fill="#6fa2e6" stroke="none" stroke-width="0.5"/>
<polygon points="484.35,392.79 484.35,392.13 484.6,391.96 484.85,391.99 485.1,392.2 485.1,392.79" fill="#6fa2e6" stroke="none" stroke-width="0.5"/>
<polygon points="528.1,392.79 528.1,392.2 528.35,392.04 528.6,392.06 528.85,392.25 528.85,392.79" fill="#6fa2e6" stroke="none" stroke-width="0.5"/>
<polygon points="562.1,392.79 562.1,392.2 562.35,392.17 562.6,392.29 562.6,392.79" fill="#6fa2e6" stroke="none" stroke-width="0.5"/>
<polygon points="571.1,392.79 571.1,392.24 571.35,391.84 571.6,391.43 571.85,391.14 572.1,391.11 572.35,391.36 572.6,391.76 572.85,392.04 573.1,392 573.35,391.97 573.6,391.93 573.85,391.91 574.1,391.88 574.35,391.6 574.6,391.57 574.85,391.83 575.1,391.82 575.35,391.81 575.6,391.8 575.85,390.81 576.1,389.66 576.35,389.3 576.6,389.79 576.85,390.7 577.1,391.62 577.35,391.79 577.6,391.79 577.85,391.79 578.1,391.75 578.35,391.53 578.6,391.51 578.85,391.69 579.1,391.79 579.35,391.79 579.6,391.79 579.85,391.79 580.1,391.8 580.35,391.8 580.6,391.59 580.85,391.34 581.1,391.31 581.35,391.52 581.6,391.86 581.85,391.88 582.1,391.9 582.35,391.93 582.6,391.96 582.85,391.84 583.1,391.43 583.35,391.14 583.6,391.11 583.85,391.36 584.1,391.76 584.35,392.16 584.6,392.34 584.6,392.79" fill="#6fa2e6" stroke="none" stroke-width="0.5"/>
<polygon points="585.1,392.79 585.1,392.08 585.35,391.84 585.6,391.81 585.85,392.02 586.1,392.33 586.1,392.79" fill="#6fa2e6" stroke="none" stroke-width="0.5"/>
<polygon points="596.85,392.79 596.85,392.12 597.1,391.83 597.35,391.63 597.6,391.61 597.85,391.78 598.1,392.06 598.1,392.79" fill="#6fa2e6" stroke="none" stroke-width="0.5"/>
<polygon points="599.35,392.79 599.35,392.12 599.6,391.83 599.85,391.63 600.1,391.61 600.35,391.78 600.6,392.06 600.6,392.79" fill="#6fa2e6" stroke="none" stroke-width="0.5"/>
<polygon points="426.85,402.12 426.85,401.56 427.1,401.32 427.35,401.15 427.6,401.13 427.85,401.28 428.1,401.51 428.1,402.12" fill="#3f4fe6" stroke="none" stroke-width="0.5"/>
<polygon points="452.6,402.12 452.6,401.56 452.85,401.35 453.1,401.3 453.35,401.46 453.35,402.12" fill="#3f4fe6" stroke="none" stroke-width="0.5"/>
<polygon points="461.1,402.12 461.1,401.65 461.35,401.36 461.6,401.18 461.85,401.24 462.1,401.48 462.1,402.12" fill="#3f4fe6" stroke="none" stroke-width="0.5"/>
<polygon points="489.1,402.12 489.1,401.66 489.35,401.45 489.6,401.26 489.85,401.14 490.1,401.13 490.35,401.23 490.6,401.31 490.85,401.26 491.1,401.18 491.35,401.04 491.6,401.03 491.85,401.14 492.1,401.34 492.35,401.57 492.35,402.12" fill="#3f4fe6" stroke="none" stroke-width="0.5"/>
<polygon points="501.35,402.12 501.35,401.56 501.6,401.46 501.85,401.53 501.85,402.12" fill="#3f4fe6" stroke="none" stroke-width="0.5"/>
<polygon points="504.6,402.12 504.6,401.52 504.85,401.39 505.1,401.44 505.35,401.64 505.35,402.12" fill="#3f4fe6" stroke="none" stroke-width="0.5"/>
<polygon points="527.1,402.12 527.1,401.65 527.35,401.51 527.6,401.51 527.85,401.66 527.85,402.12" fill="#3f4fe6" stroke="none" stroke-width="0.5"/>
<polygon points="536.35,402.12 536.35,401.45 536.6,401.16 536.85,400.96 537.1,400.94 537.35,401.11 537.6,401.39 537.6,402.12" fill="#3f4fe6" stroke="none" stroke-width="0.5"/>
<polygon points="538.1,402.12 538.1,401.66 538.35,401.34 538.6,401 538.85,400.76 539.1,400.74 539.35,400.94 539.6,401.27 539.85,401.6 539.85,402.12" fill="#3f4fe6" stroke="none" stroke-width="0.5"/>
<polygon points="542.1,402.12 542.1,401.66 542.35,401.42 542.6,401.31 542.85,401.4 543.1,401.63 543.1,402.12" fill="#3f4fe6" stroke="none" stroke-width="0.5"/>
<polygon points="558.35,402.12 558.35,401.66 558.6,401.63 558.85,401.61 559.1,401.59 559.35,401.56 559.6,401.32 559.85,401.15 560.1,401.13 560.35,401.28 560.6,401.46 560.85,401.44 561.1,401.42 561.35,401.4 561.6,401.39 561.85,401.37 562.1,401.36 562.35,401.34 562.6,401.33 562.85,401.32 563.1,401.31 563.35,401.3 563.6,401.29 563.85,401.28 564.1,401.27 564.35,401.26 564.6,401.16 564.85,400.96 565.1,400.94 565.35,401.11 565.6,401.24 565.85,401.24 566.1,401.23 566.35,401.23 566.6,401.23 566.85,401.23 567.1,401.23 567.35,401.22 567.6,401.22 567.85,401.22 568.1,401.22 568.35,401.22 568.6,401.22 568.85,401.22 569.1,401.22 569.35,401.22 569.6,401 569.85,400.76 570.1,400.74 570.35,400.94 570.6,401.22 570.85,401.22 571.1,401.22 571.35,401.22 571.6,401.22 571.85,401.22 572.1,401.22 572.35,401.22 572.6,400.84 572.85,400.57 573.1,400.54 573.35,400.77 573.6,401.15 573.85,401.22 574.1,401.22 574.35,401.22 574.6,401.22 574.85,401.23 575.1,401.23 575.35,401.23 575.6,401.23 575.85,400.57 576.1,399.92 576.35,399.73 576.6,400 576.85,400.54 577.1,401.13 577.35,401.26 577.6,401.26 577.85,401.27 578.1,401.28 578.35,401.28 578.6,400.92 578.85,400.67 579.1,400.64 579.35,400.85 579.6,401.21 579.85,401.35 580.1,401.37 580.35,401.38 580.6,401.4 580.85,401.42 581.1,401.43 581.35,401.34 581.6,401 581.85,400.76 582.1,400.74 582.35,400.94 582.6,401.27 582.85,401.58 583.1,401.6 583.35,401.63 583.6,401.65 583.6,402.12" fill="#3f4fe6" stroke="none" stroke-width="0.5"/>
<polygon points="584.35,402.12 584.35,401.56 584.6,401.32 584.85,401.15 585.1,401.13 585.35,401.28 585.6,401.35 585.85,401.53 585.85,402.12" fill="#3f4fe6" stroke="none" stroke-width="0.5"/>
<polygon points="596.6,402.12 596.6,401.6 596.85,401.23 597.1,400.84 597.35,400.57 597.6,400.54 597.85,400.77 598.1,401.15 598.35,401.24 598.6,401.23 598.85,400.84 599.1,400.28 599.35,399.89 599.6,399.85 599.85,400.18 600.1,400.72 600.35,401.23 600.6,401.24 600.85,401.26 601.1,401 601.35,400.76 601.6,400.74 601.85,400.94 602.1,401.27 602.35,401.6 602.6,401.32 602.85,401.19 603.1,401.28 603.35,401.55 603.35,402.12" fill="#3f4fe6" stroke="none" stroke-width="0.5"/>
<polygon points="426.85,411.45 426.85,410.89 427.1,410.65 427.35,410.48 427.6,410.46 427.85,410.61 428.1,410.84 428.1,411.45" fill="#3f4fe6" stroke="none" stroke-width="0.5"/>
<polygon points="457.85,411.45 457.85,410.88 458.1,410.67 458.35,410.63 458.6,410.8 458.6,411.45" fill="#3f4fe6" stroke="none" stroke-width="0.5"/>
<polygon points="487.1,411.45 487.1,410.91 487.35,410.66 487.6,410.57 487.85,410.7 488.1,410.96 488.1,411.45" fill="#3f4fe6" stroke="none" stroke-width="0.5"/>
<polygon points="489.1,411.45 489.1,410.99 489.35,410.78 489.6,410.59 489.85,410.47 490.1,410.46 490.35,410.56 490.6,410.74 490.85,410.72 491.1,410.51 491.35,410.37 491.6,410.36 491.85,410.47 492.1,410.67 492.35,410.9 492.35,411.45" fill="#3f4fe6" stroke="none" stroke-width="0.5"/>
<polygon points="493.6,411.45 493.6,410.83 493.85,410.61 494.1,410.59 494.35,410.78 494.6,410.87 494.85,410.98 494.85,411.45" fill="#3f4fe6" stroke="none" stroke-width="0.5"/>
<polygon points="508.35,411.45 508.35,410.82 508.6,410.76 508.85,410.87 508.85,411.45" fill="#3f4fe6" stroke="none" stroke-width="0.5"/>
<polygon points="513.6,411.45 513.6,410.72 513.85,410.53 514.1,410.56 514.35,410.79 514.35,411.45" fill="#3f4fe6" stroke="none" stroke-width="0.5"/>
<polygon points="536.35,411.45 536.35,410.78 536.6,410.49 536.85,410.29 537.1,410.27 537.35,410.44 537.6,410.72 537.6,411.45" fill="#3f4fe6" stroke="none" stroke-width="0.5"/>
<polygon points="538.1,411.45 538.1,410.99 538.35,410.67 538.6,410.33 538.85,410.09 539.1,410.07 539.35,410.27 539.6,410.6 539.85,410.93 539.85,411.45" fill="#3f4fe6" stroke="none" stroke-width="0.5"/>
<polygon points="558.35,411.45 558.35,410.99 558.6,410.96 558.85,410.94 559.1,410.92 559.35,410.89 559.6,410.65 559.85,410.48 560.1,410.46 560.35,410.61 560.6,410.79 560.85,410.77 561.1,410.75 561.35,410.73 561.6,410.72 561.85,410.7 562.1,410.69 562.35,410.67 562.6,410.66 562.85,410.65 563.1,410.64 563.35,410.63 563.6,410.62 563.85,410.61 564.1,410.6 564.35,410.59 564.6,410.49 564.85,410.29 565.1,410.27 565.35,410.44 565.6,410.57 565.85,410.57 566.1,410.56 566.35,410.56 566.6,410.56 566.85,410.56 567.1,410.56 567.35,410.55 567.6,410.55 567.85,410.55 568.1,410.55 568.35,410.55 568.6,410.55 568.85,410.55 569.1,410.55 569.35,410.55 569.6,410.33 569.85,410.09 570.1,410.07 570.35,410.27 570.6,410.55 570.85,410.55 571.1,410.55 571.35,410.55 571.6,410.55 571.85,410.55 572.1,410.55 572.35,410.55 572.6,410.17 572.85,409.9 573.1,409.87 573.35,410.1 573.6,410.48 573.85,410.55 574.1,410.55 574.35,410.55 574.6,410.55 574.85,410.56 575.1,410.56 575.35,410.56 575.6,410.56 575.85,409.9 576.1,409.25 576.35,409.06 576.6,409.33 576.85,409.87 577.1,410.46 577.35,410.59 577.6,410.59 577.85,410.6 578.1,410.61 578.35,410.61 578.6,410.25 578.85,410 579.1,409.97 579.35,410.18 579.6,410.54 579.85,410.68 580.1,410.7 580.35,410.71 580.6,410.73 580.85,410.75 581.1,410.76 581.35,410.67 581.6,410.33 581.85,410.09 582.1,410.07 582.35,410.27 582.6,410.6 582.85,410.91 583.1,410.93 583.35,410.96 583.6,410.98 583.6,411.45" fill="#3f4fe6" stroke="none" stroke-width="0.5"/>
<polygon points="584.35,411.45 584.35,410.89 584.6,410.65 584.85,410.48 585.1,410.46 585.35,410.61 585.6,410.84 585.6,411.45" fill="#3f4fe6" stroke="none" stroke-width="0.5"/>
<polygon points="588.1,411.45 588.1,410.83 588.35,410.78 588.6,410.89 588.6,411.45" fill="#3f4fe6" stroke="none" stroke-width="0.5"/>
<polygon points="595.6,411.45 595.6,410.9 595.85,410.84 596.1,410.93 596.1,411.45" fill="#3f4fe6" stroke="none" stroke-width="0.5"/>
<polygon points="596.6,411.45 596.6,410.93 596.85,410.56 597.1,410.17 597.35,409.9 597.6,409.87 597.85,410.1 598.1,410.48 598.35,410.57 598.6,410.56 598.85,410.17 599.1,409.61 599.35,409.22 599.6,409.18 599.85,409.51 600.1,410.05 600.35,410.56 600.6,410.57 600.85,410.59 601.1,410.33 601.35,410.09 601.6,410.07 601.85,410.27 602.1,410.6 602.35,410.9 602.6,410.64 602.85,410.54 603.1,410.67 603.35,410.94 603.35,411.45" fill="#3f4fe6" stroke="none" stroke-width="0.5"/>
<polygon points="607.35,411.45 607.35,410.97 607.6,410.74 607.85,410.64 608.1,410.76 608.35,410.99 608.35,411.45" fill="#3f4fe6" stroke="none" stroke-width="0.5"/>
<polygon points="426.85,420.78 426.85,420.22 427.1,419.98 427.35,419.81 427.6,419.79 427.85,419.94 428.1,420.17 428.1,420.78" fill="#3f4fe6" stroke="none" stroke-width="0.5"/>
<polygon points="434.6,420.78 434.6,420.07 434.85,419.85 435.1,419.84 435.35,420.05 435.35,420.78" fill="#3f4fe6" stroke="none" stroke-width="0.5"/>
<polygon points="444.85,420.78 444.85,420.31 445.1,420.14 445.35,420.12 445.6,420.25 445.6,420.78" fill="#3f4fe6" stroke="none" stroke-width="0.5"/>
<polygon points="464.85,420.78 464.85,420.28 465.1,419.98 465.35,419.8 465.6,419.87 465.85,420.13 465.85,420.78" fill="#3f4fe6" stroke="none" stroke-width="0.5"/>
<polygon points="480.6,420.78 480.6,420.18 480.85,420.04 481.1,420.09 481.35,420.28 481.35,420.78" fill="#3f4fe6" stroke="none" stroke-width="0.5"/>
<polygon points="489.1,420.78 489.1,420.32 489.35,420.11 489.6,419.92 489.85,419.8 490.1,419.79 490.35,419.89 490.6,420.07 490.85,420.05 491.1,419.84 491.35,419.7 491.6,419.69 491.85,419.8 492.1,420 492.35,420.23 492.35,420.78" fill="#3f4fe6" stroke="none" stroke-width="0.5"/>
<polygon points="496.35,420.78 496.35,420.29 496.6,420.1 496.85,420.06 497.1,420.2 497.1,420.78" fill="#3f4fe6" stroke="none" stroke-width="0.5"/>
<polygon points="517.85,420.78 517.85,420.31 518.1,420.21 518.35,420.26 518.35,420.78" fill="#3f4fe6" stroke="none" stroke-width="0.5"/>
<polygon points="536.35,420.78 536.35,420.11 536.6,419.82 536.85,419.62 537.1,419.6 537.35,419.77 537.6,420.05 537.6,420.78" fill="#3f4fe6" stroke="none" stroke-width="0.5"/>
<polygon points="538.1,420.78 538.1,420.32 538.35,420 538.6,419.66 538.85,419.42 539.1,419.4 539.35,419.6 539.6,419.93 539.85,420.26 539.85,420.78" fill="#3f4fe6" stroke="none" stroke-width="0.5"/>
<polygon points="547.85,420.78 547.85,420.31 548.1,420.06 548.35,419.94 548.6,420.03 548.85,420.27 548.85,420.78" fill="#3f4fe6" stroke="none" stroke-width="0.5"/>
<polygon points="558.1,420.78 558.1,420.11 558.35,419.88 558.6,419.85 558.85,420.05 559.1,420.25 559.35,420.22 559.6,419.98 559.85,419.81 560.1,419.79 560.35,419.94 560.6,420.12 560.85,420.1 561.1,420.08 561.35,420.06 561.6,420.05 561.85,420.03 562.1,420.02 562.35,420 562.6,419.99 562.85,419.98 563.1,419.97 563.35,419.96 563.6,419.95 563.85,419.94 564.1,419.93 564.35,419.92 564.6,419.82 564.85,419.62 565.1,419.6 565.35,419.77 565.6,419.9 565.85,419.9 566.1,419.89 566.35,419.89 566.6,419.89 566.85,419.89 567.1,419.89 567.35,419.88 567.6,419.88 567.85,419.88 568.1,419.88 568.35,419.88 568.6,419.88 568.85,419.88 569.1,419.88 569.35,419.88 569.6,419.66 569.85,419.42 570.1,419.4 570.35,419.6 570.6,419.88 570.85,419.88 571.1,419.88 571.35,419.88 571.6,419.88 571.85,419.88 572.1,419.88 572.35,419.88 572.6,419.5 572.85,419.23 573.1,419.2 573.35,419.43 573.6,419.81 573.85,419.88 574.1,419.88 574.35,419.88 574.6,419.88 574.85,419.89 575.1,419.89 575.35,419.89 575.6,419.89 575.85,419.23 576.1,418.58 576.35,418.39 576.6,418.66 576.85,419.2 577.1,419.79 577.35,419.92 577.6,419.92 577.85,419.93 578.1,419.94 578.35,419.94 578.6,419.58 578.85,419.33 579.1,419.3 579.35,419.51 579.6,419.87 579.85,420.01 580.1,420.03 580.35,420.04 580.6,420.06 580.85,420.08 581.1,420.09 581.35,420 581.6,419.66 581.85,419.42 582.1,419.4 582.35,419.6 582.6,419.93 582.85,420.24 583.1,420.26 583.35,420.29 583.6,420.31 583.6,420.78" fill="#3f4fe6" stroke="none" stroke-width="0.5"/>
<polygon points="584.35,420.78 584.35,420.22 584.6,419.98 584.85,419.81 585.1,419.79 585.35,419.94 585.6,420.17 585.6,420.78" fill="#3f4fe6" stroke="none" stroke-width="0.5"/>
<polygon points="596.6,420.78 596.6,420.26 596.85,419.89 597.1,419.5 597.35,419.23 597.6,419.2 597.85,419.43 598.1,419.81 598.35,419.9 598.6,419.89 598.85,419.5 599.1,418.94 599.35,418.55 599.6,418.51 599.85,418.84 600.1,419.38 600.35,419.89 600.6,419.9 600.85,419.92 601.1,419.66 601.35,419.42 601.6,419.4 601.85,419.6 602.1,419.93 602.35,420.26 602.35,420.78" fill="#3f4fe6" stroke="none" stroke-width="0.5"/>
<polygon points="426.85,430.11 426.85,429.55 427.1,429.31 427.35,429.14 427.6,429.12 427.85,429.27 428.1,429.5 428.1,430.11" fill="#3f4fe6" stroke="none" stroke-width="0.5"/>
<polygon points="456.1,430.11 456.1,429.44 456.35,429.18 456.6,429.12 456.85,429.31 457.1,429.61 457.1,430.11" fill="#3f4fe6" stroke="none" stroke-width="0.5"/>
<polygon points="460.35,430.11 460.35,429.49 460.6,429.37 460.85,429.43 461.1,429.63 461.1,430.11" fill="#3f4fe6" stroke="none" stroke-width="0.5"/>
<polygon points="475.6,430.11 475.6,429.44 475.85,429.32 476.1,429.4 476.35,429.63 476.35,430.11" fill="#3f4fe6" stroke="none" stroke-width="0.5"/>
<polygon points="487.6,430.11 487.6,429.56 487.85,429.52 488.1,429.62 488.1,430.11" fill="#3f4fe6" stroke="none" stroke-width="0.5"/>
<polygon points="489.1,430.11 489.1,429.65 489.35,429.44 489.6,429.25 489.85,429.13 490.1,429.12 490.35,429.22 490.6,429.4 490.85,429.38 491.1,429.17 491.35,429.03 491.6,429.02 491.85,429.13 492.1,429.33 492.35,429.56 492.35,430.11" fill="#3f4fe6" stroke="none" stroke-width="0.5"/>
<polygon points="498.1,430.11 498.1,429.59 498.35,429.59 498.35,430.11" fill="#3f4fe6" stroke="none" stroke-width="0.5"/>
<polygon points="517.6,430.11 517.6,429.56 517.85,429.46 518.1,429.52 518.1,430.11" fill="#3f4fe6" stroke="none" stroke-width="0.5"/>
<polygon points="536.35,430.11 536.35,429.44 536.6,429.15 536.85,428.95 537.1,428.93 537.35,429.1 537.6,429.33 537.85,429.26 538.1,429.4 538.35,429.33 538.6,428.99 538.85,428.75 539.1,428.73 539.35,428.93 539.6,429.26 539.85,429.59 539.85,430.11" fill="#3f4fe6" stroke="none" stroke-width="0.5"/>
<polygon points="558.35,430.11 558.35,429.65 558.6,429.62 558.85,429.6 559.1,429.58 559.35,429.55 559.6,429.31 559.85,429.14 560.1,429.12 560.35,429.27 560.6,429.45 560.85,429.43 561.1,429.41 561.35,429.39 561.6,429.38 561.85,429.36 562.1,429.35 562.35,429.33 562.6,429.32 562.85,429.31 563.1,429.3 563.35,429.29 563.6,429.28 563.85,429.27 564.1,429.26 564.35,429.25 564.6,429.15 564.85,428.95 565.1,428.93 565.35,429.1 565.6,429.23 565.85,429.23 566.1,429.22 566.35,429.22 566.6,429.22 566.85,429.22 567.1,429.22 567.35,429.21 567.6,429.21 567.85,429.21 568.1,429.21 568.35,429.21 568.6,429.21 568.85,429.21 569.1,429.21 569.35,429.21 569.6,428.99 569.85,428.75 570.1,428.73 570.35,428.93 570.6,429.21 570.85,429.21 571.1,429.21 571.35,429.21 571.6,429.21 571.85,429.21 572.1,429.21 572.35,429.21 572.6,428.83 572.85,428.56 573.1,428.53 573.35,428.76 573.6,429.14 573.85,429.21 574.1,429.21 574.35,429.21 574.6,429.21 574.85,429.22 575.1,429.22 575.35,429.22 575.6,429.22 575.85,428.56 576.1,427.91 576.35,427.72 576.6,427.99 576.85,428.53 577.1,429.12 577.35,429.25 577.6,429.25 577.85,429.26 578.1,429.27 578.35,429.27 578.6,428.91 578.85,428.66 579.1,428.63 579.35,428.84 579.6,429.2 579.85,429.34 580.1,429.36 580.35,429.37 580.6,429.39 580.85,429.41 581.1,429.42 581.35,429.33 581.6,428.99 581.85,428.75 582.1,428.73 582.35,428.93 582.6,429.26 582.85,429.57 583.1,429.59 583.35,429.62 583.6,429.64 583.6,430.11" fill="#3f4fe6" stroke="none" stroke-width="0.5"/>
<polygon points="584.35,430.11 584.35,429.55 584.6,429.31 584.85,429.14 585.1,429.12 585.35,429.27 585.6,429.5 585.6,430.11" fill="#3f4fe6" stroke="none" stroke-width="0.5"/>
<polygon points="593.1,430.11 593.1,429.59 593.35,429.47 593.6,429.52 593.6,430.11" fill="#3f4fe6" stroke="none" stroke-width="0.5"/>
<polygon points="596.6,430.11 596.6,429.59 596.85,429.22 597.1,428.83 597.35,428.56 597.6,428.53 597.85,428.76 598.1,429.14 598.35,429.23 598.6,429.22 598.85,428.83 599.1,428.27 599.35,427.88 599.6,427.84 599.85,428.17 600.1,428.71 600.35,429.22 600.6,429.23 600.85,429.25 601.1,428.99 601.35,428.75 601.6,428.73 601.85,428.93 602.1,429.26 602.35,429.59 602.35,430.11" fill="#3f4fe6" stroke="none" stroke-width="0.5"/>
<polygon points="604.6,430.11 604.6,429.59 604.85,429.36 605.1,429.28 605.35,429.41 605.35,430.11" fill="#3f4fe6" stroke="none" stroke-width="0.5"/>
<polygon points="426.85,439.44 426.85,438.94 427.1,438.72 427.35,438.57 427.6,438.55 427.85,438.68 428.1,438.89 428.1,439.44" fill="#d8222e" stroke="none" stroke-width="0.5"/>
<polygon points="446.35,439.44 446.35,438.87 446.6,438.81 446.85,438.91 446.85,439.44" fill="#d8222e" stroke="none" stroke-width="0.5"/>
<polygon points="450.1,439.44 450.1,438.86 450.35,438.75 450.6,438.81 450.6,439.44" fill="#d8222e" stroke="none" stroke-width="0.5"/>
<polygon points="455.1,439.44 455.1,438.73 455.35,438.49 455.6,438.47 455.85,438.69 455.85,439.44" fill="#d8222e" stroke="none" stroke-width="0.5"/>
<polygon points="466.1,439.44 466.1,438.89 466.35,438.83 466.6,438.92 466.6,439.44" fill="#d8222e" stroke="none" stroke-width="0.5"/>
<polygon points="467.85,439.44 467.85,438.87 468.1,438.57 468.35,438.43 468.6,438.54 468.85,438.84 468.85,439.44" fill="#d8222e" stroke="none" stroke-width="0.5"/>
<polygon points="481.6,439.44 481.6,438.86 481.85,438.83 482.1,438.94 482.1,439.44" fill="#d8222e" stroke="none" stroke-width="0.5"/>
<polygon points="488.6,439.44 488.6,438.98 488.85,438.77 489.1,438.58 489.35,438.46 489.6,438.45 489.85,438.55 490.1,438.73 490.35,438.64 490.6,438.41 490.85,438.27 491.1,438.25 491.35,438.37 491.6,438.59 491.85,438.84 491.85,439.44" fill="#d8222e" stroke="none" stroke-width="0.5"/>
<polygon points="507.85,439.44 507.85,438.77 508.1,438.48 508.35,438.28 508.6,438.26 508.85,438.43 509.1,438.71 509.35,438.84 509.6,438.81 509.85,438.78 510.1,438.76 510.35,438.73 510.6,438.71 510.85,438.69 511.1,438.66 511.35,438.37 511.6,438.07 511.85,437.87 512.1,437.86 512.35,438.02 512.6,438.31 512.85,438.52 513.1,438.51 513.35,438.49 513.6,438.48 513.85,438.47 514.1,438.45 514.35,438.44 514.6,438.43 514.85,438.42 515.1,438.33 515.35,438.17 515.6,438.15 515.85,438.28 516.1,438.38 516.35,438.38 516.6,438.37 516.85,438.37 517.1,438.36 517.35,438.36 517.6,438.36 517.85,438.35 518.1,438.35 518.35,438.24 518.6,437.9 518.85,437.68 519.1,437.66 519.35,437.84 519.6,438.17 519.85,438.34 520.1,438.34 520.35,438.34 520.6,438.34 520.85,437.99 521.1,437.36 521.35,436.92 521.6,436.88 521.85,437.25 522.1,437.86 522.35,438.34 522.6,438.34 522.85,438.23 523.1,437.43 523.35,436.65 523.6,436.19 523.85,436.24 524.1,436.8 524.35,437.6 524.6,438.34 524.85,438.34 525.1,438.34 525.35,437.99 525.6,437.36 525.85,436.92 526.1,436.88 526.35,437.25 526.6,437.86 526.85,438.34 527.1,438.35 527.35,438.35 527.6,438.35 527.85,438.35 528.1,438.35 528.35,438.36 528.6,438.36 528.85,438.36 529.1,438.37 529.35,438.37 529.6,438.38 529.85,438.27 530.1,438.25 530.35,438.37 530.6,438.4 530.85,438.41 531.1,438.42 531.35,438.43 531.6,438.44 531.85,438.45 532.1,438.46 532.35,438.48 532.6,438.49 532.85,438.37 533.1,438.07 533.35,437.87 533.6,437.86 533.85,438.02 534.1,438.31 534.35,438.61 534.6,438.64 534.85,438.66 535.1,438.68 535.35,438.7 535.6,438.73 535.85,438.44 536.1,438.15 536.35,437.97 536.6,437.95 536.85,438.11 537.1,438.38 537.35,438.69 537.6,438.94 537.85,438.97 537.85,439.44" fill="#d8222e" stroke="none" stroke-width="0.5"/>
<polygon points="544.6,439.44 544.6,438.76 544.85,438.56 545.1,438.56 545.35,438.77 545.35,439.44" fill="#d8222e" stroke="none" stroke-width="0.5"/>
<polygon points="548.35,439.44 548.35,438.93 548.6,438.92 548.6,439.44" fill="#d8222e" stroke="none" stroke-width="0.5"/>
<polygon points="558.1,439.44 558.1,438.98 558.35,438.77 558.6,438.58 558.85,438.46 559.1,438.45 559.35,438.55 559.6,438.73 559.85,438.82 560.1,438.79 560.35,438.76 560.6,438.73 560.85,438.7 561.1,438.68 561.35,438.65 561.6,438.63 561.85,438.61 562.1,438.45 562.35,438.55 562.6,438.41 562.85,438.27 563.1,438.25 563.35,438.37 563.6,438.47 563.85,438.46 564.1,438.45 564.35,438.43 564.6,438.42 564.85,438.41 565.1,438.4 565.35,438.39 565.6,438.39 565.85,438.38 566.1,438.37 566.35,438.37 566.6,438.36 566.85,438.27 567.1,438.25 567.35,438.35 567.6,438.35 567.85,438.35 568.1,438.35 568.35,438.35 568.6,438.34 568.85,438.34 569.1,438.34 569.35,438.34 569.6,438.34 569.85,438.34 570.1,438.34 570.35,438.34 570.6,437.92 570.85,437.6 571.1,437.57 571.35,437.84 571.6,438.29 571.85,438.34 572.1,438.34 572.35,438.34 572.6,438.34 572.85,438.34 573.1,438.34 573.35,438.05 573.6,437.44 573.85,437.02 574.1,436.97 574.35,437.33 574.6,437.92 574.85,438.34 575.1,438.34 575.35,438.34 575.6,437.64 575.85,435.38 576.1,433.01 576.35,432.27 576.6,433.27 576.85,435.15 577.1,437.03 577.35,438.35 577.6,438.3 577.85,437.49 578.1,436.64 578.35,436.05 578.6,435.99 578.85,436.49 579.1,437.31 579.35,438.15 579.6,438.43 579.85,438.44 580.1,438.46 580.35,437.94 580.6,437.28 580.85,436.82 581.1,436.78 581.35,437.16 581.6,437.8 581.85,438.45 582.1,438.6 582.35,438.62 582.6,438.65 582.85,438.44 583.1,438 583.35,437.7 583.6,437.66 583.85,437.92 584.1,438.35 584.35,438.78 584.6,438.87 584.85,438.9 585.1,438.93 585.35,438.96 585.6,438.99 585.6,439.44" fill="#d8222e" stroke="none" stroke-width="0.5"/>
<polygon points="590.1,439.44 590.1,438.9 590.35,438.73 590.6,438.73 590.85,438.9 590.85,439.44" fill="#d8222e" stroke="none" stroke-width="0.5"/>
<polygon points="595.6,439.44 595.6,438.98 595.85,438.66 596.1,438.32 596.35,438.08 596.6,438.06 596.85,438.26 597.1,438.59 597.35,438.7 597.6,438.65 597.85,438.61 598.1,438.58 598.35,438.57 598.6,438.55 598.85,438.27 599.1,437.76 599.35,437.4 599.6,437.37 599.85,437.67 600.1,438.16 600.35,438.54 600.6,438.54 600.85,438.54 601.1,438.55 601.35,438.55 601.6,438.48 601.85,438.28 602.1,438.26 602.35,438.43 602.6,438.69 602.85,438.74 603.1,438.81 603.35,438.89 603.6,438.97 603.6,439.44" fill="#d8222e" stroke="none" stroke-width="0.5"/>
<polygon points="609.6,439.44 609.6,438.88 609.85,438.72 610.1,438.74 610.35,438.92 610.35,439.44" fill="#d8222e" stroke="none" stroke-width="0.5"/>
<polygon points="426.85,448.77 426.85,448.27 427.1,448.05 427.35,447.9 427.6,447.88 427.85,448.01 428.1,448.22 428.1,448.77" fill="#d8222e" stroke="none" stroke-width="0.5"/>
<polygon points="456.35,448.77 456.35,448.07 456.6,447.86 456.85,447.87 457.1,448.09 457.1,448.77" fill="#d8222e" stroke="none" stroke-width="0.5"/>
<polygon points="461.6,448.77 461.6,448.14 461.85,447.84 462.1,447.74 462.35,447.89 462.6,448.2 462.85,448.02 463.1,447.82 463.35,447.86 463.6,448.1 463.6,448.77" fill="#d8222e" stroke="none" stroke-width="0.5"/>
<polygon points="481.1,448.77 481.1,448.1 481.35,447.84 481.6,447.78 481.85,447.96 482.1,448.07 482.35,448 482.6,448.11 482.6,448.77" fill="#d8222e" stroke="none" stroke-width="0.5"/>
<polygon points="488.6,448.77 488.6,448.31 488.85,448.1 489.1,447.91 489.35,447.79 489.6,447.78 489.85,447.88 490.1,448.06 490.35,447.97 490.6,447.74 490.85,447.6 491.1,447.58 491.35,447.7 491.6,447.92 491.85,448.17 491.85,448.77" fill="#d8222e" stroke="none" stroke-width="0.5"/>
<polygon points="507.85,448.77 507.85,448.1 508.1,447.81 508.35,447.61 508.6,447.59 508.85,447.76 509.1,448.04 509.35,448.17 509.6,448.14 509.85,448.11 510.1,448.09 510.35,448.06 510.6,448.04 510.85,448.02 511.1,447.99 511.35,447.7 511.6,447.4 511.85,447.2 512.1,447.19 512.35,447.35 512.6,447.64 512.85,447.85 513.1,447.84 513.35,447.82 513.6,447.81 513.85,447.8 514.1,447.78 514.35,447.77 514.6,447.76 514.85,447.75 515.1,447.66 515.35,447.5 515.6,447.48 515.85,447.61 516.1,447.71 516.35,447.71 516.6,447.7 516.85,447.7 517.1,447.69 517.35,447.69 517.6,447.69 517.85,447.68 518.1,447.68 518.35,447.57 518.6,447.23 518.85,447.01 519.1,446.99 519.35,447.17 519.6,447.5 519.85,447.67 520.1,447.67 520.35,447.67 520.6,447.67 520.85,447.32 521.1,446.69 521.35,446.25 521.6,446.21 521.85,446.58 522.1,447.19 522.35,447.67 522.6,447.67 522.85,447.56 523.1,446.76 523.35,445.98 523.6,445.52 523.85,445.57 524.1,446.13 524.35,446.93 524.6,447.67 524.85,447.67 525.1,447.67 525.35,447.32 525.6,446.69 525.85,446.25 526.1,446.21 526.35,446.58 526.6,447.19 526.85,447.67 527.1,447.68 527.35,447.68 527.6,447.68 527.85,447.68 528.1,447.68 528.35,447.69 528.6,447.69 528.85,447.69 529.1,447.7 529.35,447.7 529.6,447.71 529.85,447.6 530.1,447.58 530.35,447.7 530.6,447.73 530.85,447.74 531.1,447.75 531.35,447.76 531.6,447.77 531.85,447.78 532.1,447.79 532.35,447.81 532.6,447.82 532.85,447.7 533.1,447.4 533.35,447.2 533.6,447.19 533.85,447.35 534.1,447.64 534.35,447.94 534.6,447.97 534.85,447.99 535.1,448.01 535.35,448.03 535.6,448.06 535.85,447.77 536.1,447.48 536.35,447.3 536.6,447.28 536.85,447.44 537.1,447.71 537.35,448.02 537.6,448.27 537.85,448.3 537.85,448.77" fill="#d8222e" stroke="none" stroke-width="0.5"/>
<polygon points="558.1,448.77 558.1,448.31 558.35,448.1 558.6,447.91 558.85,447.79 559.1,447.78 559.35,447.88 559.6,448.06 559.85,448.15 560.1,448.12 560.35,448.09 560.6,448.06 560.85,448.03 561.1,448.01 561.35,447.98 561.6,447.96 561.85,447.94 562.1,447.91 562.35,447.89 562.6,447.74 562.85,447.6 563.1,447.58 563.35,447.7 563.6,447.8 563.85,447.79 564.1,447.78 564.35,447.76 564.6,447.75 564.85,447.74 565.1,447.73 565.35,447.72 565.6,447.72 565.85,447.71 566.1,447.7 566.35,447.7 566.6,447.69 566.85,447.6 567.1,447.58 567.35,447.68 567.6,447.68 567.85,447.68 568.1,447.68 568.35,447.68 568.6,447.67 568.85,447.67 569.1,447.67 569.35,447.67 569.6,447.67 569.85,447.67 570.1,447.67 570.35,447.67 570.6,447.25 570.85,446.93 571.1,446.9 571.35,447.17 571.6,447.62 571.85,447.67 572.1,447.67 572.35,447.67 572.6,447.67 572.85,447.67 573.1,447.67 573.35,447.38 573.6,446.77 573.85,446.35 574.1,446.3 574.35,446.66 574.6,447.25 574.85,447.67 575.1,447.67 575.35,447.67 575.6,446.97 575.85,444.71 576.1,442.34 576.35,441.6 576.6,442.6 576.85,444.48 577.1,446.36 577.35,447.68 577.6,447.63 577.85,446.82 578.1,445.97 578.35,445.38 578.6,445.32 578.85,445.82 579.1,446.64 579.35,447.48 579.6,447.76 579.85,447.77 580.1,447.79 580.35,447.27 580.6,446.61 580.85,446.15 581.1,446.11 581.35,446.49 581.6,447.13 581.85,447.78 582.1,447.93 582.35,447.95 582.6,447.98 582.85,447.77 583.1,447.33 583.35,447.03 583.6,446.99 583.85,447.25 584.1,447.68 584.35,448.11 584.6,448.2 584.85,448.23 585.1,448.26 585.35,448.29 585.6,448.32 585.6,448.77" fill="#d8222e" stroke="none" stroke-width="0.5"/>
<polygon points="590.6,448.77 590.6,448.22 590.85,448 591.1,447.95 591.35,448.1 591.35,448.77" fill="#d8222e" stroke="none" stroke-width="0.5"/>
<polygon points="595.6,448.77 595.6,448.31 595.85,447.99 596.1,447.65 596.35,447.41 596.6,447.39 596.85,447.59 597.1,447.92 597.35,448.03 597.6,447.98 597.85,447.94 598.1,447.91 598.35,447.9 598.6,447.88 598.85,447.6 599.1,447.09 599.35,446.73 599.6,446.7 599.85,447 600.1,447.49 600.35,447.87 600.6,447.87 600.85,447.87 601.1,447.88 601.35,447.88 601.6,447.81 601.85,447.61 602.1,447.59 602.35,447.76 602.6,448.02 602.85,448.07 603.1,448.14 603.35,448.22 603.6,448.3 603.6,448.77" fill="#d8222e" stroke="none" stroke-width="0.5"/>
<polygon points="426.85,458.1 426.85,457.6 427.1,457.38 427.35,457.23 427.6,457.21 427.85,457.34 428.1,457.55 428.1,458.1" fill="#d8222e" stroke="none" stroke-width="0.5"/>
<polygon points="438.85,458.1 438.85,457.36 439.1,457.14 439.35,457.15 439.6,457.38 439.6,458.1" fill="#d8222e" stroke="none" stroke-width="0.5"/>
<polygon points="488.6,458.1 488.6,457.64 488.85,457.43 489.1,457.24 489.35,457.12 489.6,457.11 489.85,457.21 490.1,457.39 490.35,457.3 490.6,457.07 490.85,456.93 491.1,456.91 491.35,457.03 491.6,457.25 491.85,457.5 491.85,458.1" fill="#d8222e" stroke="none" stroke-width="0.5"/>
<polygon points="496.85,458.1 496.85,457.57 497.1,457.36 497.35,457.3 497.6,457.45 497.6,458.1" fill="#d8222e" stroke="none" stroke-width="0.5"/>
<polygon points="506.6,458.1 506.6,457.62 506.85,457.45 507.1,457.42 507.35,457.56 507.35,458.1" fill="#d8222e" stroke="none" stroke-width="0.5"/>
<polygon points="508.1,458.1 508.1,457.51 508.35,457.29 508.6,457.26 508.85,457.43 509.1,457.52 509.35,457.5 509.6,457.47 509.85,457.44 510.1,457.42 510.35,457.39 510.6,457.37 510.85,457.35 511.1,457.32 511.35,457.3 511.6,457.28 511.85,457.26 512.1,457.24 512.35,457.22 512.6,457.2 512.85,457.18 513.1,457.17 513.35,457.15 513.6,457.14 513.85,457.13 514.1,457.11 514.35,457.1 514.6,457.09 514.85,457.08 515.1,457.07 515.35,457.06 515.6,457.06 515.85,457.05 516.1,457.04 516.35,457.04 516.6,457.03 516.85,457.03 517.1,457.02 517.35,457.02 517.6,457.02 517.85,457.01 518.1,457.01 518.35,457.01 518.6,457.01 518.85,457.01 519.1,457 519.35,457 519.6,457 519.85,457 520.1,457 520.35,457 520.6,457 520.85,457 521.1,457 521.35,456.84 521.6,456.82 521.85,457 522.1,457 522.35,457 522.6,457 522.85,457 523.1,457 523.35,456.71 523.6,456.47 523.85,456.5 524.1,456.78 524.35,457 524.6,457 524.85,457 525.1,457 525.35,457 525.6,457 525.85,456.84 526.1,456.82 526.35,457 526.6,457 526.85,457 527.1,457.01 527.35,457.01 527.6,457.01 527.85,457.01 528.1,457.01 528.35,457.02 528.6,457.02 528.85,457.02 529.1,457.03 529.35,457.03 529.6,457.04 529.85,457.04 530.1,457.05 530.35,457.05 530.6,457.06 530.85,457.07 531.1,457.08 531.35,457.09 531.6,457.1 531.85,457.11 532.1,457.12 532.35,457.14 532.6,457.15 532.85,457.17 533.1,457.18 533.35,457.2 533.6,457.22 533.85,457.23 534.1,457.25 534.35,457.27 534.6,457.3 534.85,457.32 535.1,457.34 535.35,457.36 535.6,457.39 535.85,457.41 536.1,457.44 536.35,457.37 536.6,457.36 536.85,457.43 537.1,457.55 537.35,457.57 537.6,457.6 537.85,457.63 537.85,458.1" fill="#d8222e" stroke="none" stroke-width="0.5"/>
<polygon points="545.35,458.1 545.35,457.58 545.6,457.36 545.85,457.29 546.1,457.42 546.1,458.1" fill="#d8222e" stroke="none" stroke-width="0.5"/>
<polygon points="550.6,458.1 550.6,457.63 550.85,457.47 551.1,457.45 551.35,457.58 551.35,458.1" fill="#d8222e" stroke="none" stroke-width="0.5"/>
<polygon points="558.1,458.1 558.1,457.64 558.35,457.43 558.6,457.24 558.85,457.12 559.1,457.11 559.35,457.21 559.6,457.39 559.85,457.48 560.1,457.45 560.35,457.42 560.6,457.39 560.85,457.36 561.1,457.34 561.35,457.31 561.6,457.29 561.85,457.27 562.1,457.24 562.35,457.22 562.6,457.07 562.85,456.93 563.1,456.91 563.35,457.03 563.6,457.13 563.85,457.12 564.1,457.11 564.35,457.09 564.6,457.08 564.85,457.07 565.1,457.06 565.35,457.05 565.6,457.05 565.85,457.04 566.1,457.03 566.35,457.03 566.6,457.02 566.85,456.93 567.1,456.91 567.35,457.01 567.6,457.01 567.85,457.01 568.1,457.01 568.35,457.01 568.6,457 568.85,457 569.1,457 569.35,457 569.6,457 569.85,457 570.1,457 570.35,457 570.6,457 570.85,457 571.1,457 571.35,457 571.6,457 571.85,457 572.1,457 572.35,457 572.6,457 572.85,457 573.1,457 573.35,457 573.6,457 573.85,456.85 574.1,456.83 574.35,457 574.6,457 574.85,457 575.1,457 575.35,457 575.6,457 575.85,456.27 576.1,455.21 576.35,454.87 576.6,455.32 576.85,456.17 577.1,457.01 577.35,457.02 577.6,457.03 577.85,457.03 578.1,456.71 578.35,456.41 578.6,456.38 578.85,456.63 579.1,457.04 579.35,457.08 579.6,457.09 579.85,457.1 580.1,457.12 580.35,457.13 580.6,456.99 580.85,456.76 581.1,456.74 581.35,456.94 581.6,457.22 581.85,457.24 582.1,457.26 582.35,457.28 582.6,457.31 582.85,457.33 583.1,457.32 583.35,457.15 583.6,457.14 583.85,457.28 584.1,457.47 584.35,457.5 584.6,457.53 584.85,457.56 585.1,457.59 585.35,457.62 585.6,457.65 585.6,458.1" fill="#d8222e" stroke="none" stroke-width="0.5"/>
<polygon points="595.6,458.1 595.6,457.64 595.85,457.32 596.1,456.98 596.35,456.74 596.6,456.72 596.85,456.92 597.1,457.25 597.35,457.36 597.6,457.31 597.85,457.27 598.1,457.24 598.35,457.23 598.6,457.21 598.85,457.21 599.1,457.18 599.35,456.99 599.6,456.97 599.85,457.13 600.1,457.2 600.35,457.2 600.6,457.2 600.85,457.2 601.1,457.21 601.35,457.21 601.6,457.14 601.85,456.94 602.1,456.92 602.35,457.09 602.6,457.35 602.85,457.4 603.1,457.47 603.35,457.55 603.6,457.63 603.6,458.1" fill="#d8222e" stroke="none" stroke-width="0.5"/>
<polygon points="610.35,458.1 610.35,457.47 610.6,457.16 610.85,457.04 611.1,457.19 611.35,457.5 611.35,458.1" fill="#d8222e" stroke="none" stroke-width="0.5"/>
<polygon points="426.85,467.43 426.85,466.93 427.1,466.71 427.35,466.56 427.6,466.54 427.85,466.67 428.1,466.88 428.1,467.43" fill="#d8222e" stroke="none" stroke-width="0.5"/>
<polygon points="462.35,467.43 462.35,466.86 462.6,466.82 462.85,466.93 462.85,467.43" fill="#d8222e" stroke="none" stroke-width="0.5"/>
<polygon points="471.35,467.43 471.35,466.76 471.6,466.54 471.85,466.52 472.1,466.73 472.1,467.43" fill="#d8222e" stroke="none" stroke-width="0.5"/>
<polygon points="488.6,467.43 488.6,466.97 488.85,466.76 489.1,466.57 489.35,466.45 489.6,466.44 489.85,466.54 490.1,466.72 490.35,466.63 490.6,466.4 490.85,466.26 491.1,466.24 491.35,466.36 491.6,466.58 491.85,466.83 491.85,467.43" fill="#d8222e" stroke="none" stroke-width="0.5"/>
<polygon points="500.85,467.43 500.85,466.81 501.1,466.77 501.35,466.89 501.35,467.43" fill="#d8222e" stroke="none" stroke-width="0.5"/>
<polygon points="503.1,467.43 503.1,466.89 503.35,466.64 503.6,466.56 503.85,466.7 504.1,466.96 504.1,467.43" fill="#d8222e" stroke="none" stroke-width="0.5"/>
<polygon points="507.6,467.43 507.6,466.9 507.85,466.76 508.1,466.47 508.35,466.27 508.6,466.25 508.85,466.42 509.1,466.7 509.35,466.83 509.6,466.8 509.85,466.77 510.1,466.75 510.35,466.72 510.6,466.7 510.85,466.68 511.1,466.65 511.35,466.36 511.6,466.06 511.85,465.86 512.1,465.85 512.35,466.01 512.6,466.3 512.85,466.51 513.1,466.5 513.35,466.48 513.6,466.47 513.85,466.46 514.1,466.44 514.35,466.43 514.6,466.42 514.85,466.41 515.1,466.32 515.35,466.16 515.6,466.14 515.85,466.27 516.1,466.37 516.35,466.37 516.6,466.36 516.85,466.36 517.1,466.35 517.35,466.35 517.6,466.35 517.85,466.34 518.1,466.34 518.35,466.23 518.6,465.89 518.85,465.67 519.1,465.65 519.35,465.83 519.6,466.16 519.85,466.33 520.1,466.33 520.35,466.33 520.6,466.33 520.85,465.98 521.1,465.35 521.35,464.91 521.6,464.87 521.85,465.24 522.1,465.85 522.35,466.33 522.6,466.33 522.85,466.22 523.1,465.42 523.35,464.64 523.6,464.18 523.85,464.23 524.1,464.79 524.35,465.59 524.6,466.33 524.85,466.33 525.1,466.33 525.35,465.98 525.6,465.35 525.85,464.91 526.1,464.87 526.35,465.24 526.6,465.85 526.85,466.33 527.1,466.34 527.35,466.34 527.6,466.34 527.85,466.34 528.1,466.34 528.35,466.35 528.6,466.35 528.85,466.35 529.1,466.36 529.35,466.36 529.6,466.37 529.85,466.26 530.1,466.24 530.35,466.36 530.6,466.39 530.85,466.4 531.1,466.41 531.35,466.42 531.6,466.43 531.85,466.44 532.1,466.45 532.35,466.47 532.6,466.48 532.85,466.36 533.1,466.06 533.35,465.86 533.6,465.85 533.85,466.01 534.1,466.3 534.35,466.6 534.6,466.63 534.85,466.65 535.1,466.67 535.35,466.69 535.6,466.72 535.85,466.43 536.1,466.14 536.35,465.96 536.6,465.94 536.85,466.1 537.1,466.37 537.35,466.68 537.6,466.93 537.85,466.96 537.85,467.43" fill="#d8222e" stroke="none" stroke-width="0.5"/>
<polygon points="552.35,467.43 552.35,466.84 552.6,466.69 552.85,466.73 553.1,466.92 553.1,467.43" fill="#d8222e" stroke="none" stroke-width="0.5"/>
<polygon points="558.1,467.43 558.1,466.97 558.35,466.76 558.6,466.57 558.85,466.45 559.1,466.44 559.35,466.54 559.6,466.72 559.85,466.81 560.1,466.78 560.35,466.75 560.6,466.72 560.85,466.69 561.1,466.67 561.35,466.64 561.6,466.62 561.85,466.6 562.1,466.57 562.35,466.55 562.6,466.4 562.85,466.26 563.1,466.24 563.35,466.36 563.6,466.46 563.85,466.45 564.1,466.44 564.35,466.42 564.6,466.41 564.85,466.4 565.1,466.39 565.35,466.38 565.6,466.38 565.85,466.37 566.1,466.36 566.35,466.36 566.6,466.35 566.85,466.26 567.1,466.24 567.35,466.34 567.6,466.34 567.85,466.34 568.1,466.34 568.35,466.34 568.6,466.33 568.85,466.33 569.1,466.33 569.35,466.33 569.6,466.33 569.85,466.33 570.1,466.33 570.35,466.33 570.6,465.97 570.85,465.67 571.1,465.64 571.35,465.89 571.6,466.32 571.85,466.33 572.1,466.33 572.35,466.33 572.6,466.33 572.85,466.33 573.1,466.33 573.35,466.1 573.6,465.51 573.85,465.11 574.1,465.07 574.35,465.41 574.6,465.98 574.85,466.33 575.1,466.33 575.35,466.33 575.6,465.72 575.85,463.57 576.1,461.32 576.35,460.62 576.6,461.57 576.85,463.35 577.1,465.14 577.35,466.35 577.6,466.34 577.85,465.57 578.1,464.75 578.35,464.19 578.6,464.14 578.85,464.61 579.1,465.4 579.35,466.2 579.6,466.42 579.85,466.43 580.1,466.45 580.35,465.99 580.6,465.36 580.85,464.93 581.1,464.89 581.35,465.25 581.6,465.86 581.85,466.48 582.1,466.59 582.35,466.61 582.6,466.64 582.85,466.47 583.1,466.05 583.35,465.76 583.6,465.73 583.85,465.97 584.1,466.38 584.35,466.8 584.6,466.86 584.85,466.89 585.1,466.92 585.35,466.95 585.6,466.98 585.6,467.43" fill="#d8222e" stroke="none" stroke-width="0.5"/>
<polygon points="594.1,467.43 594.1,466.89 594.35,466.74 594.6,466.75 594.85,466.92 594.85,467.43" fill="#d8222e" stroke="none" stroke-width="0.5"/>
<polygon points="595.6,467.43 595.6,466.97 595.85,466.65 596.1,466.31 596.35,466.07 596.6,466.05 596.85,466.25 597.1,466.58 597.35,466.69 597.6,466.64 597.85,466.6 598.1,466.57 598.35,466.56 598.6,466.54 598.85,466.26 599.1,465.75 599.35,465.39 599.6,465.36 599.85,465.66 600.1,466.15 600.35,466.53 600.6,466.53 600.85,466.53 601.1,466.54 601.35,466.54 601.6,466.47 601.85,466.27 602.1,466.25 602.35,466.42 602.6,466.68 602.85,466.73 603.1,466.8 603.35,466.88 603.6,466.96 603.6,467.43" fill="#d8222e" stroke="none" stroke-width="0.5"/>
<polygon points="426.85,476.76 426.85,476.26 427.1,476.04 427.35,475.89 427.6,475.87 427.85,476 428.1,476.21 428.1,476.76" fill="#d8222e" stroke="none" stroke-width="0.5"/>
<polygon points="443.35,476.76 443.35,476.12 443.6,475.9 443.85,475.87 444.1,476.07 444.1,476.76" fill="#d8222e" stroke="none" stroke-width="0.5"/>
<polygon points="461.1,476.76 461.1,476.16 461.35,476.14 461.6,476.26 461.6,476.76" fill="#d8222e" stroke="none" stroke-width="0.5"/>
<polygon points="472.6,476.76 472.6,476.08 472.85,475.91 473.1,475.95 473.35,476.17 473.35,476.76" fill="#d8222e" stroke="none" stroke-width="0.5"/>
<polygon points="488.6,476.76 488.6,476.3 488.85,476.09 489.1,475.9 489.35,475.78 489.6,475.77 489.85,475.87 490.1,476.05 490.35,475.96 490.6,475.73 490.85,475.59 491.1,475.57 491.35,475.69 491.6,475.91 491.85,476.16 491.85,476.76" fill="#d8222e" stroke="none" stroke-width="0.5"/>
<polygon points="508.1,476.76 508.1,476.18 508.35,476.06 508.6,476.05 508.85,476.15 509.1,476.18 509.35,476.16 509.6,476.13 509.85,476.1 510.1,476.08 510.35,476.05 510.6,476.03 510.85,476.01 511.1,475.98 511.35,475.96 511.6,475.94 511.85,475.82 512.1,475.81 512.35,475.88 512.6,475.86 512.85,475.84 513.1,475.83 513.35,475.81 513.6,475.8 513.85,475.79 514.1,475.77 514.35,475.76 514.6,475.75 514.85,475.74 515.1,475.73 515.35,475.72 515.6,475.72 515.85,475.71 516.1,475.7 516.35,475.7 516.6,475.69 516.85,475.69 517.1,475.68 517.35,475.68 517.6,475.68 517.85,475.67 518.1,475.67 518.35,475.67 518.6,475.67 518.85,475.67 519.1,475.66 519.35,475.66 519.6,475.66 519.85,475.66 520.1,475.66 520.35,475.66 520.6,475.66 520.85,475.66 521.1,475.51 521.35,475.25 521.6,475.22 521.85,475.44 522.1,475.66 522.35,475.66 522.6,475.66 522.85,475.66 523.1,475.56 523.35,475.09 523.6,474.81 523.85,474.84 524.1,475.17 524.35,475.66 524.6,475.66 524.85,475.66 525.1,475.66 525.35,475.66 525.6,475.51 525.85,475.25 526.1,475.22 526.35,475.44 526.6,475.66 526.85,475.66 527.1,475.67 527.35,475.67 527.6,475.67 527.85,475.67 528.1,475.67 528.35,475.68 528.6,475.68 528.85,475.68 529.1,475.69 529.35,475.69 529.6,475.7 529.85,475.7 530.1,475.71 530.35,475.71 530.6,475.72 530.85,475.73 531.1,475.74 531.35,475.75 531.6,475.76 531.85,475.77 532.1,475.78 532.35,475.8 532.6,475.81 532.85,475.83 533.1,475.84 533.35,475.82 533.6,475.81 533.85,475.89 534.1,475.91 534.35,475.93 534.6,475.96 534.85,475.98 535.1,476 535.35,476.02 535.6,476.05 535.85,476.07 536.1,475.99 536.35,475.88 536.6,475.87 536.85,475.96 537.1,476.12 537.35,476.23 537.6,476.26 537.85,476.29 537.85,476.76" fill="#d8222e" stroke="none" stroke-width="0.5"/>
<polygon points="541.35,476.76 541.35,476.27 541.6,476.12 541.85,476.13 542.1,476.29 542.1,476.76" fill="#d8222e" stroke="none" stroke-width="0.5"/>
<polygon points="543.1,476.76 543.1,476.19 543.35,475.93 543.6,475.84 543.85,475.98 544.1,476.26 544.1,476.76" fill="#d8222e" stroke="none" stroke-width="0.5"/>
<polygon points="558.1,476.76 558.1,476.3 558.35,476.09 558.6,475.9 558.85,475.78 559.1,475.77 559.35,475.87 559.6,476.05 559.85,476.14 560.1,476.11 560.35,476.08 560.6,476.05 560.85,476.02 561.1,476 561.35,475.97 561.6,475.95 561.85,475.93 562.1,475.9 562.35,475.88 562.6,475.73 562.85,475.59 563.1,475.57 563.35,475.69 563.6,475.79 563.85,475.78 564.1,475.77 564.35,475.75 564.6,475.74 564.85,475.73 565.1,475.72 565.35,475.71 565.6,475.71 565.85,475.7 566.1,475.69 566.35,475.69 566.6,475.68 566.85,475.59 567.1,475.57 567.35,475.67 567.6,475.67 567.85,475.67 568.1,475.67 568.35,475.67 568.6,475.66 568.85,475.66 569.1,475.66 569.35,475.66 569.6,475.66 569.85,475.66 570.1,475.66 570.35,475.66 570.6,475.66 570.85,475.66 571.1,475.66 571.35,475.66 571.6,475.66 571.85,475.66 572.1,475.66 572.35,475.66 572.6,475.66 572.85,475.66 573.1,475.66 573.35,475.66 573.6,475.66 573.85,475.62 574.1,475.6 574.35,475.66 574.6,475.66 574.85,475.66 575.1,475.66 575.35,475.66 575.6,475.66 575.85,475.13 576.1,474.19 576.35,473.89 576.6,474.29 576.85,475.04 577.1,475.68 577.35,475.68 577.6,475.69 577.85,475.69 578.1,475.49 578.35,475.23 578.6,475.2 578.85,475.43 579.1,475.73 579.35,475.74 579.6,475.75 579.85,475.76 580.1,475.78 580.35,475.79 580.6,475.75 580.85,475.54 581.1,475.52 581.35,475.7 581.6,475.88 581.85,475.9 582.1,475.92 582.35,475.94 582.6,475.97 582.85,475.99 583.1,476.02 583.35,475.89 583.6,475.87 583.85,476 584.1,476.13 584.35,476.16 584.6,476.19 584.85,476.22 585.1,476.25 585.35,476.28 585.6,476.31 585.6,476.76" fill="#d8222e" stroke="none" stroke-width="0.5"/>
<polygon points="593.85,476.76 593.85,476.27 594.1,475.98 594.35,475.82 594.6,475.88 594.85,476.14 594.85,476.76" fill="#d8222e" stroke="none" stroke-width="0.5"/>
<polygon points="595.6,476.76 595.6,476.3 595.85,475.98 596.1,475.64 596.35,475.4 596.6,475.38 596.85,475.58 597.1,475.91 597.35,476.02 597.6,475.97 597.85,475.93 598.1,475.9 598.35,475.89 598.6,475.87 598.85,475.87 599.1,475.69 599.35,475.46 599.6,475.44 599.85,475.63 600.1,475.86 600.35,475.86 600.6,475.86 600.85,475.86 601.1,475.87 601.35,475.87 601.6,475.8 601.85,475.6 602.1,475.58 602.35,475.75 602.6,476.01 602.85,476.06 603.1,476.13 603.35,476.21 603.6,476.29 603.6,476.76" fill="#d8222e" stroke="none" stroke-width="0.5"/>
<polygon points="604.85,476.76 604.85,476.2 605.1,475.93 605.35,475.82 605.6,475.96 605.85,476.23 605.85,476.76" fill="#d8222e" stroke="none" stroke-width="0.5"/>
<polygon points="426.85,486.09 426.85,485.59 427.1,485.37 427.35,485.22 427.6,485.2 427.85,485.33 428.1,485.54 428.1,486.09" fill="#d8222e" stroke="none" stroke-width="0.5"/>
<polygon points="437.1,486.09 437.1,485.37 437.35,485.12 437.6,485.09 437.85,485.31 438.1,485.62 438.1,486.09" fill="#d8222e" stroke="none" stroke-width="0.5"/>
<polygon points="485.85,486.09 485.85,485.53 486.1,485.3 486.35,485.24 486.6,485.39 486.6,486.09" fill="#d8222e" stroke="none" stroke-width="0.5"/>
<polygon points="488.6,486.09 488.6,485.63 488.85,485.42 489.1,485.23 489.35,485.11 489.6,485.1 489.85,485.2 490.1,485.38 490.35,485.29 490.6,485.06 490.85,484.92 491.1,484.9 491.35,485.02 491.6,485.24 491.85,485.49 491.85,486.09" fill="#d8222e" stroke="none" stroke-width="0.5"/>
<polygon points="494.85,486.09 494.85,485.57 495.1,485.23 495.35,485.02 495.6,485.08 495.85,485.35 495.85,486.09" fill="#d8222e" stroke="none" stroke-width="0.5"/>
<polygon points="507.85,486.09 507.85,485.49 508.1,485.22 508.35,485.04 508.6,485.02 508.85,485.18 509.1,485.43 509.35,485.49 509.6,485.46 509.85,485.37 510.1,485.39 510.35,485.38 510.6,485.36 510.85,485.34 511.1,485.31 511.35,485.13 511.6,484.86 511.85,484.68 512.1,484.66 512.35,484.81 512.6,485.07 512.85,485.17 513.1,485.16 513.35,485.14 513.6,485.13 513.85,485.12 514.1,485.1 514.35,485.09 514.6,485.08 514.85,485.07 515.1,485.06 515.35,484.95 515.6,484.93 515.85,485.04 516.1,485.02 516.35,485.03 516.6,485.02 516.85,485.02 517.1,485.01 517.35,485.01 517.6,485.01 517.85,485 518.1,485 518.35,485 518.6,484.7 518.85,484.5 519.1,484.49 519.35,484.65 519.6,484.94 519.85,484.99 520.1,484.99 520.35,484.99 520.6,484.99 520.85,484.79 521.1,484.21 521.35,483.82 521.6,483.78 521.85,484.11 522.1,484.67 522.35,484.99 522.6,484.99 522.85,484.99 523.1,484.29 523.35,483.58 523.6,483.16 523.85,483.21 524.1,483.71 524.35,484.44 524.6,484.99 524.85,484.99 525.1,484.99 525.35,484.79 525.6,484.21 525.85,483.82 526.1,483.78 526.35,484.11 526.6,484.67 526.85,484.99 527.1,485 527.35,485 527.6,485 527.85,485 528.1,485 528.35,485.01 528.6,485.01 528.85,485.01 529.1,485.02 529.35,485.02 529.6,485.03 529.85,485.03 530.1,485.02 530.35,485.04 530.6,485.05 530.85,485.06 531.1,485.07 531.35,485.08 531.6,485.09 531.85,485.1 532.1,485.11 532.35,485.13 532.6,485.14 532.85,485.13 533.1,484.86 533.35,484.68 533.6,484.66 533.85,484.81 534.1,485.07 534.35,485.26 534.6,485.29 534.85,485.31 535.1,485.33 535.35,485.35 535.6,485.38 535.85,485.19 536.1,484.93 536.35,484.77 536.6,484.75 536.85,484.89 537.1,485.13 537.35,485.42 537.6,485.59 537.85,485.62 537.85,486.09" fill="#d8222e" stroke="none" stroke-width="0.5"/>
<polygon points="547.85,486.09 547.85,485.59 548.1,485.31 548.35,485.18 548.6,485.28 548.85,485.53 548.85,486.09" fill="#d8222e" stroke="none" stroke-width="0.5"/>
<polygon points="558.1,486.09 558.1,485.63 558.35,485.42 558.6,485.23 558.85,485.11 559.1,485.1 559.35,485.2 559.6,485.38 559.85,485.47 560.1,485.44 560.35,485.41 560.6,485.38 560.85,485.35 561.1,485.33 561.35,485.3 561.6,485.28 561.85,485.26 562.1,485.23 562.35,485.21 562.6,485.06 562.85,484.92 563.1,484.9 563.35,485.02 563.6,485.12 563.85,485.11 564.1,485.1 564.35,485.08 564.6,485.07 564.85,485.06 565.1,485.05 565.35,485.04 565.6,485.04 565.85,485.03 566.1,485.02 566.35,485.02 566.6,485.01 566.85,484.92 567.1,484.9 567.35,485 567.6,485 567.85,485 568.1,485 568.35,485 568.6,484.99 568.85,484.99 569.1,484.99 569.35,484.99 569.6,484.99 569.85,484.99 570.1,484.99 570.35,484.99 570.6,484.82 570.85,484.56 571.1,484.53 571.35,484.76 571.6,484.99 571.85,484.99 572.1,484.99 572.35,484.99 572.6,484.99 572.85,484.99 573.1,484.99 573.35,484.94 573.6,484.44 573.85,484.09 574.1,484.06 574.35,484.35 574.6,484.84 574.85,484.99 575.1,484.99 575.35,484.99 575.6,484.65 575.85,482.84 576.1,480.95 576.35,480.35 576.6,481.15 576.85,482.65 577.1,484.16 577.35,485.01 577.6,485.02 577.85,484.5 578.1,483.8 578.35,483.32 578.6,483.27 578.85,483.68 579.1,484.35 579.35,485.04 579.6,485.08 579.85,485.09 580.1,485.11 580.35,484.85 580.6,484.31 580.85,483.94 581.1,483.9 581.35,484.22 581.6,484.74 581.85,485.23 582.1,485.25 582.35,485.27 582.6,485.3 582.85,485.25 583.1,484.89 583.35,484.64 583.6,484.61 583.85,484.82 584.1,485.18 584.35,485.49 584.6,485.52 584.85,485.55 585.1,485.58 585.35,485.61 585.6,485.64 585.6,486.09" fill="#d8222e" stroke="none" stroke-width="0.5"/>
<polygon points="590.35,486.09 590.35,485.33 590.6,485.11 590.85,485.12 591.1,485.35 591.1,486.09" fill="#d8222e" stroke="none" stroke-width="0.5"/>
<polygon points="595.6,486.09 595.6,485.63 595.85,485.31 596.1,484.97 596.35,484.73 596.6,484.71 596.85,484.91 597.1,485.24 597.35,485.35 597.6,485.3 597.85,485.26 598.1,485.23 598.35,485.22 598.6,485.2 598.85,485.03 599.1,484.56 599.35,484.24 599.6,484.21 599.85,484.48 600.1,484.93 600.35,485.19 600.6,485.19 600.85,485.19 601.1,485.2 601.35,485.2 601.6,485.13 601.85,484.93 602.1,484.91 602.35,485.08 602.6,485.34 602.85,485.39 603.1,485.46 603.35,485.54 603.6,485.62 603.6,486.09" fill="#d8222e" stroke="none" stroke-width="0.5"/>
<rect x="626.1" y="356.7" width="1.5" height="35.4" fill="#a9c6ee" stroke="none" stroke-width="0.8"/>
<rect x="626.1" y="395.2" width="1.5" height="35.1" fill="#6f80ee" stroke="none" stroke-width="0.8"/>
<rect x="626.1" y="433.9" width="1.5" height="52.1" fill="#e0707a" stroke="none" stroke-width="0.8"/>
<text x="631.5" y="379.77" font-size="9.4" fill="#78a8e6" textLength="53.3" lengthAdjust="spacingAndGlyphs">2nd trimester</text>
<text x="631.5" y="417.77" font-size="9.4" fill="#3048e0" textLength="51.4" lengthAdjust="spacingAndGlyphs">3rd trimester</text>
<text x="631.5" y="463.07" font-size="9.4" fill="#d8303c" textLength="54.5" lengthAdjust="spacingAndGlyphs">Preeclampsia</text>
</svg>
</body></html>
